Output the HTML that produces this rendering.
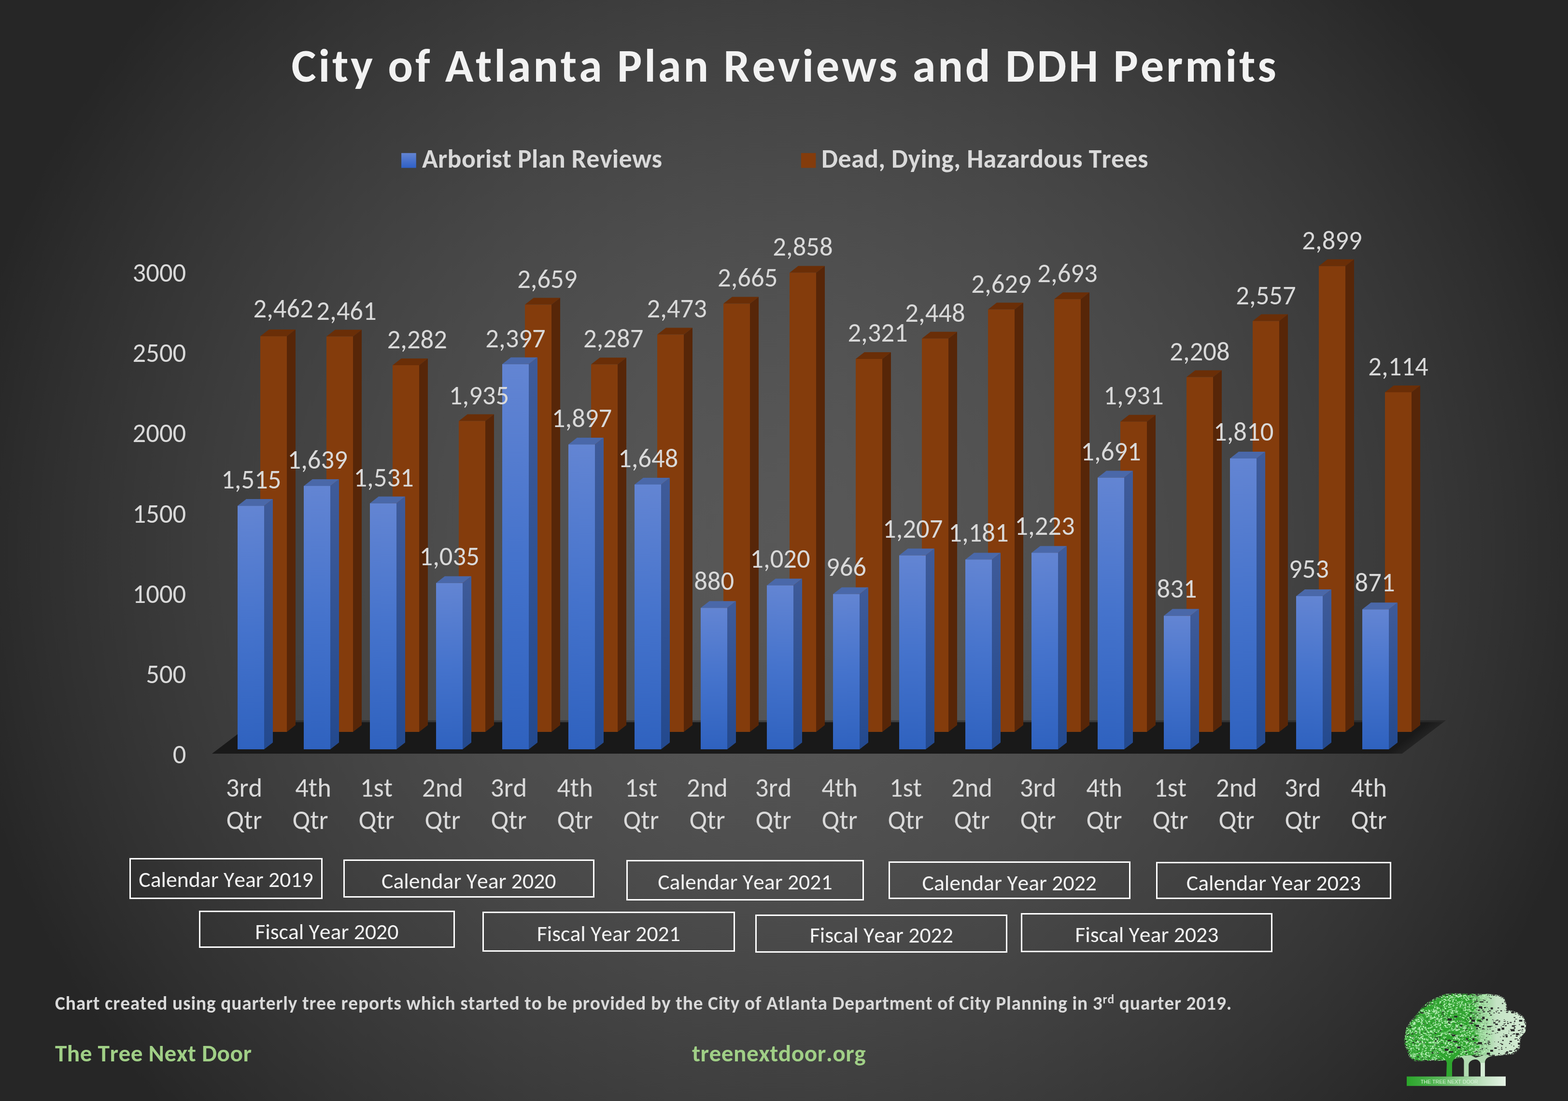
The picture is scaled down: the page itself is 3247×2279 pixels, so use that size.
<!DOCTYPE html>
<html><head><meta charset="utf-8"><title>City of Atlanta Plan Reviews and DDH Permits</title>
<style>
html,body{margin:0;padding:0}
body{width:3247px;height:2279px;position:relative;overflow:hidden;font-family:Carlito,'Liberation Sans',sans-serif;
background:radial-gradient(circle 1728px at 1623px 1140px,rgb(87.8,87.8,87.8) 0%,rgb(87.4,87.4,87.4) 5%,rgb(86.6,86.6,86.6) 10%,rgb(85.5,85.5,85.5) 15%,rgb(84.2,84.2,84.2) 20%,rgb(82.6,82.6,82.6) 25%,rgb(80.8,80.8,80.8) 30%,rgb(78.8,78.8,78.8) 35%,rgb(76.6,76.6,76.6) 40%,rgb(74.2,74.2,74.2) 45%,rgb(71.7,71.7,71.7) 50%,rgb(69.0,69.0,69.0) 55%,rgb(66.1,66.1,66.1) 60%,rgb(63.1,63.1,63.1) 65%,rgb(60.0,60.0,60.0) 70%,rgb(56.6,56.6,56.6) 75%,rgb(53.2,53.2,53.2) 80%,rgb(49.6,49.6,49.6) 85%,rgb(45.9,45.9,45.9) 90%,rgb(42.0,42.0,42.0) 95%,rgb(38.0,38.0,38.0) 100%);}
</style></head><body>
<svg width="3247" height="2279" viewBox="0 0 3247 2279" style="position:absolute;left:0;top:0">
<defs>
<linearGradient id="gbf" x1="0" y1="0" x2="0" y2="1">
<stop offset="0" stop-color="#6385d3"/><stop offset="0.5" stop-color="#4573cc"/><stop offset="1" stop-color="#2f62bf"/></linearGradient>
<linearGradient id="gbs" x1="0" y1="0" x2="0" y2="1">
<stop offset="0" stop-color="#3f5b99"/><stop offset="1" stop-color="#23498e"/></linearGradient>
<linearGradient id="gfl" gradientUnits="userSpaceOnUse" x1="2891.4" y1="1544.1" x2="2903.5" y2="1560">
<stop offset="0" stop-color="#191919"/><stop offset="1" stop-color="#232323"/></linearGradient>
<linearGradient id="glg" x1="0" y1="0" x2="0" y2="1">
<stop offset="0" stop-color="#6384d2"/><stop offset="1" stop-color="#2f60c6"/></linearGradient>
</defs>
<style>
.bf{fill:url(#gbf)} .bs{fill:url(#gbs)} .bt{fill:#4a68a9}
.of{fill:#843c0c} .os{fill:#572608} .ot{fill:#6a2e07}
text{font-family:Carlito,'Liberation Sans',sans-serif;fill:#d9d9d9;font-kerning:none;font-variant-ligatures:none;white-space:pre}
.c5{font-size:54.6px}
.ti{font-size:96.6px;font-weight:bold;letter-spacing:4.75px;fill:#f2f2f2}
.lgt{font-size:54px;font-weight:bold;letter-spacing:0.35px}
.bx{font-size:45.7px;fill:#f2f2f2}
.nt{font-size:39.4px;font-weight:bold;letter-spacing:0.835px}
.gr{font-size:49.3px;font-weight:bold;letter-spacing:0.45px;fill:#a0cf86}
</style>
<text id="title" x="1625.5" y="168.6" text-anchor="middle" class="ti" textLength="2043.86" lengthAdjust="spacingAndGlyphs">City of Atlanta Plan Reviews and DDH Permits</text>
<rect x="831.1" y="316.8" width="30.6" height="30.7" fill="url(#glg)"/>
<text id="lg1" x="874.0" y="347.2" class="lgt" textLength="497.42" lengthAdjust="spacingAndGlyphs">Arborist Plan Reviews</text>
<rect x="1658.8" y="316.8" width="30.6" height="30.7" fill="#843c0c"/>
<text id="lg2" x="1701.0" y="347.2" class="lgt" textLength="677.00" lengthAdjust="spacingAndGlyphs">Dead, Dying, Hazardous Trees</text>
<polygon fill="rgba(0,0,0,0.25)" points="529.5,1491.0 2994.0,1491.0 2989.0,1495.0 524.5,1495.0"/>
<polygon fill="url(#gfl)" points="439.0,1560.0 2903.5,1560.0 2989.0,1495.0 524.5,1495.0"/>
<polygon class="os" points="594.0,1515.0 612.0,1501.0 612.0,682.1 594.0,696.1"/>
<polygon class="ot" points="539.0,696.1 594.0,696.1 612.0,682.1 557.0,682.1"/>
<rect class="of" x="539.0" y="696.1" width="55.0" height="818.9"/>
<polygon class="os" points="731.0,1515.0 749.0,1501.0 749.0,682.5 731.0,696.5"/>
<polygon class="ot" points="676.0,696.5 731.0,696.5 749.0,682.5 694.0,682.5"/>
<rect class="of" x="676.0" y="696.5" width="55.0" height="818.5"/>
<polygon class="os" points="868.0,1515.0 886.0,1501.0 886.0,742.0 868.0,756.0"/>
<polygon class="ot" points="813.0,756.0 868.0,756.0 886.0,742.0 831.0,742.0"/>
<rect class="of" x="813.0" y="756.0" width="55.0" height="759.0"/>
<polygon class="os" points="1005.0,1515.0 1023.0,1501.0 1023.0,857.4 1005.0,871.4"/>
<polygon class="ot" points="950.0,871.4 1005.0,871.4 1023.0,857.4 968.0,857.4"/>
<rect class="of" x="950.0" y="871.4" width="55.0" height="643.6"/>
<polygon class="os" points="1142.0,1515.0 1160.0,1501.0 1160.0,616.6 1142.0,630.6"/>
<polygon class="ot" points="1087.0,630.6 1142.0,630.6 1160.0,616.6 1105.0,616.6"/>
<rect class="of" x="1087.0" y="630.6" width="55.0" height="884.4"/>
<polygon class="os" points="1279.0,1515.0 1297.0,1501.0 1297.0,740.3 1279.0,754.3"/>
<polygon class="ot" points="1224.0,754.3 1279.0,754.3 1297.0,740.3 1242.0,740.3"/>
<rect class="of" x="1224.0" y="754.3" width="55.0" height="760.7"/>
<polygon class="os" points="1416.0,1515.0 1434.0,1501.0 1434.0,678.5 1416.0,692.5"/>
<polygon class="ot" points="1361.0,692.5 1416.0,692.5 1434.0,678.5 1379.0,678.5"/>
<rect class="of" x="1361.0" y="692.5" width="55.0" height="822.5"/>
<polygon class="os" points="1553.0,1515.0 1571.0,1501.0 1571.0,614.6 1553.0,628.6"/>
<polygon class="ot" points="1498.0,628.6 1553.0,628.6 1571.0,614.6 1516.0,614.6"/>
<rect class="of" x="1498.0" y="628.6" width="55.0" height="886.4"/>
<polygon class="os" points="1690.0,1515.0 1708.0,1501.0 1708.0,550.4 1690.0,564.4"/>
<polygon class="ot" points="1635.0,564.4 1690.0,564.4 1708.0,550.4 1653.0,550.4"/>
<rect class="of" x="1635.0" y="564.4" width="55.0" height="950.6"/>
<polygon class="os" points="1827.0,1515.0 1845.0,1501.0 1845.0,729.0 1827.0,743.0"/>
<polygon class="ot" points="1772.0,743.0 1827.0,743.0 1845.0,729.0 1790.0,729.0"/>
<rect class="of" x="1772.0" y="743.0" width="55.0" height="772.0"/>
<polygon class="os" points="1964.0,1515.0 1982.0,1501.0 1982.0,686.8 1964.0,700.8"/>
<polygon class="ot" points="1909.0,700.8 1964.0,700.8 1982.0,686.8 1927.0,686.8"/>
<rect class="of" x="1909.0" y="700.8" width="55.0" height="814.2"/>
<polygon class="os" points="2101.0,1515.0 2119.0,1501.0 2119.0,626.6 2101.0,640.6"/>
<polygon class="ot" points="2046.0,640.6 2101.0,640.6 2119.0,626.6 2064.0,626.6"/>
<rect class="of" x="2046.0" y="640.6" width="55.0" height="874.4"/>
<polygon class="os" points="2238.0,1515.0 2256.0,1501.0 2256.0,605.3 2238.0,619.3"/>
<polygon class="ot" points="2183.0,619.3 2238.0,619.3 2256.0,605.3 2201.0,605.3"/>
<rect class="of" x="2183.0" y="619.3" width="55.0" height="895.7"/>
<polygon class="os" points="2375.0,1515.0 2393.0,1501.0 2393.0,858.7 2375.0,872.7"/>
<polygon class="ot" points="2320.0,872.7 2375.0,872.7 2393.0,858.7 2338.0,858.7"/>
<rect class="of" x="2320.0" y="872.7" width="55.0" height="642.3"/>
<polygon class="os" points="2512.0,1515.0 2530.0,1501.0 2530.0,766.6 2512.0,780.6"/>
<polygon class="ot" points="2457.0,780.6 2512.0,780.6 2530.0,766.6 2475.0,766.6"/>
<rect class="of" x="2457.0" y="780.6" width="55.0" height="734.4"/>
<polygon class="os" points="2649.0,1515.0 2667.0,1501.0 2667.0,650.5 2649.0,664.5"/>
<polygon class="ot" points="2594.0,664.5 2649.0,664.5 2667.0,650.5 2612.0,650.5"/>
<rect class="of" x="2594.0" y="664.5" width="55.0" height="850.5"/>
<polygon class="os" points="2786.0,1515.0 2804.0,1501.0 2804.0,536.8 2786.0,550.8"/>
<polygon class="ot" points="2731.0,550.8 2786.0,550.8 2804.0,536.8 2749.0,536.8"/>
<rect class="of" x="2731.0" y="550.8" width="55.0" height="964.2"/>
<polygon class="os" points="2923.0,1515.0 2941.0,1501.0 2941.0,797.9 2923.0,811.9"/>
<polygon class="ot" points="2868.0,811.9 2923.0,811.9 2941.0,797.9 2886.0,797.9"/>
<rect class="of" x="2868.0" y="811.9" width="55.0" height="703.1"/>
<polygon class="bs" points="547.0,1551.0 565.0,1537.0 565.0,1033.1 547.0,1047.1"/>
<polygon class="bt" points="492.0,1047.1 547.0,1047.1 565.0,1033.1 510.0,1033.1"/>
<rect class="bf" x="492.0" y="1047.1" width="55.0" height="503.9"/>
<polygon class="bs" points="684.0,1551.0 702.0,1537.0 702.0,991.9 684.0,1005.9"/>
<polygon class="bt" points="629.0,1005.9 684.0,1005.9 702.0,991.9 647.0,991.9"/>
<rect class="bf" x="629.0" y="1005.9" width="55.0" height="545.1"/>
<polygon class="bs" points="821.0,1551.0 839.0,1537.0 839.0,1027.8 821.0,1041.8"/>
<polygon class="bt" points="766.0,1041.8 821.0,1041.8 839.0,1027.8 784.0,1027.8"/>
<rect class="bf" x="766.0" y="1041.8" width="55.0" height="509.2"/>
<polygon class="bs" points="958.0,1551.0 976.0,1537.0 976.0,1192.8 958.0,1206.8"/>
<polygon class="bt" points="903.0,1206.8 958.0,1206.8 976.0,1192.8 921.0,1192.8"/>
<rect class="bf" x="903.0" y="1206.8" width="55.0" height="344.2"/>
<polygon class="bs" points="1095.0,1551.0 1113.0,1537.0 1113.0,739.8 1095.0,753.8"/>
<polygon class="bt" points="1040.0,753.8 1095.0,753.8 1113.0,739.8 1058.0,739.8"/>
<rect class="bf" x="1040.0" y="753.8" width="55.0" height="797.2"/>
<polygon class="bs" points="1232.0,1551.0 1250.0,1537.0 1250.0,906.1 1232.0,920.1"/>
<polygon class="bt" points="1177.0,920.1 1232.0,920.1 1250.0,906.1 1195.0,906.1"/>
<rect class="bf" x="1177.0" y="920.1" width="55.0" height="630.9"/>
<polygon class="bs" points="1369.0,1551.0 1387.0,1537.0 1387.0,988.9 1369.0,1002.9"/>
<polygon class="bt" points="1314.0,1002.9 1369.0,1002.9 1387.0,988.9 1332.0,988.9"/>
<rect class="bf" x="1314.0" y="1002.9" width="55.0" height="548.1"/>
<polygon class="bs" points="1506.0,1551.0 1524.0,1537.0 1524.0,1244.3 1506.0,1258.3"/>
<polygon class="bt" points="1451.0,1258.3 1506.0,1258.3 1524.0,1244.3 1469.0,1244.3"/>
<rect class="bf" x="1451.0" y="1258.3" width="55.0" height="292.7"/>
<polygon class="bs" points="1643.0,1551.0 1661.0,1537.0 1661.0,1197.7 1643.0,1211.7"/>
<polygon class="bt" points="1588.0,1211.7 1643.0,1211.7 1661.0,1197.7 1606.0,1197.7"/>
<rect class="bf" x="1588.0" y="1211.7" width="55.0" height="339.3"/>
<polygon class="bs" points="1780.0,1551.0 1798.0,1537.0 1798.0,1215.7 1780.0,1229.7"/>
<polygon class="bt" points="1725.0,1229.7 1780.0,1229.7 1798.0,1215.7 1743.0,1215.7"/>
<rect class="bf" x="1725.0" y="1229.7" width="55.0" height="321.3"/>
<polygon class="bs" points="1917.0,1551.0 1935.0,1537.0 1935.0,1135.6 1917.0,1149.6"/>
<polygon class="bt" points="1862.0,1149.6 1917.0,1149.6 1935.0,1135.6 1880.0,1135.6"/>
<rect class="bf" x="1862.0" y="1149.6" width="55.0" height="401.4"/>
<polygon class="bs" points="2054.0,1551.0 2072.0,1537.0 2072.0,1144.2 2054.0,1158.2"/>
<polygon class="bt" points="1999.0,1158.2 2054.0,1158.2 2072.0,1144.2 2017.0,1144.2"/>
<rect class="bf" x="1999.0" y="1158.2" width="55.0" height="392.8"/>
<polygon class="bs" points="2191.0,1551.0 2209.0,1537.0 2209.0,1130.2 2191.0,1144.2"/>
<polygon class="bt" points="2136.0,1144.2 2191.0,1144.2 2209.0,1130.2 2154.0,1130.2"/>
<rect class="bf" x="2136.0" y="1144.2" width="55.0" height="406.8"/>
<polygon class="bs" points="2328.0,1551.0 2346.0,1537.0 2346.0,974.6 2328.0,988.6"/>
<polygon class="bt" points="2273.0,988.6 2328.0,988.6 2346.0,974.6 2291.0,974.6"/>
<rect class="bf" x="2273.0" y="988.6" width="55.0" height="562.4"/>
<polygon class="bs" points="2465.0,1551.0 2483.0,1537.0 2483.0,1260.6 2465.0,1274.6"/>
<polygon class="bt" points="2410.0,1274.6 2465.0,1274.6 2483.0,1260.6 2428.0,1260.6"/>
<rect class="bf" x="2410.0" y="1274.6" width="55.0" height="276.4"/>
<polygon class="bs" points="2602.0,1551.0 2620.0,1537.0 2620.0,935.0 2602.0,949.0"/>
<polygon class="bt" points="2547.0,949.0 2602.0,949.0 2620.0,935.0 2565.0,935.0"/>
<rect class="bf" x="2547.0" y="949.0" width="55.0" height="602.0"/>
<polygon class="bs" points="2739.0,1551.0 2757.0,1537.0 2757.0,1220.0 2739.0,1234.0"/>
<polygon class="bt" points="2684.0,1234.0 2739.0,1234.0 2757.0,1220.0 2702.0,1220.0"/>
<rect class="bf" x="2684.0" y="1234.0" width="55.0" height="317.0"/>
<polygon class="bs" points="2876.0,1551.0 2894.0,1537.0 2894.0,1247.3 2876.0,1261.3"/>
<polygon class="bt" points="2821.0,1261.3 2876.0,1261.3 2894.0,1247.3 2839.0,1247.3"/>
<rect class="bf" x="2821.0" y="1261.3" width="55.0" height="289.7"/>
<text id="o0" x="586.7" y="656.6" text-anchor="middle" class="c5" textLength="124.31" lengthAdjust="spacingAndGlyphs">2,462</text>
<text id="o1" x="717.5" y="661.9" text-anchor="middle" class="c5" textLength="124.31" lengthAdjust="spacingAndGlyphs">2,461</text>
<text id="o2" x="863.8" y="721.2" text-anchor="middle" class="c5" textLength="124.31" lengthAdjust="spacingAndGlyphs">2,282</text>
<text id="o3" x="992.0" y="836.8" text-anchor="middle" class="c5" textLength="124.31" lengthAdjust="spacingAndGlyphs">1,935</text>
<text id="o4" x="1133.3" y="595.7" text-anchor="middle" class="c5" textLength="124.31" lengthAdjust="spacingAndGlyphs">2,659</text>
<text id="o5" x="1270.2" y="719.1" text-anchor="middle" class="c5" textLength="124.31" lengthAdjust="spacingAndGlyphs">2,287</text>
<text id="o6" x="1401.7" y="656.8" text-anchor="middle" class="c5" textLength="124.31" lengthAdjust="spacingAndGlyphs">2,473</text>
<text id="o7" x="1548.2" y="593.3" text-anchor="middle" class="c5" textLength="124.31" lengthAdjust="spacingAndGlyphs">2,665</text>
<text id="o8" x="1662.5" y="529.4" text-anchor="middle" class="c5" textLength="124.31" lengthAdjust="spacingAndGlyphs">2,858</text>
<text id="o9" x="1817.6" y="706.8" text-anchor="middle" class="c5" textLength="124.31" lengthAdjust="spacingAndGlyphs">2,321</text>
<text id="o10" x="1936.5" y="665.8" text-anchor="middle" class="c5" textLength="124.31" lengthAdjust="spacingAndGlyphs">2,448</text>
<text id="o11" x="2073.5" y="605.6" text-anchor="middle" class="c5" textLength="124.31" lengthAdjust="spacingAndGlyphs">2,629</text>
<text id="o12" x="2210.5" y="584.3" text-anchor="middle" class="c5" textLength="124.31" lengthAdjust="spacingAndGlyphs">2,693</text>
<text id="o13" x="2347.5" y="836.7" text-anchor="middle" class="c5" textLength="124.31" lengthAdjust="spacingAndGlyphs">1,931</text>
<text id="o14" x="2484.5" y="745.6" text-anchor="middle" class="c5" textLength="124.31" lengthAdjust="spacingAndGlyphs">2,208</text>
<text id="o15" x="2621.5" y="629.5" text-anchor="middle" class="c5" textLength="124.31" lengthAdjust="spacingAndGlyphs">2,557</text>
<text id="o16" x="2758.5" y="515.8" text-anchor="middle" class="c5" textLength="124.31" lengthAdjust="spacingAndGlyphs">2,899</text>
<text id="o17" x="2895.5" y="776.9" text-anchor="middle" class="c5" textLength="124.31" lengthAdjust="spacingAndGlyphs">2,114</text>
<text id="b0" x="520.3" y="1010.9" text-anchor="middle" class="c5" textLength="124.31" lengthAdjust="spacingAndGlyphs">1,515</text>
<text id="b1" x="657.7" y="970.3" text-anchor="middle" class="c5" textLength="124.31" lengthAdjust="spacingAndGlyphs">1,639</text>
<text id="b2" x="794.6" y="1006.9" text-anchor="middle" class="c5" textLength="124.31" lengthAdjust="spacingAndGlyphs">1,531</text>
<text id="b3" x="930.7" y="1170.2" text-anchor="middle" class="c5" textLength="124.31" lengthAdjust="spacingAndGlyphs">1,035</text>
<text id="b4" x="1067.5" y="719.1" text-anchor="middle" class="c5" textLength="124.31" lengthAdjust="spacingAndGlyphs">2,397</text>
<text id="b5" x="1205.0" y="884.2" text-anchor="middle" class="c5" textLength="124.31" lengthAdjust="spacingAndGlyphs">1,897</text>
<text id="b6" x="1342.2" y="966.5" text-anchor="middle" class="c5" textLength="124.31" lengthAdjust="spacingAndGlyphs">1,648</text>
<text id="b7" x="1478.7" y="1220.7" text-anchor="middle" class="c5" textLength="83.02" lengthAdjust="spacingAndGlyphs">880</text>
<text id="b8" x="1615.5" y="1175.3" text-anchor="middle" class="c5" textLength="124.31" lengthAdjust="spacingAndGlyphs">1,020</text>
<text id="b9" x="1752.5" y="1192.0" text-anchor="middle" class="c5" textLength="83.02" lengthAdjust="spacingAndGlyphs">966</text>
<text id="b10" x="1890.2" y="1112.5" text-anchor="middle" class="c5" textLength="124.31" lengthAdjust="spacingAndGlyphs">1,207</text>
<text id="b11" x="2026.5" y="1121.0" text-anchor="middle" class="c5" textLength="124.31" lengthAdjust="spacingAndGlyphs">1,181</text>
<text id="b12" x="2163.5" y="1107.0" text-anchor="middle" class="c5" textLength="124.31" lengthAdjust="spacingAndGlyphs">1,223</text>
<text id="b13" x="2300.5" y="953.0" text-anchor="middle" class="c5" textLength="124.31" lengthAdjust="spacingAndGlyphs">1,691</text>
<text id="b14" x="2437.0" y="1237.4" text-anchor="middle" class="c5" textLength="83.02" lengthAdjust="spacingAndGlyphs">831</text>
<text id="b15" x="2575.2" y="911.7" text-anchor="middle" class="c5" textLength="124.31" lengthAdjust="spacingAndGlyphs">1,810</text>
<text id="b16" x="2710.5" y="1196.2" text-anchor="middle" class="c5" textLength="83.02" lengthAdjust="spacingAndGlyphs">953</text>
<text id="b17" x="2847.1" y="1224.4" text-anchor="middle" class="c5" textLength="83.02" lengthAdjust="spacingAndGlyphs">871</text>
<text id="ax0" x="385.3" y="1580.4" text-anchor="end" class="c5" textLength="27.67" lengthAdjust="spacingAndGlyphs">0</text>
<text id="ax1" x="385.3" y="1414.1" text-anchor="end" class="c5" textLength="83.02" lengthAdjust="spacingAndGlyphs">500</text>
<text id="ax2" x="385.3" y="1247.8" text-anchor="end" class="c5" textLength="110.69" lengthAdjust="spacingAndGlyphs">1000</text>
<text id="ax3" x="385.3" y="1081.5" text-anchor="end" class="c5" textLength="110.69" lengthAdjust="spacingAndGlyphs">1500</text>
<text id="ax4" x="385.3" y="915.2" text-anchor="end" class="c5" textLength="110.69" lengthAdjust="spacingAndGlyphs">2000</text>
<text id="ax5" x="385.3" y="748.9" text-anchor="end" class="c5" textLength="110.69" lengthAdjust="spacingAndGlyphs">2500</text>
<text id="ax6" x="385.3" y="582.6" text-anchor="end" class="c5" textLength="110.69" lengthAdjust="spacingAndGlyphs">3000</text>
<text id="ca0" x="505.5" y="1649.0" text-anchor="middle" class="c5" textLength="75.39" lengthAdjust="spacingAndGlyphs">3rd</text>
<text id="cb0" x="505.5" y="1716.0" text-anchor="middle" class="c5" textLength="74.06" lengthAdjust="spacingAndGlyphs">Qtr</text>
<text id="ca1" x="648.5" y="1649.0" text-anchor="middle" class="c5" textLength="74.64" lengthAdjust="spacingAndGlyphs">4th</text>
<text id="cb1" x="642.5" y="1716.0" text-anchor="middle" class="c5" textLength="74.06" lengthAdjust="spacingAndGlyphs">Qtr</text>
<text id="ca2" x="779.5" y="1649.0" text-anchor="middle" class="c5" textLength="67.31" lengthAdjust="spacingAndGlyphs">1st</text>
<text id="cb2" x="779.5" y="1716.0" text-anchor="middle" class="c5" textLength="74.06" lengthAdjust="spacingAndGlyphs">Qtr</text>
<text id="ca3" x="916.5" y="1649.0" text-anchor="middle" class="c5" textLength="85.05" lengthAdjust="spacingAndGlyphs">2nd</text>
<text id="cb3" x="916.5" y="1716.0" text-anchor="middle" class="c5" textLength="74.06" lengthAdjust="spacingAndGlyphs">Qtr</text>
<text id="ca4" x="1053.5" y="1649.0" text-anchor="middle" class="c5" textLength="75.39" lengthAdjust="spacingAndGlyphs">3rd</text>
<text id="cb4" x="1053.5" y="1716.0" text-anchor="middle" class="c5" textLength="74.06" lengthAdjust="spacingAndGlyphs">Qtr</text>
<text id="ca5" x="1190.5" y="1649.0" text-anchor="middle" class="c5" textLength="74.64" lengthAdjust="spacingAndGlyphs">4th</text>
<text id="cb5" x="1190.5" y="1716.0" text-anchor="middle" class="c5" textLength="74.06" lengthAdjust="spacingAndGlyphs">Qtr</text>
<text id="ca6" x="1327.5" y="1649.0" text-anchor="middle" class="c5" textLength="67.31" lengthAdjust="spacingAndGlyphs">1st</text>
<text id="cb6" x="1327.5" y="1716.0" text-anchor="middle" class="c5" textLength="74.06" lengthAdjust="spacingAndGlyphs">Qtr</text>
<text id="ca7" x="1464.5" y="1649.0" text-anchor="middle" class="c5" textLength="85.05" lengthAdjust="spacingAndGlyphs">2nd</text>
<text id="cb7" x="1464.5" y="1716.0" text-anchor="middle" class="c5" textLength="74.06" lengthAdjust="spacingAndGlyphs">Qtr</text>
<text id="ca8" x="1601.5" y="1649.0" text-anchor="middle" class="c5" textLength="75.39" lengthAdjust="spacingAndGlyphs">3rd</text>
<text id="cb8" x="1601.5" y="1716.0" text-anchor="middle" class="c5" textLength="74.06" lengthAdjust="spacingAndGlyphs">Qtr</text>
<text id="ca9" x="1738.5" y="1649.0" text-anchor="middle" class="c5" textLength="74.64" lengthAdjust="spacingAndGlyphs">4th</text>
<text id="cb9" x="1738.5" y="1716.0" text-anchor="middle" class="c5" textLength="74.06" lengthAdjust="spacingAndGlyphs">Qtr</text>
<text id="ca10" x="1875.5" y="1649.0" text-anchor="middle" class="c5" textLength="67.31" lengthAdjust="spacingAndGlyphs">1st</text>
<text id="cb10" x="1875.5" y="1716.0" text-anchor="middle" class="c5" textLength="74.06" lengthAdjust="spacingAndGlyphs">Qtr</text>
<text id="ca11" x="2012.5" y="1649.0" text-anchor="middle" class="c5" textLength="85.05" lengthAdjust="spacingAndGlyphs">2nd</text>
<text id="cb11" x="2012.5" y="1716.0" text-anchor="middle" class="c5" textLength="74.06" lengthAdjust="spacingAndGlyphs">Qtr</text>
<text id="ca12" x="2149.5" y="1649.0" text-anchor="middle" class="c5" textLength="75.39" lengthAdjust="spacingAndGlyphs">3rd</text>
<text id="cb12" x="2149.5" y="1716.0" text-anchor="middle" class="c5" textLength="74.06" lengthAdjust="spacingAndGlyphs">Qtr</text>
<text id="ca13" x="2286.5" y="1649.0" text-anchor="middle" class="c5" textLength="74.64" lengthAdjust="spacingAndGlyphs">4th</text>
<text id="cb13" x="2286.5" y="1716.0" text-anchor="middle" class="c5" textLength="74.06" lengthAdjust="spacingAndGlyphs">Qtr</text>
<text id="ca14" x="2423.5" y="1649.0" text-anchor="middle" class="c5" textLength="67.31" lengthAdjust="spacingAndGlyphs">1st</text>
<text id="cb14" x="2423.5" y="1716.0" text-anchor="middle" class="c5" textLength="74.06" lengthAdjust="spacingAndGlyphs">Qtr</text>
<text id="ca15" x="2560.5" y="1649.0" text-anchor="middle" class="c5" textLength="85.05" lengthAdjust="spacingAndGlyphs">2nd</text>
<text id="cb15" x="2560.5" y="1716.0" text-anchor="middle" class="c5" textLength="74.06" lengthAdjust="spacingAndGlyphs">Qtr</text>
<text id="ca16" x="2697.5" y="1649.0" text-anchor="middle" class="c5" textLength="75.39" lengthAdjust="spacingAndGlyphs">3rd</text>
<text id="cb16" x="2697.5" y="1716.0" text-anchor="middle" class="c5" textLength="74.06" lengthAdjust="spacingAndGlyphs">Qtr</text>
<text id="ca17" x="2834.5" y="1649.0" text-anchor="middle" class="c5" textLength="74.64" lengthAdjust="spacingAndGlyphs">4th</text>
<text id="cb17" x="2834.5" y="1716.0" text-anchor="middle" class="c5" textLength="74.06" lengthAdjust="spacingAndGlyphs">Qtr</text>
<rect x="269.5" y="1777.5" width="397" height="82" fill="none" stroke="#ffffff" stroke-width="3"/>
<text id="bx0" x="468.0" y="1836.3" text-anchor="middle" class="bx" textLength="361.38" lengthAdjust="spacingAndGlyphs">Calendar Year 2019</text>
<rect x="712.5" y="1780.5" width="517" height="76" fill="none" stroke="#ffffff" stroke-width="3"/>
<text id="bx1" x="970.8" y="1839.0" text-anchor="middle" class="bx" textLength="361.38" lengthAdjust="spacingAndGlyphs">Calendar Year 2020</text>
<rect x="1298.5" y="1781.5" width="489" height="81" fill="none" stroke="#ffffff" stroke-width="3"/>
<text id="bx2" x="1542.9" y="1840.6" text-anchor="middle" class="bx" textLength="361.38" lengthAdjust="spacingAndGlyphs">Calendar Year 2021</text>
<rect x="1841.5" y="1784.5" width="498" height="75" fill="none" stroke="#ffffff" stroke-width="3"/>
<text id="bx3" x="2090.3" y="1842.8" text-anchor="middle" class="bx" textLength="361.38" lengthAdjust="spacingAndGlyphs">Calendar Year 2022</text>
<rect x="2395.5" y="1785.5" width="484" height="74" fill="none" stroke="#ffffff" stroke-width="3"/>
<text id="bx4" x="2637.5" y="1842.8" text-anchor="middle" class="bx" textLength="361.38" lengthAdjust="spacingAndGlyphs">Calendar Year 2023</text>
<rect x="413.5" y="1886.5" width="527" height="74" fill="none" stroke="#ffffff" stroke-width="3"/>
<text id="bx5" x="676.8" y="1943.8" text-anchor="middle" class="bx" textLength="297.12" lengthAdjust="spacingAndGlyphs">Fiscal Year 2020</text>
<rect x="1000.5" y="1888.5" width="520" height="80" fill="none" stroke="#ffffff" stroke-width="3"/>
<text id="bx6" x="1260.3" y="1948.0" text-anchor="middle" class="bx" textLength="297.12" lengthAdjust="spacingAndGlyphs">Fiscal Year 2021</text>
<rect x="1565.5" y="1894.5" width="519" height="76" fill="none" stroke="#ffffff" stroke-width="3"/>
<text id="bx7" x="1825.3" y="1950.8" text-anchor="middle" class="bx" textLength="297.12" lengthAdjust="spacingAndGlyphs">Fiscal Year 2022</text>
<rect x="2115.5" y="1891.5" width="518" height="78" fill="none" stroke="#ffffff" stroke-width="3"/>
<text id="bx8" x="2374.8" y="1949.5" text-anchor="middle" class="bx" textLength="297.12" lengthAdjust="spacingAndGlyphs">Fiscal Year 2023</text>
<text id="note" x="114.0" y="2090.0" class="nt" textLength="2437.08" lengthAdjust="spacingAndGlyphs">Chart created using quarterly tree reports which started to be provided by the City of Atlanta Department of City Planning in 3<tspan dy="-12.8" style="font-size:25.6px">rd</tspan><tspan dy="12.8"> quarter 2019.</tspan></text>
<text id="tnd" x="114.0" y="2197.2" class="gr" textLength="407.42" lengthAdjust="spacingAndGlyphs">The Tree Next Door</text>
<text id="url" x="1433.0" y="2197.2" class="gr" textLength="360.02" lengthAdjust="spacingAndGlyphs">treenextdoor.org</text>
</svg>
<svg width="3247" height="2279" viewBox="0 0 3247 2279" style="position:absolute;left:0;top:0">
<defs>
<linearGradient id="lgc" gradientUnits="userSpaceOnUse" x1="2900" y1="0" x2="3165" y2="0">
<stop offset="0" stop-color="#36a636"/><stop offset="0.55" stop-color="#34a534"/><stop offset="0.63" stop-color="#8fcc8f"/><stop offset="0.75" stop-color="#c4e3c4"/><stop offset="1" stop-color="#d8edd8"/></linearGradient>
<linearGradient id="lgb" gradientUnits="userSpaceOnUse" x1="2913" y1="0" x2="3118" y2="0">
<stop offset="0" stop-color="#2aa52a"/><stop offset="0.35" stop-color="#5cb85c"/><stop offset="0.7" stop-color="#b4dcb4"/><stop offset="1" stop-color="#e6f3e6"/></linearGradient>
<clipPath id="lcp"><polygon points="2907.8,2153.0 2912.0,2128.0 2922.0,2112.0 2930.0,2104.0 2945.0,2085.0 2956.0,2075.0 2972.0,2066.0 2991.0,2058.0 3010.0,2056.0 3030.0,2056.7 3056.0,2057.4 3075.0,2057.0 3089.0,2058.0 3105.0,2060.0 3115.0,2066.0 3120.0,2080.0 3121.0,2090.6 3135.0,2093.0 3145.0,2097.0 3155.0,2105.0 3160.5,2118.0 3159.0,2136.0 3150.0,2146.0 3147.5,2158.0 3147.5,2169.0 3140.0,2178.0 3134.0,2182.0 3115.0,2184.0 3095.0,2186.0 3082.0,2185.7 3060.0,2186.0 3045.0,2186.0 3030.0,2188.0 3010.0,2192.0 2991.0,2195.0 2970.0,2196.0 2952.0,2196.0 2935.0,2197.0 2928.6,2196.0 2918.0,2188.0 2914.0,2175.0 2909.0,2165.0"/></clipPath>
</defs>
<polygon points="2907.8,2153.0 2912.0,2128.0 2922.0,2112.0 2930.0,2104.0 2945.0,2085.0 2956.0,2075.0 2972.0,2066.0 2991.0,2058.0 3010.0,2056.0 3030.0,2056.7 3056.0,2057.4 3075.0,2057.0 3089.0,2058.0 3105.0,2060.0 3115.0,2066.0 3120.0,2080.0 3121.0,2090.6 3135.0,2093.0 3145.0,2097.0 3155.0,2105.0 3160.5,2118.0 3159.0,2136.0 3150.0,2146.0 3147.5,2158.0 3147.5,2169.0 3140.0,2178.0 3134.0,2182.0 3115.0,2184.0 3095.0,2186.0 3082.0,2185.7 3060.0,2186.0 3045.0,2186.0 3030.0,2188.0 3010.0,2192.0 2991.0,2195.0 2970.0,2196.0 2952.0,2196.0 2935.0,2197.0 2928.6,2196.0 2918.0,2188.0 2914.0,2175.0 2909.0,2165.0" fill="url(#lgc)"/>
<g clip-path="url(#lcp)">
<path d="M2986.4 2134.8h3.4v1.6h-3.4zM2996.4 2138.9h1.5v1.7h-1.5zM3018.4 2169.4h1.2v1.3h-1.2zM2921.3 2171.8h2.8v0.9h-2.8zM3081.8 2194.8h2.7v1.9h-2.7zM2933.3 2054.2h2.4v0.9h-2.4zM2939.2 2087.8h1.1v1.6h-1.1zM2984.3 2176.7h2.3v2.0h-2.3zM2995.0 2150.0h2.2v1.3h-2.2zM3084.6 2199.4h3.2v2.1h-3.2zM2961.7 2086.0h1.8v0.9h-1.8zM3042.9 2111.3h3.2v1.5h-3.2zM3077.4 2177.4h1.0v1.2h-1.0zM3068.8 2121.6h3.5v1.5h-3.5zM2918.1 2145.2h3.0v1.3h-3.0zM2920.7 2101.2h3.5v2.2h-3.5zM2926.2 2088.5h1.3v0.9h-1.3zM3048.5 2078.3h2.5v1.6h-2.5zM2939.3 2160.3h1.3v2.0h-1.3zM2926.0 2114.3h1.6v1.3h-1.6zM3079.8 2170.9h1.8v2.4h-1.8zM2942.9 2110.4h3.2v2.0h-3.2zM2923.1 2198.4h1.6v1.3h-1.6zM3044.1 2100.7h1.8v0.9h-1.8zM2921.2 2138.2h1.6v1.9h-1.6zM2971.9 2119.1h3.5v1.7h-3.5zM3008.4 2180.2h1.5v1.1h-1.5zM3068.5 2173.0h1.6v1.1h-1.6zM3038.1 2191.2h1.5v2.5h-1.5zM3063.8 2141.3h2.1v1.0h-2.1zM2912.0 2194.5h1.6v2.1h-1.6zM2951.3 2173.9h2.6v1.3h-2.6zM2936.6 2158.6h1.2v1.2h-1.2zM3005.7 2178.2h2.6v1.3h-2.6zM3070.1 2082.2h1.0v1.3h-1.0zM2985.2 2060.9h1.5v1.5h-1.5zM3008.0 2071.5h1.9v2.4h-1.9zM3081.5 2149.2h2.8v1.9h-2.8zM2930.3 2057.2h1.0v2.4h-1.0zM3031.2 2194.5h1.1v1.9h-1.1zM2991.8 2160.1h1.8v2.6h-1.8zM2918.5 2132.8h2.9v2.4h-2.9zM3037.7 2156.1h3.1v2.4h-3.1zM2968.3 2153.4h3.3v2.4h-3.3zM2980.1 2169.0h3.2v1.8h-3.2zM3017.5 2108.6h2.5v1.9h-2.5zM2919.4 2146.6h3.6v2.4h-3.6zM3036.1 2109.5h2.9v1.8h-2.9zM2984.3 2176.1h1.2v2.2h-1.2zM2910.4 2141.0h2.3v1.2h-2.3zM3030.7 2125.6h2.6v2.5h-2.6zM2951.0 2053.7h1.8v2.0h-1.8zM2941.5 2077.1h3.4v2.0h-3.4zM2984.5 2184.0h1.9v2.0h-1.9zM2940.7 2115.8h3.1v2.4h-3.1zM3063.4 2108.9h2.5v1.4h-2.5zM2929.5 2125.5h3.2v2.3h-3.2zM3033.0 2192.6h1.7v1.1h-1.7zM2986.1 2092.7h1.6v1.5h-1.6zM3017.6 2125.1h1.8v2.3h-1.8zM3081.8 2119.0h1.2v0.9h-1.2zM3062.1 2058.1h2.8v1.8h-2.8zM2960.6 2169.1h1.0v1.0h-1.0zM2986.9 2055.7h3.2v1.2h-3.2zM2930.4 2058.9h2.6v1.6h-2.6zM3018.4 2148.9h3.1v2.5h-3.1zM3028.2 2081.5h2.2v1.1h-2.2zM2906.9 2121.9h2.9v1.1h-2.9zM2954.0 2103.2h2.8v1.7h-2.8zM3015.6 2163.9h2.0v2.2h-2.0zM3068.1 2064.9h3.4v2.1h-3.4zM2928.4 2119.1h2.6v2.4h-2.6zM2972.8 2136.2h3.3v2.2h-3.3zM3075.0 2120.6h2.7v1.2h-2.7zM3034.9 2173.1h2.7v2.1h-2.7zM2943.4 2185.2h3.5v2.6h-3.5zM3001.7 2169.0h1.8v2.4h-1.8zM3059.0 2103.6h1.2v1.6h-1.2zM3004.1 2165.7h2.3v0.9h-2.3zM3050.6 2061.5h3.1v1.1h-3.1zM2965.3 2168.6h1.4v1.1h-1.4zM2998.0 2159.1h3.2v2.0h-3.2zM3075.2 2124.9h3.5v1.0h-3.5zM2944.9 2129.9h1.8v2.1h-1.8zM3020.0 2129.4h3.2v1.8h-3.2zM2961.1 2108.4h3.2v2.4h-3.2zM2942.5 2177.9h3.5v1.7h-3.5zM3008.1 2081.7h2.4v1.7h-2.4zM3013.9 2056.1h3.5v1.7h-3.5zM2977.1 2170.6h2.5v1.7h-2.5zM3029.4 2061.8h2.4v1.5h-2.4zM3077.2 2188.7h1.7v1.7h-1.7zM2927.9 2116.2h3.1v2.4h-3.1zM2990.8 2098.9h1.5v1.9h-1.5zM3071.5 2071.2h3.0v0.8h-3.0zM2939.9 2085.6h2.8v1.4h-2.8zM2969.0 2143.7h1.3v2.1h-1.3zM2927.1 2127.5h1.7v1.2h-1.7zM3000.5 2116.6h2.0v1.5h-2.0zM3000.3 2075.6h1.5v1.9h-1.5zM3019.9 2130.4h3.2v1.9h-3.2zM3059.2 2086.4h2.9v2.3h-2.9zM3067.5 2098.7h1.8v2.5h-1.8zM2944.3 2199.8h3.3v1.0h-3.3zM2948.1 2159.5h1.7v1.0h-1.7zM3054.8 2114.4h3.1v1.0h-3.1zM2977.5 2153.4h1.0v1.2h-1.0zM3027.8 2186.9h3.5v1.0h-3.5zM2996.0 2164.2h2.3v2.0h-2.3zM2939.0 2062.4h1.3v0.9h-1.3zM3004.3 2128.2h2.5v1.1h-2.5zM2938.2 2082.2h3.2v2.6h-3.2zM3071.8 2066.1h1.2v2.5h-1.2zM2988.2 2165.2h1.8v1.6h-1.8zM2997.8 2115.7h2.6v0.8h-2.6zM3031.2 2177.0h1.5v1.6h-1.5zM3038.1 2112.0h1.5v1.1h-1.5zM2997.3 2054.3h3.3v2.2h-3.3zM3031.8 2179.4h2.6v1.5h-2.6zM3012.9 2126.6h3.6v2.2h-3.6zM2951.5 2186.9h2.9v2.2h-2.9zM3051.6 2112.0h3.3v2.4h-3.3zM3030.1 2165.6h3.0v1.5h-3.0zM3035.1 2062.4h1.9v1.6h-1.9zM2906.9 2104.6h2.7v1.9h-2.7zM2946.8 2191.8h2.7v1.4h-2.7zM3023.8 2136.3h2.4v1.5h-2.4zM3085.0 2147.1h2.8v2.2h-2.8zM3081.4 2055.4h2.6v2.1h-2.6zM2951.2 2111.4h1.1v1.2h-1.1zM2972.6 2066.6h1.7v2.4h-1.7zM3004.0 2127.2h3.5v1.8h-3.5zM3084.1 2146.4h3.1v0.9h-3.1zM3012.6 2164.4h1.1v2.5h-1.1zM2933.8 2121.8h1.4v1.7h-1.4zM3015.0 2060.7h3.5v1.6h-3.5zM2999.8 2140.5h2.0v1.3h-2.0zM3022.9 2135.0h1.7v2.1h-1.7zM2958.3 2054.1h1.6v0.9h-1.6zM2933.2 2163.7h2.0v2.4h-2.0zM3039.7 2059.4h3.6v2.5h-3.6zM2918.2 2186.0h2.1v1.7h-2.1zM3080.2 2088.1h2.4v2.5h-2.4zM3035.1 2121.3h3.5v2.3h-3.5zM3013.7 2069.0h2.6v1.6h-2.6zM2941.7 2059.7h2.4v1.0h-2.4zM2984.7 2150.8h2.2v1.3h-2.2zM3009.8 2114.1h3.0v1.8h-3.0zM3084.6 2193.0h2.9v1.2h-2.9zM2925.5 2184.1h3.0v1.9h-3.0zM2969.7 2092.2h2.8v1.8h-2.8zM3011.5 2145.7h3.0v1.1h-3.0zM2949.8 2197.0h3.4v2.4h-3.4zM2912.1 2061.0h1.7v1.6h-1.7zM3017.2 2067.2h2.4v0.9h-2.4zM2920.6 2152.1h2.4v1.9h-2.4zM2972.2 2122.8h1.5v1.4h-1.5zM3039.1 2176.1h1.2v1.0h-1.2zM3050.7 2144.3h3.0v1.2h-3.0zM2981.4 2090.2h3.1v1.5h-3.1zM3022.7 2198.4h1.8v1.8h-1.8zM3039.3 2188.3h2.1v1.5h-2.1zM2922.5 2181.5h1.2v0.9h-1.2zM3006.6 2123.8h2.8v1.3h-2.8zM3044.6 2063.3h1.6v2.0h-1.6zM2919.7 2097.0h2.9v2.0h-2.9zM2955.9 2073.2h1.9v2.1h-1.9zM2971.0 2069.4h2.8v1.8h-2.8zM3070.3 2191.1h3.4v1.6h-3.4zM3049.5 2097.1h1.8v1.5h-1.8zM3073.2 2184.4h1.6v1.5h-1.6zM2970.8 2105.8h2.0v1.5h-2.0zM2940.1 2135.4h3.1v1.8h-3.1zM3055.5 2135.3h1.5v2.2h-1.5zM3063.6 2093.7h1.1v1.7h-1.1zM3002.9 2136.0h3.5v2.0h-3.5zM3049.8 2061.5h2.4v2.2h-2.4zM2920.1 2064.1h2.9v2.4h-2.9zM2920.2 2145.9h1.4v2.1h-1.4zM3021.8 2088.3h1.6v2.2h-1.6zM2998.9 2165.2h2.0v1.4h-2.0zM3079.3 2151.5h2.3v1.8h-2.3zM3034.8 2156.8h3.4v1.5h-3.4zM3053.7 2150.7h3.2v2.3h-3.2zM3055.1 2183.5h3.5v2.0h-3.5zM2999.3 2157.1h3.1v1.6h-3.1zM2980.7 2073.6h2.9v2.6h-2.9zM2972.6 2076.8h1.5v1.6h-1.5zM2957.6 2195.5h1.2v1.4h-1.2zM2925.7 2147.9h3.0v1.1h-3.0zM2916.2 2119.9h2.5v2.4h-2.5zM2911.5 2068.1h1.5v1.2h-1.5zM2947.4 2158.2h2.5v1.2h-2.5zM2938.3 2093.6h1.4v2.2h-1.4zM2961.1 2133.1h3.1v1.7h-3.1zM2951.9 2183.3h3.4v1.4h-3.4zM3003.5 2193.6h2.3v1.2h-2.3zM2913.9 2192.2h3.1v1.5h-3.1zM3000.0 2128.3h1.7v2.6h-1.7zM3023.4 2087.2h1.0v1.7h-1.0zM2971.9 2169.9h2.9v1.9h-2.9zM2933.3 2075.2h1.8v1.3h-1.8zM3061.5 2128.4h2.7v2.6h-2.7zM2953.0 2131.1h1.4v2.2h-1.4zM2905.2 2173.6h3.2v2.3h-3.2zM2919.8 2091.9h2.9v1.0h-2.9zM2991.4 2121.4h3.5v1.9h-3.5zM3059.3 2096.9h3.1v1.6h-3.1zM3070.0 2065.5h3.1v1.2h-3.1zM3002.8 2129.8h1.4v2.3h-1.4zM2961.1 2098.0h1.2v1.4h-1.2zM2989.1 2157.8h1.9v2.0h-1.9zM2924.0 2110.3h2.2v2.5h-2.2zM3054.4 2148.8h1.0v1.5h-1.0zM3032.8 2087.1h2.5v1.6h-2.5zM2906.9 2198.8h3.1v1.2h-3.1zM3015.9 2095.0h2.0v1.8h-2.0zM2958.7 2101.9h2.0v2.0h-2.0zM2951.2 2081.6h2.9v1.4h-2.9zM3075.1 2135.3h2.9v1.4h-2.9zM3053.8 2065.7h1.4v1.0h-1.4zM3027.0 2156.8h1.5v1.5h-1.5zM3055.6 2139.7h1.2v1.2h-1.2zM2933.3 2070.4h2.1v0.9h-2.1zM3070.7 2115.2h2.3v2.0h-2.3zM3043.0 2173.5h2.0v1.4h-2.0zM2979.2 2054.3h2.0v2.1h-2.0zM3081.8 2168.9h2.7v1.9h-2.7zM2908.3 2101.0h1.9v2.0h-1.9zM2924.1 2107.9h2.3v2.2h-2.3zM3053.5 2142.5h1.4v2.2h-1.4zM3067.5 2133.1h1.9v1.7h-1.9zM2930.5 2157.6h3.6v1.7h-3.6zM3033.8 2175.7h1.5v2.5h-1.5zM3017.9 2081.3h1.2v1.2h-1.2zM3008.8 2155.2h1.9v2.5h-1.9zM2970.0 2120.5h1.3v2.6h-1.3zM2929.4 2185.8h2.4v1.8h-2.4zM3005.9 2091.1h3.4v2.6h-3.4zM3052.2 2141.0h1.3v2.3h-1.3zM2956.9 2184.8h1.6v1.8h-1.6zM3054.5 2079.5h2.4v0.9h-2.4zM2910.8 2078.7h3.6v2.5h-3.6zM3023.5 2097.5h2.7v2.1h-2.7zM2973.7 2139.6h3.1v0.8h-3.1zM2940.9 2121.3h1.4v1.5h-1.4zM3007.5 2077.7h2.4v1.3h-2.4zM3007.2 2101.2h2.7v0.9h-2.7zM3025.8 2073.4h3.5v1.9h-3.5zM2989.6 2112.9h2.6v2.0h-2.6zM3041.4 2163.3h2.3v2.6h-2.3zM3055.9 2178.5h2.1v1.6h-2.1zM3006.9 2186.0h2.4v1.7h-2.4zM2982.8 2185.8h1.8v0.9h-1.8zM3035.6 2185.2h2.9v1.9h-2.9zM3040.3 2097.1h2.5v0.9h-2.5zM2927.4 2118.1h2.3v1.5h-2.3zM2914.4 2154.8h2.4v1.2h-2.4zM2960.1 2110.5h1.6v0.9h-1.6zM3069.0 2195.0h2.7v2.4h-2.7zM2980.9 2171.2h1.6v2.1h-1.6zM3007.0 2185.7h1.3v2.2h-1.3zM2927.3 2131.6h3.5v0.8h-3.5zM2948.9 2096.3h1.8v0.9h-1.8zM3066.1 2172.7h2.0v1.4h-2.0zM3010.4 2058.8h1.1v2.4h-1.1zM2960.4 2125.8h3.4v2.6h-3.4zM2990.1 2082.6h1.8v2.5h-1.8zM3066.4 2080.9h3.2v1.4h-3.2zM2990.0 2077.4h3.3v2.6h-3.3zM2941.4 2145.6h1.5v2.4h-1.5zM2914.0 2067.7h2.9v1.4h-2.9zM3067.1 2180.7h2.9v1.0h-2.9zM3030.3 2190.8h2.2v0.9h-2.2zM2945.2 2097.5h2.8v1.2h-2.8zM2937.6 2086.8h2.7v2.2h-2.7zM2972.1 2150.0h3.3v1.9h-3.3zM2946.2 2096.5h3.4v2.0h-3.4zM2954.8 2146.7h1.2v2.6h-1.2zM2984.3 2130.2h2.4v0.9h-2.4zM3012.9 2094.1h1.7v2.2h-1.7zM2920.7 2094.2h3.0v1.2h-3.0zM2955.2 2133.1h1.5v2.4h-1.5zM3082.8 2057.0h2.2v2.2h-2.2zM2974.2 2189.5h2.3v1.1h-2.3zM3005.1 2147.5h1.9v2.0h-1.9zM3045.9 2128.5h2.3v2.3h-2.3zM3028.2 2129.0h3.5v1.1h-3.5zM3045.3 2076.4h2.6v1.2h-2.6zM2984.3 2166.4h3.0v2.2h-3.0zM2947.5 2124.4h1.6v1.8h-1.6zM2994.8 2057.2h2.6v2.1h-2.6zM3008.1 2181.2h1.5v1.1h-1.5zM2908.2 2125.4h2.1v1.6h-2.1zM2952.3 2170.2h1.2v2.4h-1.2zM3007.4 2132.4h3.1v1.2h-3.1zM2931.3 2098.0h1.1v1.4h-1.1zM3016.8 2129.8h1.7v1.9h-1.7zM2920.9 2173.4h1.4v1.3h-1.4zM2933.8 2154.2h3.2v2.2h-3.2zM2916.0 2112.8h1.9v1.2h-1.9zM3079.7 2058.2h2.3v2.2h-2.3zM3082.5 2073.4h2.2v2.1h-2.2zM2912.1 2087.6h3.3v1.1h-3.3zM2975.7 2096.1h2.1v0.9h-2.1zM2911.2 2199.4h3.0v2.1h-3.0zM2946.4 2089.5h2.4v1.2h-2.4zM2988.1 2190.0h1.9v1.4h-1.9zM3081.6 2142.4h1.1v1.5h-1.1zM3022.0 2060.7h1.9v2.1h-1.9zM3060.6 2139.4h3.3v1.6h-3.3zM2975.7 2176.8h2.0v2.2h-2.0zM2943.8 2103.4h1.5v1.8h-1.5zM2934.5 2082.1h1.6v1.6h-1.6zM2960.5 2118.2h3.6v2.0h-3.6zM3060.3 2082.3h2.0v0.9h-2.0zM3029.4 2105.7h1.7v0.8h-1.7zM2937.8 2090.8h2.0v2.5h-2.0zM3033.7 2091.8h1.9v1.1h-1.9zM3073.6 2105.2h3.0v2.1h-3.0zM3068.3 2055.0h1.8v1.5h-1.8zM2920.0 2182.6h1.8v2.2h-1.8zM2998.5 2060.1h2.0v1.2h-2.0zM2912.3 2074.3h2.5v0.9h-2.5zM2961.2 2114.8h2.4v1.0h-2.4zM3032.2 2090.5h2.9v2.0h-2.9zM2931.5 2082.3h1.7v2.1h-1.7zM2978.0 2109.2h3.3v1.2h-3.3zM2957.6 2103.1h1.6v0.9h-1.6zM2909.4 2145.3h2.5v2.3h-2.5zM3080.6 2096.1h2.7v2.5h-2.7zM2943.9 2154.0h2.7v2.5h-2.7zM3061.3 2086.7h2.6v1.0h-2.6zM2982.0 2110.1h1.2v1.5h-1.2zM2964.1 2125.6h1.7v1.1h-1.7zM2977.4 2122.3h1.4v2.0h-1.4zM2948.2 2065.8h1.9v1.6h-1.9zM2932.1 2138.2h2.8v1.8h-2.8zM3031.0 2055.4h2.0v1.5h-2.0zM2916.3 2111.8h1.1v1.7h-1.1zM3010.5 2121.4h1.8v1.3h-1.8zM2909.2 2103.4h3.3v1.8h-3.3zM2952.1 2150.9h1.5v1.6h-1.5zM3015.7 2193.3h1.9v1.8h-1.9zM3074.6 2166.2h2.6v1.9h-2.6zM2979.0 2113.5h1.7v2.3h-1.7zM3063.4 2108.5h3.4v0.9h-3.4zM2929.5 2127.0h1.8v1.4h-1.8zM3080.9 2074.2h1.5v1.2h-1.5zM3027.4 2086.7h1.0v1.8h-1.0zM2975.9 2087.4h2.3v2.0h-2.3zM3003.7 2144.4h2.5v2.3h-2.5zM3079.4 2101.4h1.9v2.4h-1.9zM2961.4 2158.0h2.8v2.0h-2.8zM3078.5 2174.0h1.4v1.9h-1.4zM2993.3 2135.4h2.0v1.3h-2.0zM3039.8 2131.0h1.6v1.2h-1.6zM2963.5 2078.3h2.3v1.0h-2.3zM2916.4 2062.2h1.3v2.1h-1.3zM2925.3 2118.8h3.0v1.7h-3.0zM2934.3 2180.2h3.3v0.9h-3.3zM2950.7 2127.1h3.1v1.5h-3.1zM3033.9 2089.3h2.9v1.4h-2.9zM2965.1 2164.4h3.2v2.3h-3.2zM3007.1 2114.2h2.8v1.9h-2.8zM3054.6 2170.6h1.3v1.5h-1.3zM3025.5 2086.2h1.5v0.8h-1.5zM3010.4 2191.3h3.5v1.0h-3.5zM3028.8 2114.1h2.6v1.5h-2.6zM3073.0 2198.3h1.1v2.1h-1.1zM2926.3 2058.3h1.7v2.1h-1.7zM3083.9 2069.8h1.9v0.8h-1.9zM3002.7 2123.5h2.0v1.4h-2.0zM3049.1 2176.1h1.7v1.5h-1.7zM3016.2 2165.3h3.6v1.5h-3.6zM3029.9 2132.8h3.1v1.1h-3.1zM2936.5 2067.9h3.4v1.3h-3.4zM2992.9 2069.8h1.8v0.8h-1.8zM3006.9 2073.3h2.6v1.3h-2.6zM2946.0 2123.4h2.0v1.3h-2.0zM2914.2 2061.5h3.3v1.4h-3.3zM2919.1 2079.0h2.3v2.6h-2.3zM2941.4 2180.4h2.3v1.5h-2.3zM3050.3 2110.6h1.1v1.8h-1.1zM3023.2 2144.2h1.7v2.5h-1.7zM3060.6 2199.2h2.2v2.3h-2.2zM3035.5 2078.0h1.1v1.1h-1.1zM2926.4 2063.0h1.9v2.2h-1.9zM2960.8 2128.1h1.0v1.2h-1.0zM3077.7 2053.6h2.4v2.3h-2.4zM3047.6 2160.8h2.0v2.2h-2.0zM3054.0 2165.6h3.6v1.0h-3.6zM3076.1 2111.5h2.8v1.3h-2.8zM3068.7 2055.5h2.5v1.2h-2.5zM2974.9 2106.7h2.7v2.3h-2.7zM2970.6 2146.4h1.9v1.3h-1.9zM3067.9 2099.6h1.2v1.4h-1.2zM3038.5 2083.3h2.9v1.8h-2.9zM3027.4 2078.2h1.3v1.1h-1.3zM2968.1 2115.8h1.0v1.7h-1.0zM2977.6 2099.6h2.4v2.5h-2.4zM2941.8 2182.3h1.8v2.2h-1.8zM2924.5 2198.2h2.1v2.5h-2.1zM2944.5 2112.4h2.8v1.1h-2.8zM2954.2 2152.2h3.5v1.4h-3.5zM2938.0 2104.9h3.6v1.1h-3.6zM3019.3 2108.0h2.7v1.2h-2.7zM3015.9 2183.4h3.2v1.9h-3.2zM2995.9 2136.0h1.3v2.3h-1.3zM3029.2 2119.1h2.7v1.6h-2.7zM2974.2 2086.0h2.6v1.8h-2.6zM2997.7 2056.8h2.6v1.6h-2.6zM3011.8 2140.0h3.4v1.1h-3.4zM2989.4 2198.9h2.9v1.4h-2.9zM3037.6 2198.4h2.0v2.4h-2.0zM2927.8 2198.5h2.3v1.2h-2.3zM3056.2 2148.1h3.4v2.3h-3.4zM3048.6 2127.7h3.6v0.9h-3.6zM3061.6 2157.3h1.7v2.3h-1.7zM2986.7 2131.4h3.3v1.2h-3.3zM2955.3 2147.3h1.2v1.8h-1.2zM3046.7 2124.6h1.6v2.2h-1.6zM3058.9 2166.1h2.4v2.4h-2.4zM3048.4 2074.5h2.0v1.0h-2.0zM2911.6 2103.2h3.2v2.3h-3.2zM2926.1 2078.9h2.0v2.3h-2.0zM3016.1 2185.5h1.2v2.6h-1.2zM2942.2 2145.1h3.3v2.1h-3.3zM2940.5 2150.9h2.1v0.8h-2.1zM2966.1 2098.7h2.6v1.3h-2.6zM3013.6 2154.8h1.5v1.0h-1.5zM3029.9 2121.0h1.3v1.0h-1.3zM3074.4 2142.3h1.9v1.2h-1.9zM3084.1 2154.4h2.9v1.4h-2.9zM2960.8 2112.4h1.4v1.9h-1.4zM2981.4 2173.4h2.1v1.6h-2.1zM2996.2 2191.4h1.9v2.1h-1.9zM2947.3 2137.7h1.7v2.4h-1.7zM2956.6 2178.5h2.8v1.6h-2.8zM3073.1 2109.4h2.9v1.9h-2.9zM2985.7 2061.5h2.1v1.3h-2.1zM2984.4 2193.3h1.8v2.1h-1.8zM3026.0 2088.2h2.1v1.0h-2.1zM3066.2 2089.2h2.1v1.4h-2.1zM3052.7 2177.8h2.5v1.8h-2.5zM2922.9 2184.7h1.2v1.5h-1.2zM2972.4 2159.0h2.7v1.4h-2.7zM3066.6 2192.6h1.1v1.9h-1.1zM2989.5 2105.5h2.2v1.4h-2.2zM3025.8 2141.6h3.5v2.6h-3.5zM3083.7 2110.5h3.2v2.0h-3.2zM3031.2 2199.6h1.2v1.6h-1.2zM2977.2 2149.1h1.6v2.6h-1.6zM2942.7 2106.7h1.4v1.5h-1.4zM3038.5 2064.4h1.4v2.0h-1.4zM3017.1 2161.8h1.7v2.3h-1.7zM3036.6 2166.8h1.3v1.6h-1.3zM2907.8 2179.2h3.5v2.4h-3.5zM2909.4 2104.0h2.4v1.8h-2.4zM2925.0 2168.8h1.8v1.7h-1.8zM2927.4 2136.0h1.3v1.0h-1.3zM2997.2 2095.5h3.0v1.2h-3.0zM2979.5 2060.0h1.6v1.6h-1.6zM3005.5 2120.0h3.2v1.0h-3.2zM3058.0 2074.9h3.5v1.7h-3.5zM2978.2 2142.6h3.2v2.5h-3.2zM2979.4 2053.6h1.4v2.3h-1.4zM3037.2 2157.5h1.4v1.8h-1.4zM2910.1 2068.3h1.8v2.5h-1.8zM3020.7 2177.5h1.1v1.5h-1.1zM2919.1 2090.6h1.3v2.5h-1.3zM2964.2 2124.4h2.7v2.4h-2.7zM3075.4 2136.1h2.3v2.4h-2.3zM2976.0 2096.3h2.9v1.3h-2.9zM2971.2 2115.5h2.2v1.4h-2.2zM2982.5 2118.7h1.1v2.3h-1.1zM2916.1 2130.1h2.4v1.5h-2.4zM2945.1 2066.7h2.0v1.4h-2.0zM2992.1 2086.1h2.9v1.7h-2.9zM2906.6 2112.2h3.5v0.8h-3.5zM3011.8 2194.2h2.0v1.9h-2.0zM2971.4 2096.6h2.6v1.9h-2.6zM2961.7 2125.6h2.3v2.2h-2.3zM2914.5 2065.7h1.7v1.3h-1.7zM3048.2 2115.0h3.2v1.5h-3.2zM2956.4 2152.6h1.2v2.6h-1.2zM3054.7 2100.6h1.8v2.3h-1.8zM3046.9 2147.1h1.1v2.2h-1.1zM2913.6 2144.5h2.4v2.5h-2.4zM3020.0 2055.3h3.4v2.2h-3.4zM3009.4 2052.8h2.9v1.6h-2.9zM3027.3 2197.6h3.4v0.9h-3.4zM3045.7 2117.2h3.0v1.5h-3.0zM2985.6 2116.7h1.3v1.4h-1.3zM3037.2 2062.6h1.3v2.3h-1.3zM3024.9 2133.1h1.3v1.0h-1.3zM2960.8 2193.2h2.5v2.5h-2.5zM2943.0 2113.4h2.4v2.3h-2.4zM2927.2 2181.3h2.2v0.9h-2.2zM2982.7 2107.9h2.8v2.5h-2.8zM2993.9 2154.1h2.0v2.2h-2.0zM2923.9 2161.9h1.4v1.9h-1.4zM2941.4 2103.2h1.4v1.4h-1.4zM3011.5 2129.0h2.0v1.8h-2.0zM3056.6 2105.0h2.5v1.7h-2.5zM3081.5 2100.5h2.8v1.2h-2.8zM2952.0 2160.1h2.5v1.3h-2.5zM2916.6 2174.1h2.0v2.1h-2.0zM2982.9 2143.4h2.5v2.6h-2.5zM3068.7 2119.5h2.3v1.2h-2.3zM3040.6 2067.1h1.8v2.3h-1.8zM2911.3 2155.4h2.5v1.8h-2.5zM2964.9 2074.4h3.5v2.2h-3.5zM3050.0 2066.5h3.0v1.2h-3.0zM2940.9 2131.2h2.6v1.0h-2.6zM3042.7 2138.2h3.3v2.5h-3.3zM3029.1 2105.9h3.5v2.1h-3.5zM2957.4 2178.9h2.9v1.3h-2.9zM2949.9 2055.0h2.4v1.3h-2.4zM2957.7 2089.4h1.3v1.7h-1.3zM2954.1 2094.2h1.7v1.7h-1.7zM3062.3 2075.7h3.2v2.3h-3.2zM3014.7 2132.5h2.9v1.8h-2.9zM3023.8 2188.1h3.0v1.3h-3.0zM2914.8 2190.6h1.9v2.2h-1.9zM2947.0 2119.0h2.0v2.1h-2.0zM3074.9 2126.8h2.5v1.4h-2.5zM2946.8 2192.6h1.3v2.5h-1.3zM3023.3 2062.6h3.3v1.0h-3.3zM3006.8 2069.7h3.6v1.4h-3.6zM3062.0 2061.1h2.7v0.9h-2.7zM2910.3 2136.5h3.6v2.0h-3.6zM3059.0 2168.2h2.4v0.9h-2.4zM2999.9 2079.3h2.4v1.4h-2.4zM2994.8 2081.2h2.8v1.6h-2.8zM2992.5 2063.6h2.3v1.8h-2.3zM3080.1 2135.1h1.4v1.3h-1.4zM2965.4 2155.9h3.4v2.6h-3.4zM3076.0 2189.0h3.2v2.5h-3.2zM2908.6 2124.5h2.5v2.0h-2.5zM3015.3 2142.7h3.4v1.0h-3.4zM2998.5 2194.0h1.1v1.0h-1.1zM3061.4 2193.7h1.1v0.9h-1.1zM3054.4 2153.9h2.4v1.8h-2.4zM3041.3 2171.6h1.0v0.9h-1.0zM3048.0 2196.4h3.2v1.5h-3.2zM2965.4 2103.3h1.0v2.2h-1.0zM2952.2 2138.7h2.4v1.4h-2.4zM3026.5 2119.3h1.6v2.4h-1.6zM2936.6 2074.2h1.7v1.7h-1.7zM3046.1 2101.3h1.6v2.0h-1.6zM2951.8 2129.4h1.7v2.4h-1.7zM2938.2 2086.4h1.8v1.4h-1.8zM3035.8 2151.8h3.1v1.8h-3.1zM2919.1 2165.0h1.6v1.2h-1.6zM2979.6 2198.5h2.0v1.4h-2.0zM3069.0 2198.6h2.0v1.0h-2.0zM3047.1 2167.8h1.9v2.2h-1.9zM2973.3 2094.5h2.5v2.1h-2.5zM2990.7 2173.1h1.0v1.7h-1.0zM2973.5 2061.6h3.4v1.1h-3.4zM2942.0 2182.0h3.5v2.5h-3.5zM2966.5 2189.7h1.4v2.1h-1.4zM3075.2 2080.5h1.4v2.0h-1.4zM3063.9 2159.5h3.5v1.6h-3.5zM2972.0 2069.8h1.7v2.5h-1.7zM2917.9 2079.4h1.9v0.9h-1.9zM2960.3 2079.1h1.3v1.7h-1.3zM3002.3 2136.0h3.0v1.7h-3.0zM3075.5 2064.1h1.6v0.9h-1.6zM2960.7 2164.6h3.4v1.7h-3.4zM2933.9 2100.9h2.5v1.3h-2.5zM3047.7 2195.9h2.2v1.9h-2.2zM3057.3 2120.8h1.5v2.5h-1.5zM3081.0 2055.6h3.0v1.5h-3.0zM2914.3 2076.1h1.4v2.1h-1.4zM2943.1 2054.9h1.6v2.2h-1.6zM2994.9 2148.6h2.2v1.1h-2.2zM2907.7 2097.0h1.1v1.3h-1.1zM3016.4 2106.7h2.2v1.9h-2.2zM2962.1 2104.8h3.3v1.8h-3.3zM2980.1 2131.9h2.2v1.4h-2.2zM3069.5 2086.5h3.4v2.3h-3.4zM3063.8 2076.1h2.3v2.6h-2.3zM2957.0 2077.3h2.9v1.2h-2.9zM3010.1 2075.3h3.5v1.3h-3.5zM2922.4 2153.7h1.9v1.8h-1.9zM2994.5 2188.5h2.3v1.5h-2.3zM2905.3 2125.5h1.7v1.8h-1.7zM3018.7 2120.4h1.2v1.7h-1.2zM2991.7 2146.9h3.5v1.3h-3.5zM2984.7 2064.5h3.1v1.2h-3.1zM3054.2 2170.1h1.7v2.4h-1.7zM2995.7 2115.1h2.4v2.5h-2.4zM2993.2 2123.4h1.8v2.3h-1.8zM2995.5 2102.7h1.5v1.2h-1.5zM3055.1 2170.9h3.5v2.5h-3.5zM3028.3 2170.0h2.9v2.3h-2.9zM3049.2 2078.1h3.1v1.3h-3.1zM2948.9 2188.1h1.1v1.7h-1.1zM2966.8 2169.2h2.6v2.4h-2.6zM3072.9 2147.4h1.2v2.0h-1.2zM2924.7 2197.4h3.3v1.4h-3.3zM2938.5 2154.7h3.0v2.6h-3.0zM3017.1 2070.5h2.9v0.9h-2.9zM3061.2 2165.8h3.0v2.4h-3.0zM3007.4 2191.6h2.7v1.7h-2.7zM2974.2 2104.3h1.1v1.1h-1.1zM3048.2 2085.8h2.7v2.2h-2.7zM3030.0 2128.3h1.8v1.3h-1.8zM2938.7 2147.9h2.8v2.5h-2.8zM2964.5 2189.2h3.4v1.3h-3.4zM3076.4 2143.7h3.5v2.2h-3.5zM2965.0 2093.3h2.4v1.7h-2.4zM2911.4 2179.7h2.4v1.7h-2.4zM3039.0 2089.0h1.5v1.8h-1.5zM2948.4 2100.5h1.2v0.9h-1.2zM2969.0 2130.0h3.5v2.0h-3.5zM2979.6 2112.2h1.6v1.7h-1.6zM3077.6 2070.0h2.1v2.0h-2.1zM3042.2 2134.2h2.7v2.5h-2.7zM3067.5 2089.2h2.4v2.6h-2.4zM3000.0 2080.0h3.0v0.9h-3.0zM2932.1 2133.6h1.7v2.1h-1.7zM3035.8 2099.3h3.0v2.0h-3.0zM3032.1 2119.6h2.1v1.0h-2.1zM2990.5 2193.3h3.3v0.9h-3.3zM2917.8 2091.9h2.8v1.6h-2.8zM2928.0 2115.0h2.5v2.1h-2.5zM2977.5 2148.1h2.8v1.9h-2.8zM2913.4 2157.2h1.3v0.9h-1.3zM2990.3 2054.5h1.2v1.5h-1.2zM2989.3 2067.6h3.5v2.3h-3.5zM2992.6 2139.0h1.8v2.6h-1.8zM2926.6 2097.0h1.6v2.4h-1.6zM2996.6 2112.7h2.0v2.4h-2.0zM2951.3 2169.1h2.8v1.6h-2.8zM2970.8 2116.7h2.2v1.4h-2.2zM3017.3 2112.8h1.8v2.2h-1.8zM2986.9 2122.1h3.3v1.6h-3.3zM2972.7 2184.9h3.5v2.2h-3.5zM2977.3 2151.3h2.9v1.3h-2.9zM3035.3 2192.6h2.7v2.0h-2.7zM2983.3 2148.7h1.6v2.2h-1.6zM3002.0 2197.0h1.9v2.1h-1.9zM2908.0 2113.6h3.0v1.3h-3.0zM3015.4 2084.7h2.0v2.6h-2.0zM2940.4 2187.1h1.2v1.8h-1.2zM3052.8 2175.9h2.0v1.9h-2.0zM3033.2 2164.7h2.9v1.8h-2.9zM2950.3 2156.4h2.5v1.8h-2.5zM3082.7 2072.2h3.0v1.4h-3.0zM3035.8 2192.7h1.7v1.8h-1.7zM3000.1 2125.3h1.4v1.9h-1.4zM3065.8 2150.2h1.8v2.3h-1.8zM2980.6 2073.5h2.6v1.6h-2.6zM3000.4 2198.7h2.5v2.5h-2.5zM2968.5 2164.3h1.2v1.3h-1.2zM3029.5 2154.2h3.2v1.5h-3.2zM2954.3 2105.0h2.4v0.8h-2.4zM2972.4 2149.3h1.4v1.4h-1.4zM3062.1 2190.2h1.6v1.1h-1.6zM2926.2 2064.7h3.1v2.1h-3.1zM2952.6 2124.4h2.8v0.9h-2.8zM3052.4 2179.2h1.5v2.1h-1.5zM3030.9 2101.9h3.3v1.2h-3.3zM2990.3 2098.4h2.1v2.3h-2.1zM3007.6 2142.2h3.6v1.2h-3.6zM2945.1 2143.7h1.4v2.5h-1.4zM2966.4 2117.1h2.1v2.3h-2.1zM3069.8 2152.2h1.4v1.4h-1.4zM3032.2 2084.0h3.3v2.4h-3.3zM2945.8 2105.9h1.6v2.1h-1.6zM2913.5 2155.0h1.2v2.3h-1.2zM3002.8 2138.3h1.2v0.9h-1.2zM2968.6 2197.7h2.6v2.4h-2.6zM2916.3 2067.1h1.1v2.1h-1.1zM2936.8 2092.4h2.7v2.1h-2.7zM2963.0 2121.2h1.8v1.8h-1.8zM2969.1 2105.3h1.6v1.3h-1.6zM2952.0 2054.4h1.8v1.9h-1.8zM2953.4 2068.7h3.2v1.6h-3.2zM2997.1 2098.2h3.3v2.2h-3.3zM3017.1 2149.6h2.8v1.7h-2.8zM2979.4 2109.7h2.3v1.6h-2.3zM3000.2 2130.9h3.1v2.4h-3.1zM2945.3 2055.3h1.8v0.9h-1.8zM3048.3 2143.8h1.7v1.1h-1.7zM3061.4 2175.7h2.8v2.0h-2.8zM3039.0 2119.3h2.0v1.8h-2.0zM3063.5 2198.7h3.4v2.3h-3.4zM2918.4 2088.5h3.5v1.8h-3.5zM2997.7 2097.9h3.2v1.7h-3.2zM3083.3 2063.2h3.6v0.8h-3.6zM2931.7 2109.6h2.7v1.0h-2.7zM3006.2 2191.0h2.1v2.2h-2.1zM3011.5 2138.2h1.5v1.6h-1.5zM3067.1 2151.8h1.6v1.6h-1.6zM3002.8 2101.8h2.5v1.9h-2.5zM2908.2 2084.6h2.7v1.2h-2.7zM2918.1 2164.8h1.9v2.5h-1.9zM3005.6 2067.0h2.7v1.3h-2.7zM3051.6 2159.2h3.0v0.9h-3.0zM2911.2 2170.1h1.4v1.2h-1.4zM2910.4 2076.2h2.2v2.5h-2.2zM2962.8 2090.4h3.2v1.1h-3.2zM3019.3 2143.0h3.4v0.9h-3.4zM3006.4 2108.7h3.1v1.3h-3.1zM3033.7 2079.4h2.3v2.5h-2.3zM2948.2 2093.3h3.4v2.0h-3.4zM2916.9 2079.6h1.6v1.3h-1.6zM3057.0 2155.7h3.5v2.0h-3.5zM3018.0 2108.7h2.9v1.7h-2.9zM2915.6 2124.8h2.0v1.8h-2.0zM2913.8 2056.1h3.6v1.5h-3.6zM2964.4 2074.0h2.5v2.4h-2.5zM2937.5 2126.0h2.3v2.2h-2.3zM3006.7 2087.4h1.5v2.1h-1.5zM2919.1 2180.0h1.1v1.1h-1.1zM2989.2 2176.9h2.6v2.1h-2.6zM3042.0 2158.9h1.1v2.3h-1.1zM2931.6 2076.0h1.1v0.9h-1.1zM3062.9 2108.4h1.2v0.9h-1.2zM3057.3 2141.0h3.4v0.9h-3.4zM2925.3 2094.4h1.5v1.0h-1.5zM2941.1 2146.8h1.4v1.1h-1.4zM3001.4 2107.6h1.4v1.8h-1.4zM2996.4 2109.4h2.2v0.9h-2.2zM3015.7 2080.6h1.9v0.8h-1.9zM3064.8 2139.0h2.0v1.8h-2.0zM3074.2 2071.5h2.0v2.1h-2.0zM2972.0 2156.6h3.4v0.9h-3.4zM2956.2 2095.3h3.0v2.2h-3.0zM3030.9 2188.9h1.5v1.5h-1.5zM3058.5 2165.3h1.3v2.6h-1.3zM3038.3 2180.2h1.9v1.9h-1.9zM3077.6 2184.9h2.5v2.4h-2.5zM3084.8 2176.2h2.7v2.5h-2.7zM2930.9 2111.7h2.5v1.0h-2.5zM3045.5 2061.2h2.6v1.3h-2.6zM2963.1 2141.8h1.5v1.6h-1.5zM3059.3 2198.1h1.7v1.5h-1.7zM3029.9 2080.1h3.2v1.2h-3.2zM3005.2 2102.2h1.0v0.8h-1.0zM2905.4 2100.6h1.7v2.6h-1.7zM3019.8 2061.7h2.9v1.2h-2.9zM2991.7 2158.9h3.2v2.5h-3.2zM2980.8 2099.0h2.0v1.4h-2.0zM3038.5 2120.5h2.8v1.1h-2.8zM3045.9 2195.1h1.5v1.9h-1.5zM2934.2 2057.2h2.1v1.1h-2.1zM3036.5 2136.7h2.8v2.5h-2.8zM2915.5 2066.6h1.1v1.6h-1.1zM3053.4 2153.2h2.4v2.3h-2.4zM2972.0 2068.7h2.7v0.8h-2.7zM2946.3 2056.4h1.4v0.9h-1.4zM3000.7 2071.0h2.6v2.3h-2.6zM2967.0 2069.8h2.7v2.1h-2.7zM3064.1 2134.0h2.5v2.4h-2.5zM3026.9 2196.3h1.7v2.2h-1.7zM3018.9 2121.3h1.0v1.7h-1.0zM2952.4 2141.0h2.3v1.7h-2.3zM2915.6 2071.5h2.6v2.0h-2.6zM3083.3 2169.3h1.8v1.6h-1.8zM2996.0 2171.0h2.0v2.5h-2.0zM2992.1 2110.9h2.2v1.4h-2.2zM3084.9 2058.9h2.0v0.9h-2.0zM3027.0 2074.3h1.4v1.6h-1.4zM3013.4 2165.0h2.2v1.3h-2.2zM2971.2 2183.5h1.6v0.8h-1.6zM3064.4 2123.5h1.3v1.0h-1.3zM3065.3 2162.9h1.2v2.0h-1.2zM2943.5 2118.0h2.6v0.9h-2.6zM3073.4 2101.6h1.4v2.2h-1.4zM2924.6 2057.5h2.7v1.6h-2.7zM3067.1 2169.0h1.5v0.9h-1.5zM3013.6 2121.6h1.8v2.5h-1.8zM2942.5 2147.2h1.2v2.5h-1.2zM3075.8 2143.5h1.8v2.1h-1.8zM3067.6 2169.6h1.1v1.7h-1.1zM2930.2 2132.9h3.5v2.4h-3.5zM2949.8 2133.7h1.8v1.1h-1.8zM3038.9 2164.4h1.9v1.6h-1.9zM3030.4 2159.7h2.2v1.0h-2.2zM2922.2 2077.1h3.1v1.7h-3.1zM3021.0 2106.0h2.0v1.1h-2.0zM3080.4 2141.6h1.3v2.1h-1.3zM3012.6 2142.8h3.0v1.9h-3.0zM3062.8 2195.5h2.1v2.0h-2.1zM2972.4 2112.8h2.0v2.0h-2.0zM2968.5 2104.1h3.2v2.2h-3.2zM3026.7 2176.9h2.0v2.0h-2.0zM2950.2 2098.7h1.3v2.2h-1.3zM3070.8 2096.8h2.0v1.0h-2.0zM2930.6 2146.5h3.3v1.0h-3.3zM2950.8 2164.3h1.6v2.4h-1.6zM2968.5 2122.1h1.5v1.3h-1.5zM2981.4 2093.2h2.9v0.9h-2.9zM3020.0 2170.8h1.8v1.1h-1.8zM2926.6 2063.5h3.1v1.9h-3.1zM2907.7 2119.1h2.6v1.4h-2.6zM2911.3 2114.3h1.9v2.6h-1.9zM2969.8 2188.5h3.3v1.8h-3.3zM2927.7 2171.6h1.2v1.8h-1.2zM2922.5 2065.7h2.1v1.1h-2.1zM3083.6 2137.5h3.3v2.5h-3.3zM3041.4 2147.6h2.2v2.2h-2.2zM3025.5 2075.4h2.4v1.5h-2.4zM2997.8 2157.5h2.8v1.8h-2.8zM3047.0 2174.1h1.2v1.1h-1.2zM2913.5 2075.7h3.5v1.4h-3.5zM2984.0 2120.9h2.5v1.3h-2.5zM3045.2 2101.1h3.2v2.2h-3.2zM2905.2 2133.1h1.2v2.4h-1.2zM2917.5 2091.5h3.0v1.9h-3.0zM3025.1 2113.1h2.4v1.2h-2.4zM2988.2 2090.1h2.8v1.0h-2.8zM2929.8 2081.2h2.4v1.8h-2.4zM2905.5 2198.1h3.2v1.5h-3.2zM2933.6 2174.2h3.5v1.1h-3.5zM3041.1 2173.1h3.4v1.2h-3.4zM2926.7 2076.3h1.6v2.4h-1.6zM3068.8 2122.1h1.3v1.4h-1.3zM2948.4 2148.0h2.9v2.2h-2.9zM2983.7 2119.6h2.2v1.5h-2.2zM2986.9 2153.4h2.8v1.4h-2.8zM3007.0 2073.5h1.1v1.5h-1.1zM2969.7 2056.8h1.2v1.6h-1.2zM3074.6 2176.0h1.1v1.4h-1.1zM2971.4 2098.0h1.4v1.9h-1.4zM3056.0 2108.5h1.5v1.0h-1.5zM2907.7 2165.3h1.6v2.1h-1.6zM3047.3 2064.3h1.5v1.4h-1.5zM3043.4 2161.1h1.8v1.6h-1.8zM2968.9 2121.8h3.1v1.3h-3.1zM3050.9 2188.2h2.6v2.5h-2.6zM3073.8 2077.3h3.6v1.2h-3.6zM3049.8 2069.9h1.8v1.6h-1.8zM3056.1 2152.7h1.5v2.4h-1.5zM3060.8 2127.5h1.1v1.3h-1.1zM2957.6 2114.0h3.5v1.9h-3.5zM3052.5 2062.6h1.6v2.1h-1.6zM2966.3 2085.7h1.2v0.9h-1.2zM2979.2 2132.9h2.0v1.8h-2.0zM2957.4 2054.5h2.8v1.4h-2.8zM2993.5 2107.9h1.7v0.9h-1.7zM2958.4 2096.1h1.3v0.9h-1.3zM2991.5 2054.9h3.3v1.4h-3.3zM2984.9 2129.8h1.1v1.0h-1.1zM3046.4 2134.4h2.3v1.4h-2.3zM3040.2 2126.5h3.1v2.3h-3.1zM3065.9 2159.4h2.8v1.6h-2.8zM3001.0 2137.7h2.4v2.3h-2.4zM3059.5 2059.7h3.0v1.9h-3.0zM3012.7 2186.4h1.1v1.7h-1.1zM2972.6 2192.4h1.4v1.8h-1.4zM2931.0 2163.6h2.3v2.1h-2.3zM2960.3 2182.7h1.0v1.2h-1.0zM3037.0 2182.1h3.0v1.3h-3.0zM2919.6 2157.0h2.9v0.9h-2.9zM3073.3 2130.1h1.1v1.7h-1.1zM2965.9 2067.4h3.3v2.5h-3.3zM2927.3 2118.0h1.7v2.0h-1.7zM2924.8 2101.4h2.1v1.7h-2.1zM2983.3 2140.2h3.4v2.5h-3.4zM3068.3 2174.7h1.6v1.2h-1.6zM2987.8 2147.2h2.6v1.4h-2.6zM3083.5 2098.2h1.1v1.0h-1.1zM2942.7 2160.2h3.2v0.9h-3.2zM2947.7 2087.9h3.0v2.4h-3.0zM2952.4 2067.2h3.5v2.5h-3.5zM3034.0 2122.0h2.9v2.2h-2.9zM2996.7 2092.2h2.4v2.0h-2.4zM2963.4 2146.6h1.4v2.5h-1.4zM2943.1 2085.5h3.5v2.5h-3.5zM3071.5 2176.5h3.2v2.3h-3.2zM3007.0 2063.0h2.9v2.3h-2.9zM3055.8 2058.4h1.2v2.1h-1.2zM2992.8 2184.3h3.6v1.6h-3.6zM3026.6 2150.4h2.8v1.5h-2.8zM3020.1 2062.0h3.3v2.1h-3.3zM3049.5 2120.4h1.5v1.6h-1.5zM3027.5 2133.1h1.3v0.8h-1.3zM2976.6 2088.2h1.6v1.2h-1.6zM2979.8 2154.9h3.4v2.0h-3.4zM2908.7 2180.4h2.6v2.1h-2.6zM3015.5 2104.4h1.9v0.9h-1.9zM3024.5 2060.0h2.8v2.4h-2.8zM3025.2 2141.7h3.1v2.5h-3.1zM3051.3 2198.5h2.2v0.8h-2.2zM3015.6 2146.5h3.2v1.9h-3.2zM2970.4 2052.7h3.2v1.9h-3.2zM3082.4 2139.8h3.2v2.2h-3.2zM3083.4 2120.4h3.3v1.5h-3.3zM2907.0 2100.2h1.9v2.6h-1.9zM2976.1 2092.7h2.8v1.0h-2.8zM2960.0 2110.5h1.3v1.9h-1.3zM2981.1 2170.7h1.9v2.6h-1.9zM2940.2 2130.6h1.6v0.8h-1.6zM2959.3 2184.5h1.8v1.7h-1.8zM2999.3 2091.4h2.4v0.9h-2.4zM2967.9 2094.1h3.1v2.2h-3.1zM3031.1 2140.0h3.3v2.1h-3.3zM2914.9 2071.3h2.9v2.3h-2.9zM3083.1 2166.7h1.4v1.8h-1.4zM3017.4 2141.5h1.3v2.5h-1.3zM2996.9 2091.8h3.6v1.5h-3.6zM2917.6 2151.0h1.7v1.2h-1.7zM2959.5 2141.9h1.8v2.0h-1.8zM3068.0 2198.6h3.3v2.5h-3.3zM2950.6 2174.0h1.2v1.8h-1.2zM2918.6 2066.7h3.5v1.0h-3.5zM3034.1 2130.0h1.0v2.2h-1.0zM2915.9 2183.2h3.1v1.7h-3.1zM2985.3 2056.1h2.8v0.9h-2.8zM2999.7 2189.0h2.8v1.0h-2.8zM3034.8 2155.8h1.9v2.2h-1.9zM3009.2 2113.2h2.4v1.3h-2.4zM2956.7 2183.6h1.9v2.2h-1.9zM2971.0 2080.2h1.0v2.5h-1.0zM3040.3 2197.3h2.5v0.9h-2.5zM2934.4 2059.3h2.6v1.9h-2.6zM3077.0 2095.8h1.6v1.2h-1.6zM2931.5 2056.2h2.3v1.6h-2.3zM2971.2 2192.8h1.8v2.3h-1.8zM3000.8 2067.2h1.1v1.9h-1.1zM3062.4 2059.4h2.8v1.2h-2.8zM3028.7 2175.3h2.9v1.2h-2.9zM2933.1 2195.1h3.4v2.5h-3.4zM3002.4 2059.6h2.0v2.4h-2.0zM2917.1 2095.7h1.1v2.4h-1.1zM2968.7 2064.2h1.9v1.2h-1.9zM2983.0 2143.2h2.7v1.0h-2.7zM3001.2 2060.3h2.1v2.3h-2.1zM2952.2 2173.7h1.6v1.5h-1.6zM3047.6 2052.5h2.4v1.8h-2.4zM3033.7 2192.3h2.8v1.2h-2.8zM2940.8 2123.3h1.7v1.8h-1.7zM2921.1 2154.7h2.1v0.9h-2.1zM2926.7 2190.4h3.2v2.4h-3.2zM2975.2 2197.7h1.4v2.1h-1.4zM3074.5 2082.9h1.0v1.0h-1.0zM2920.0 2170.9h2.6v1.7h-2.6zM2925.6 2147.1h1.4v1.0h-1.4zM3011.9 2147.2h3.1v2.3h-3.1zM2929.7 2097.0h1.4v1.7h-1.4zM2910.1 2180.4h2.8v2.3h-2.8zM2992.9 2187.0h3.2v2.3h-3.2zM3050.1 2084.0h1.9v0.9h-1.9zM3042.6 2122.1h3.6v1.3h-3.6zM2982.6 2180.2h3.5v2.2h-3.5zM3063.9 2188.7h1.7v1.9h-1.7zM2916.4 2152.1h3.5v1.7h-3.5zM2931.2 2136.2h1.2v1.6h-1.2zM2919.4 2113.8h3.1v2.1h-3.1zM3058.6 2119.7h2.1v0.9h-2.1zM3047.0 2136.3h2.1v1.1h-2.1zM2987.5 2061.3h1.3v0.9h-1.3zM2981.5 2072.3h3.2v1.9h-3.2zM3061.0 2133.9h1.4v1.3h-1.4zM3056.1 2138.6h2.7v1.9h-2.7zM2913.7 2081.6h2.1v2.3h-2.1zM3074.8 2139.5h1.7v0.9h-1.7zM3005.6 2112.5h3.4v1.2h-3.4zM2941.9 2054.3h1.1v2.3h-1.1zM3061.8 2074.8h1.0v1.8h-1.0zM2949.4 2143.0h3.4v2.1h-3.4zM2955.4 2141.8h1.8v2.2h-1.8zM2951.5 2180.7h2.8v2.4h-2.8zM2967.2 2193.2h2.5v1.3h-2.5zM3021.4 2098.0h1.3v0.9h-1.3zM3014.9 2087.8h1.3v2.2h-1.3zM2930.6 2163.7h1.7v1.5h-1.7zM3072.9 2174.6h3.2v2.6h-3.2zM3013.7 2190.4h2.6v1.8h-2.6zM2963.3 2108.1h2.5v1.2h-2.5zM3020.6 2179.9h2.9v1.2h-2.9zM2910.0 2106.3h2.1v2.3h-2.1zM3003.5 2128.7h2.6v1.8h-2.6zM3027.1 2134.5h2.4v1.2h-2.4zM2927.2 2117.1h3.3v2.5h-3.3zM2957.8 2137.1h2.3v1.6h-2.3zM2937.1 2168.8h1.2v1.2h-1.2zM2955.2 2082.1h1.5v0.9h-1.5zM2999.2 2077.5h2.7v1.9h-2.7zM3017.4 2123.1h2.6v1.3h-2.6zM2988.5 2153.9h1.6v2.1h-1.6zM3010.4 2196.3h2.6v1.8h-2.6zM3043.3 2094.7h2.0v1.6h-2.0zM3037.2 2158.4h1.5v2.5h-1.5zM3081.8 2125.3h3.6v1.9h-3.6zM2974.2 2064.9h1.0v1.9h-1.0zM3034.3 2143.1h3.0v1.6h-3.0zM3038.6 2141.4h2.6v1.8h-2.6zM3025.1 2134.9h1.2v2.0h-1.2zM3031.7 2115.3h3.5v1.7h-3.5zM2934.9 2127.7h1.9v1.1h-1.9zM3064.9 2078.2h2.9v1.1h-2.9zM2998.1 2199.5h1.2v2.3h-1.2zM2906.1 2196.7h3.4v1.6h-3.4zM3019.8 2120.1h1.4v1.4h-1.4zM2984.4 2180.7h1.3v1.8h-1.3zM2989.9 2133.8h3.1v1.9h-3.1zM2963.2 2193.3h2.6v1.3h-2.6zM3003.5 2180.4h1.1v2.0h-1.1zM2992.8 2094.6h1.4v1.2h-1.4zM2983.8 2114.4h2.6v1.3h-2.6zM3016.6 2122.1h3.1v2.2h-3.1zM2947.7 2196.6h2.4v1.4h-2.4zM2950.8 2157.5h2.1v2.0h-2.1zM2951.1 2179.3h1.7v2.4h-1.7zM2983.9 2111.3h2.5v1.7h-2.5zM3003.6 2135.0h3.5v2.1h-3.5zM2921.6 2198.2h1.0v0.9h-1.0zM3052.3 2092.8h1.1v1.1h-1.1zM2994.1 2176.9h1.1v1.1h-1.1zM2907.3 2059.9h1.8v1.7h-1.8zM3079.4 2147.9h3.2v1.9h-3.2zM3068.9 2151.6h1.6v1.5h-1.6zM2991.3 2068.3h3.4v1.7h-3.4zM2941.0 2124.8h3.1v1.3h-3.1zM3010.8 2065.5h1.6v1.1h-1.6zM2996.0 2153.8h1.6v2.0h-1.6zM3010.5 2163.1h3.6v1.4h-3.6zM3084.3 2119.4h2.3v1.1h-2.3zM2920.3 2147.5h1.3v0.9h-1.3zM2920.2 2132.3h1.5v1.3h-1.5zM3043.1 2118.1h1.4v2.0h-1.4zM3084.1 2144.1h2.2v1.8h-2.2zM3031.5 2176.1h3.0v1.2h-3.0zM3045.4 2067.3h1.3v1.7h-1.3zM2938.2 2135.1h1.7v2.5h-1.7zM2983.0 2172.7h3.5v1.6h-3.5zM3043.3 2124.9h2.0v1.0h-2.0zM3023.5 2188.4h2.8v1.4h-2.8zM2999.5 2104.8h2.0v2.2h-2.0zM2906.2 2123.3h2.3v1.1h-2.3zM3036.8 2089.5h2.0v1.2h-2.0zM3012.5 2115.8h2.8v1.6h-2.8zM3046.1 2133.6h1.3v1.7h-1.3zM2950.5 2096.1h3.5v1.7h-3.5zM3038.0 2075.1h2.6v1.0h-2.6zM2944.9 2070.9h1.1v2.4h-1.1zM3078.6 2106.4h1.0v2.1h-1.0zM3024.3 2058.7h3.0v0.9h-3.0zM2947.0 2167.3h3.0v1.2h-3.0zM2996.5 2170.5h2.6v1.7h-2.6zM2938.3 2062.1h1.5v1.7h-1.5zM3012.3 2120.1h2.7v1.8h-2.7zM3021.2 2112.8h3.2v1.8h-3.2zM3063.5 2197.9h3.2v2.2h-3.2zM3029.2 2133.7h1.6v1.0h-1.6zM3024.0 2088.7h2.6v1.8h-2.6zM3014.3 2115.5h1.6v1.3h-1.6zM3030.4 2183.1h1.8v1.4h-1.8zM2985.6 2115.5h2.6v2.2h-2.6zM3043.2 2171.7h2.9v2.5h-2.9zM2985.8 2118.1h2.7v1.4h-2.7zM3054.3 2113.8h2.4v1.7h-2.4zM2970.5 2053.6h1.7v1.7h-1.7zM3076.2 2072.3h3.3v2.6h-3.3zM3047.4 2093.4h1.0v2.4h-1.0zM2917.3 2096.1h3.4v2.0h-3.4zM3053.3 2175.4h1.5v1.7h-1.5zM2922.0 2108.1h2.3v2.3h-2.3zM2957.1 2150.6h1.4v1.3h-1.4zM2915.5 2138.0h2.5v2.1h-2.5zM2980.6 2190.6h2.9v1.8h-2.9zM3062.2 2078.6h1.8v1.8h-1.8zM3012.9 2193.4h2.8v0.9h-2.8zM3075.0 2121.2h1.5v2.2h-1.5zM3018.1 2178.5h2.4v1.3h-2.4zM2989.7 2121.0h1.9v1.8h-1.9zM2931.9 2089.5h1.3v0.8h-1.3zM2999.6 2161.2h2.0v2.4h-2.0zM3014.5 2149.4h1.7v2.4h-1.7zM2967.6 2177.1h1.6v2.5h-1.6zM3027.9 2078.4h2.9v1.1h-2.9zM2974.4 2108.0h1.9v1.5h-1.9zM2933.9 2111.2h1.2v2.2h-1.2zM2968.7 2157.4h2.1v2.6h-2.1zM3063.3 2156.4h3.2v2.4h-3.2zM3072.5 2113.1h2.5v0.9h-2.5zM2970.6 2100.5h2.6v0.8h-2.6zM3040.8 2063.0h2.1v1.7h-2.1zM3056.6 2145.6h1.4v2.0h-1.4zM2947.3 2143.3h2.1v2.5h-2.1zM2985.8 2092.2h1.8v2.5h-1.8zM2967.7 2087.9h2.4v2.0h-2.4zM3074.3 2063.8h1.9v2.1h-1.9zM2994.2 2154.3h2.8v1.0h-2.8zM2914.0 2078.2h1.8v1.1h-1.8zM2956.6 2068.9h1.1v1.7h-1.1zM3041.4 2075.6h1.2v2.1h-1.2zM2919.3 2072.7h2.3v1.3h-2.3zM3046.3 2126.9h2.4v1.5h-2.4zM2910.0 2173.5h2.0v2.3h-2.0zM2924.1 2116.0h2.4v1.1h-2.4zM2918.4 2190.4h3.4v2.6h-3.4zM3003.0 2160.5h2.6v1.7h-2.6zM2935.9 2147.0h2.2v2.0h-2.2zM2912.6 2095.5h1.3v2.2h-1.3zM2991.2 2094.4h3.0v1.7h-3.0zM2957.3 2110.1h1.0v0.9h-1.0zM2911.6 2194.3h3.3v1.8h-3.3zM3074.4 2131.8h2.8v1.0h-2.8zM2983.5 2142.4h2.1v2.0h-2.1zM2966.8 2148.9h1.5v1.7h-1.5zM2982.0 2129.9h1.1v1.2h-1.1zM3033.8 2076.6h2.2v2.6h-2.2zM3014.7 2160.6h3.0v2.5h-3.0zM2974.8 2110.6h3.0v0.8h-3.0zM2989.4 2092.2h2.4v2.1h-2.4zM3060.0 2127.0h2.8v0.9h-2.8zM3023.7 2189.6h2.6v1.7h-2.6zM2997.0 2112.9h1.5v1.2h-1.5zM3048.0 2128.3h1.1v1.9h-1.1zM3054.5 2148.4h1.5v2.5h-1.5zM2937.8 2127.2h2.2v1.1h-2.2zM2953.0 2079.6h1.4v0.9h-1.4zM3021.2 2150.6h1.7v2.5h-1.7zM2981.2 2119.5h3.4v2.0h-3.4zM2988.8 2162.6h2.9v1.4h-2.9zM2917.6 2160.4h2.9v1.9h-2.9zM2926.1 2162.2h1.5v2.2h-1.5zM3016.9 2146.2h1.2v1.5h-1.2zM3036.9 2068.5h1.1v1.5h-1.1zM3058.5 2145.2h1.6v0.9h-1.6zM3055.6 2176.7h2.8v1.2h-2.8zM3040.1 2053.5h1.4v1.4h-1.4zM3077.2 2057.3h1.4v2.1h-1.4zM3042.2 2091.7h1.2v2.3h-1.2zM3079.7 2186.5h2.5v1.0h-2.5zM3038.2 2148.1h3.2v2.2h-3.2zM2995.5 2196.5h2.2v1.6h-2.2zM3019.7 2168.7h2.5v2.5h-2.5zM2953.9 2184.7h3.3v1.4h-3.3zM2910.1 2141.0h2.6v2.5h-2.6zM3005.5 2159.2h3.0v1.1h-3.0zM3025.0 2116.9h1.6v1.3h-1.6zM2970.3 2160.7h2.4v1.4h-2.4zM2914.9 2168.5h3.0v2.3h-3.0zM3046.5 2061.4h1.7v1.6h-1.7zM2958.5 2173.9h1.5v0.8h-1.5zM2986.2 2059.5h1.1v1.9h-1.1zM3013.8 2132.2h1.2v1.8h-1.2zM2999.1 2097.1h1.6v1.1h-1.6zM2992.0 2106.3h2.5v2.0h-2.5zM2954.7 2141.9h1.7v2.1h-1.7zM2941.7 2140.0h2.9v2.2h-2.9zM3000.5 2187.0h3.6v2.2h-3.6zM2969.6 2091.4h2.6v1.0h-2.6zM2936.8 2066.0h2.7v1.5h-2.7zM3070.9 2171.4h2.4v1.4h-2.4zM2962.7 2059.7h1.3v2.4h-1.3zM2958.7 2053.2h3.5v1.5h-3.5zM3044.4 2119.1h3.5v0.9h-3.5zM2990.2 2147.8h1.1v2.5h-1.1zM2965.9 2152.3h1.2v0.9h-1.2zM2920.6 2168.7h3.4v2.4h-3.4zM3000.5 2065.5h3.0v1.7h-3.0zM3045.8 2145.9h2.5v1.1h-2.5zM2930.7 2064.1h2.1v1.3h-2.1zM3076.8 2059.2h3.0v1.0h-3.0zM2923.6 2188.6h1.6v1.9h-1.6zM3010.3 2111.1h1.9v1.1h-1.9zM3030.2 2107.0h2.6v2.3h-2.6zM2918.7 2114.7h1.9v2.5h-1.9zM3016.8 2081.2h2.2v0.8h-2.2zM2997.5 2062.3h1.4v1.7h-1.4zM3001.8 2083.5h2.5v1.4h-2.5zM3031.5 2059.7h3.2v1.6h-3.2zM2936.1 2095.1h2.6v1.0h-2.6zM3069.2 2084.7h2.1v0.9h-2.1zM2987.1 2194.3h1.5v1.1h-1.5zM3003.4 2146.7h1.4v1.2h-1.4zM3013.7 2087.4h1.1v2.1h-1.1zM3061.3 2171.3h3.2v1.2h-3.2zM2960.8 2140.8h2.6v1.9h-2.6zM3004.6 2086.6h1.6v1.0h-1.6zM2915.3 2138.0h1.2v2.4h-1.2zM3077.6 2073.7h3.5v1.9h-3.5zM2906.0 2108.7h1.9v1.4h-1.9zM2917.1 2088.0h1.0v1.6h-1.0zM2991.7 2086.3h3.4v2.4h-3.4zM2994.9 2170.6h1.9v2.2h-1.9zM3045.0 2104.1h2.9v1.4h-2.9zM2936.2 2114.0h1.3v2.1h-1.3zM2950.3 2125.6h3.1v1.9h-3.1zM3068.6 2159.4h2.8v2.1h-2.8zM3029.3 2188.0h2.5v2.0h-2.5zM3004.0 2131.0h3.4v1.3h-3.4zM2939.2 2126.2h1.8v2.1h-1.8zM3019.5 2052.3h1.5v1.9h-1.5zM2976.3 2152.6h2.2v1.0h-2.2zM3029.1 2196.1h1.2v1.9h-1.2zM3015.4 2142.7h2.3v1.7h-2.3zM3083.1 2181.1h2.1v2.3h-2.1zM3025.1 2171.2h3.6v0.9h-3.6zM2943.2 2086.4h3.1v2.5h-3.1zM2945.7 2123.8h3.3v2.1h-3.3zM3010.6 2184.2h3.4v1.0h-3.4zM3078.8 2095.1h2.6v2.2h-2.6zM2957.9 2097.3h3.4v2.2h-3.4zM3080.8 2065.9h2.6v2.1h-2.6zM3077.2 2159.4h1.7v1.0h-1.7zM2936.2 2090.3h2.5v1.4h-2.5zM2931.7 2064.8h2.8v2.3h-2.8zM2927.2 2128.0h3.5v1.4h-3.5zM3001.2 2172.0h1.1v2.4h-1.1zM3044.4 2161.0h1.9v1.7h-1.9zM3074.3 2061.1h1.2v2.0h-1.2zM3076.5 2074.1h1.5v1.6h-1.5zM3047.0 2135.5h2.7v0.9h-2.7zM2940.9 2138.7h2.9v1.0h-2.9zM2921.3 2098.5h2.1v1.4h-2.1zM2935.6 2063.0h2.7v2.5h-2.7zM3019.1 2188.0h1.3v1.9h-1.3zM2970.7 2177.4h2.6v1.9h-2.6zM3069.6 2193.4h1.4v1.6h-1.4zM2920.4 2134.9h1.6v2.1h-1.6zM2969.0 2053.1h3.3v1.0h-3.3zM2953.3 2129.0h1.1v2.2h-1.1zM3033.9 2069.4h2.6v1.0h-2.6zM3000.5 2065.8h1.7v1.6h-1.7zM3003.0 2148.8h3.4v1.4h-3.4zM2968.0 2083.0h2.9v1.5h-2.9zM2943.1 2080.4h2.1v2.3h-2.1zM2983.8 2172.4h2.2v1.8h-2.2zM2951.0 2112.6h2.9v1.0h-2.9zM2986.7 2089.4h1.8v1.4h-1.8zM2940.7 2137.3h1.1v1.2h-1.1zM2952.5 2078.8h3.2v2.0h-3.2zM3064.8 2071.7h1.5v1.4h-1.5zM2996.5 2175.4h3.2v2.3h-3.2zM2908.1 2056.0h1.9v1.6h-1.9zM2906.1 2103.9h1.3v2.4h-1.3zM2942.9 2099.2h1.5v2.3h-1.5zM2925.3 2117.1h1.6v1.2h-1.6zM3084.0 2157.7h2.9v1.4h-2.9zM3080.9 2194.9h2.7v1.2h-2.7zM2913.8 2132.6h2.3v2.4h-2.3zM3084.7 2172.9h1.6v2.6h-1.6zM3015.3 2057.6h1.5v2.5h-1.5zM3048.2 2161.6h2.7v0.8h-2.7zM3073.6 2096.1h3.0v1.8h-3.0zM2992.9 2129.9h3.4v2.3h-3.4zM2976.0 2178.2h1.5v1.4h-1.5zM2962.8 2059.0h2.0v0.8h-2.0zM3079.4 2173.0h2.2v0.9h-2.2zM2952.4 2166.3h1.8v1.0h-1.8zM2981.9 2137.6h1.3v1.5h-1.3zM3005.2 2162.2h2.1v2.6h-2.1zM2951.0 2163.0h1.2v2.4h-1.2zM3003.1 2077.6h3.1v2.4h-3.1zM2928.4 2182.6h3.5v1.4h-3.5zM3047.3 2158.6h2.5v1.5h-2.5zM2961.3 2172.8h3.0v2.5h-3.0zM2917.3 2136.4h2.8v1.2h-2.8zM2908.8 2184.2h3.0v2.1h-3.0zM2964.9 2116.9h3.1v1.0h-3.1zM3035.1 2156.7h2.2v2.5h-2.2zM3018.7 2182.8h1.5v1.5h-1.5zM2957.6 2125.8h3.0v2.6h-3.0zM3068.9 2178.2h3.5v2.1h-3.5zM3037.7 2065.5h2.1v1.7h-2.1zM2923.9 2185.4h2.0v1.2h-2.0zM2919.7 2131.5h1.9v2.5h-1.9zM3019.2 2115.6h1.4v0.9h-1.4zM3028.9 2142.6h2.3v1.7h-2.3zM2978.9 2186.1h1.1v1.2h-1.1zM3047.9 2098.7h1.9v1.6h-1.9zM2958.3 2164.4h1.2v1.8h-1.2zM3033.6 2102.8h2.9v1.4h-2.9zM3017.1 2067.1h1.8v1.8h-1.8zM3015.1 2120.6h1.1v1.8h-1.1zM3060.8 2092.2h1.5v1.9h-1.5zM2946.8 2067.1h1.2v1.9h-1.2zM3063.7 2166.2h2.5v2.4h-2.5zM3057.7 2091.7h2.0v2.6h-2.0zM3074.7 2146.8h2.6v1.4h-2.6zM2921.3 2100.7h1.6v1.9h-1.6zM3023.0 2145.2h3.4v0.8h-3.4zM2942.1 2066.8h2.0v2.4h-2.0zM2989.2 2170.3h1.5v1.4h-1.5zM3048.8 2095.4h2.9v1.9h-2.9zM3023.0 2056.3h1.9v2.6h-1.9zM2972.6 2093.2h3.6v1.9h-3.6zM3030.3 2123.6h2.6v1.5h-2.6zM2954.5 2095.1h1.6v2.0h-1.6zM2920.8 2069.3h2.3v2.6h-2.3zM3045.6 2151.0h2.9v1.2h-2.9zM2996.9 2054.6h2.4v0.9h-2.4zM2925.8 2069.9h1.9v1.7h-1.9zM2944.3 2063.5h1.3v2.5h-1.3zM3082.3 2187.2h1.4v1.2h-1.4zM3063.2 2054.3h1.4v2.0h-1.4zM3078.6 2189.0h3.2v1.4h-3.2zM3037.0 2190.6h3.3v2.5h-3.3zM3042.2 2168.4h2.8v1.6h-2.8zM3008.1 2189.6h2.5v0.8h-2.5zM2985.5 2180.9h2.8v1.7h-2.8zM3073.1 2163.9h1.6v2.1h-1.6zM3061.6 2053.0h3.4v1.6h-3.4zM3057.6 2053.8h1.8v1.3h-1.8zM2944.2 2149.3h3.1v2.0h-3.1zM3068.8 2068.9h1.7v1.5h-1.7zM3047.7 2161.3h3.6v2.4h-3.6zM3000.5 2161.4h3.1v1.7h-3.1zM3027.3 2178.3h3.2v1.1h-3.2zM2910.4 2156.6h3.1v1.1h-3.1zM3058.2 2164.0h1.4v1.1h-1.4zM3023.4 2144.2h1.4v2.4h-1.4zM2943.8 2175.3h3.5v1.0h-3.5zM3031.2 2133.4h3.4v1.6h-3.4zM2979.2 2086.5h3.2v1.4h-3.2zM3069.0 2057.1h3.3v0.8h-3.3zM3035.2 2192.6h1.8v1.9h-1.8zM2979.5 2061.7h3.2v1.7h-3.2zM3049.3 2057.3h1.4v1.2h-1.4zM3051.9 2055.4h1.1v1.5h-1.1zM2974.6 2177.3h3.2v1.2h-3.2zM3038.6 2104.9h3.0v2.0h-3.0zM2917.6 2121.5h2.1v1.6h-2.1zM3005.0 2154.2h2.0v1.7h-2.0zM3053.9 2152.8h1.5v1.0h-1.5zM2953.9 2192.8h2.0v2.4h-2.0zM3078.7 2155.4h2.0v2.1h-2.0zM2995.3 2193.0h2.3v1.9h-2.3zM3028.2 2145.2h1.5v1.8h-1.5zM2982.1 2152.7h3.0v1.2h-3.0zM2971.6 2089.9h3.5v1.7h-3.5zM2986.0 2194.8h3.0v2.3h-3.0zM2995.6 2070.8h2.0v1.0h-2.0zM2977.0 2118.7h2.2v2.6h-2.2zM3000.9 2076.5h1.5v2.0h-1.5zM2997.9 2112.6h2.3v1.5h-2.3zM3027.0 2139.7h1.1v1.7h-1.1zM2950.0 2138.2h2.2v2.2h-2.2zM3078.6 2161.8h2.6v1.7h-2.6zM2925.4 2160.1h1.5v1.5h-1.5zM3010.1 2091.2h3.2v1.8h-3.2zM3080.1 2055.3h2.2v1.4h-2.2zM3008.5 2147.9h2.5v2.5h-2.5zM2984.3 2106.8h2.9v1.8h-2.9zM2953.4 2188.4h1.6v0.9h-1.6zM3001.8 2186.8h3.2v2.3h-3.2zM3014.9 2127.6h1.8v1.1h-1.8zM2984.7 2175.3h2.4v2.6h-2.4zM3049.0 2132.4h2.5v1.6h-2.5zM3068.3 2175.3h1.5v2.4h-1.5zM3026.9 2105.3h2.9v1.6h-2.9zM3029.9 2126.7h2.6v2.5h-2.6zM3065.3 2123.1h2.0v2.1h-2.0zM3025.1 2066.1h2.3v1.3h-2.3zM3021.6 2076.7h1.8v1.3h-1.8zM2955.5 2135.7h3.2v2.0h-3.2zM3021.4 2164.7h2.0v1.6h-2.0zM3022.3 2082.6h3.0v2.5h-3.0zM3063.5 2061.6h3.4v1.2h-3.4zM2928.4 2143.3h1.9v1.1h-1.9zM3014.4 2131.4h2.4v1.7h-2.4zM3016.0 2167.1h2.9v2.1h-2.9zM3053.9 2121.6h2.7v1.0h-2.7zM2919.7 2119.0h2.8v1.2h-2.8zM3077.7 2094.8h2.3v1.6h-2.3zM3079.7 2074.7h1.7v1.9h-1.7zM2970.2 2102.8h1.3v2.5h-1.3zM2984.6 2137.6h1.6v2.5h-1.6zM2924.1 2155.2h1.2v1.8h-1.2zM2963.5 2192.7h2.1v2.3h-2.1zM2910.3 2086.9h3.6v1.5h-3.6zM2911.9 2090.4h1.9v1.7h-1.9zM2973.7 2097.1h2.2v1.6h-2.2zM2937.9 2128.7h2.5v1.8h-2.5zM3038.2 2119.1h1.6v2.5h-1.6zM2926.2 2097.0h2.1v1.5h-2.1zM2943.0 2179.4h1.8v1.8h-1.8zM3014.7 2071.3h2.1v1.0h-2.1zM3002.6 2160.1h3.2v2.5h-3.2zM2925.4 2119.9h2.7v1.5h-2.7zM3075.0 2125.2h3.3v0.9h-3.3zM2975.0 2155.1h3.2v1.7h-3.2zM3059.5 2164.5h2.1v2.1h-2.1zM2997.9 2068.7h3.3v2.3h-3.3zM3065.6 2086.8h3.0v0.9h-3.0zM2995.0 2096.8h2.3v1.5h-2.3zM3004.0 2116.2h3.0v2.0h-3.0zM2955.0 2081.3h1.6v1.4h-1.6zM2981.5 2126.6h3.0v2.6h-3.0zM2952.0 2095.7h2.3v0.8h-2.3zM3019.3 2057.6h2.5v1.9h-2.5zM2973.9 2198.6h1.8v0.8h-1.8zM2924.2 2087.6h2.9v2.1h-2.9zM2968.7 2182.7h1.4v1.2h-1.4zM3007.8 2130.9h3.1v1.4h-3.1zM3067.3 2145.5h2.8v1.8h-2.8zM2943.1 2135.4h3.5v0.8h-3.5zM2964.5 2097.6h1.7v2.2h-1.7zM3021.7 2071.9h2.8v2.4h-2.8zM2916.8 2054.8h2.6v2.4h-2.6zM3004.0 2126.9h2.1v1.8h-2.1zM3069.2 2140.4h2.9v1.6h-2.9zM3064.0 2165.8h2.3v1.3h-2.3zM2959.1 2196.9h2.7v0.9h-2.7zM2998.7 2115.2h2.6v1.3h-2.6zM3067.8 2123.4h3.2v1.3h-3.2zM3064.8 2132.8h2.4v1.6h-2.4zM3074.6 2135.3h2.4v1.5h-2.4zM2987.3 2092.0h2.2v1.3h-2.2zM2918.9 2106.1h1.1v2.0h-1.1zM2922.1 2186.0h1.8v1.3h-1.8zM3003.9 2095.2h2.9v1.3h-2.9zM3070.8 2058.2h1.1v2.4h-1.1zM3028.9 2091.0h2.7v1.4h-2.7zM2996.5 2092.7h2.4v2.0h-2.4zM3057.3 2089.9h2.5v1.8h-2.5zM3062.3 2123.1h3.2v2.5h-3.2zM2978.5 2112.1h3.5v1.8h-3.5zM3000.5 2167.1h2.6v1.7h-2.6zM3023.4 2090.7h2.0v0.8h-2.0zM3034.7 2173.9h2.9v2.5h-2.9zM3041.0 2067.9h1.8v2.5h-1.8zM2924.3 2181.9h3.1v1.1h-3.1zM2942.7 2160.3h2.7v0.9h-2.7zM3000.3 2079.9h3.2v1.8h-3.2zM2907.4 2110.5h1.0v2.4h-1.0zM3064.7 2158.3h1.0v2.5h-1.0zM2952.5 2148.3h3.0v1.8h-3.0zM2925.9 2088.4h2.9v1.0h-2.9zM2972.7 2189.9h2.1v1.1h-2.1zM3022.0 2103.7h3.1v1.5h-3.1zM3054.2 2174.2h1.5v1.8h-1.5zM2985.2 2070.2h3.4v1.4h-3.4zM3015.1 2060.9h3.5v2.6h-3.5zM3028.1 2071.3h2.7v1.6h-2.7zM2990.2 2084.3h1.4v2.3h-1.4zM3013.7 2162.5h2.9v1.5h-2.9zM3004.0 2096.8h2.7v1.6h-2.7zM3046.1 2095.2h2.0v0.9h-2.0zM2912.0 2083.8h1.0v1.6h-1.0zM2973.3 2182.5h1.1v2.6h-1.1zM2922.1 2174.9h1.9v1.2h-1.9zM3014.9 2104.7h1.0v1.0h-1.0zM3027.2 2158.5h3.6v1.3h-3.6zM3043.5 2102.7h2.3v1.3h-2.3zM2979.1 2187.3h1.7v1.6h-1.7zM3068.5 2118.9h3.1v1.8h-3.1zM2968.0 2158.6h2.7v1.5h-2.7zM3084.6 2065.6h3.2v2.1h-3.2zM3032.8 2122.1h2.9v0.9h-2.9zM3025.6 2180.1h2.1v2.1h-2.1zM3030.2 2126.3h3.0v1.7h-3.0zM2926.7 2129.4h3.0v1.1h-3.0zM2988.1 2175.5h1.0v2.4h-1.0zM2968.2 2105.8h2.8v1.8h-2.8zM2956.8 2075.0h2.1v2.4h-2.1zM3084.1 2158.2h2.8v2.0h-2.8zM3069.5 2075.8h1.4v2.3h-1.4zM2908.6 2129.4h2.0v2.5h-2.0zM3017.5 2085.3h1.2v1.7h-1.2zM3004.3 2121.2h2.5v0.9h-2.5zM2969.7 2174.8h1.8v1.1h-1.8zM2937.1 2190.9h3.3v1.5h-3.3zM2964.3 2106.5h3.3v2.4h-3.3zM3076.4 2178.7h2.8v1.0h-2.8zM3074.6 2076.8h2.9v1.4h-2.9zM2911.6 2149.4h1.7v2.4h-1.7zM2937.5 2150.8h2.1v0.9h-2.1zM2955.7 2097.8h3.0v2.2h-3.0zM3073.4 2076.5h1.5v1.5h-1.5zM2962.7 2082.5h3.0v0.8h-3.0zM3001.7 2071.7h1.8v1.3h-1.8zM2988.2 2191.0h2.9v1.6h-2.9zM3083.2 2089.5h1.5v1.9h-1.5zM3043.6 2159.2h2.3v2.1h-2.3zM2964.9 2192.4h2.9v2.2h-2.9zM3002.2 2187.9h2.2v2.5h-2.2zM2984.8 2192.7h1.8v1.7h-1.8zM3005.9 2133.4h3.2v2.3h-3.2zM2937.7 2156.5h2.4v1.5h-2.4zM2925.9 2186.6h3.6v2.1h-3.6zM3007.8 2064.2h1.8v1.4h-1.8zM2920.6 2107.5h2.0v1.5h-2.0zM2917.4 2071.6h3.5v1.8h-3.5zM2946.9 2118.5h1.9v1.7h-1.9zM2936.9 2162.2h3.4v1.9h-3.4zM3077.7 2172.6h2.4v1.7h-2.4zM3029.4 2106.4h1.2v1.6h-1.2zM3052.0 2151.9h1.1v2.3h-1.1zM2913.4 2128.8h1.5v1.3h-1.5zM2946.6 2143.0h2.8v2.4h-2.8zM2996.1 2060.9h1.1v1.0h-1.1zM2928.0 2078.0h1.8v1.1h-1.8zM3058.1 2105.2h2.2v2.2h-2.2zM2937.5 2126.2h1.1v1.7h-1.1zM3072.1 2135.9h1.8v1.9h-1.8zM2995.4 2125.7h2.7v2.1h-2.7zM3065.3 2196.6h3.5v2.3h-3.5zM3027.9 2170.4h1.5v1.2h-1.5zM3056.7 2116.5h1.1v2.1h-1.1zM2929.1 2092.3h3.4v1.1h-3.4zM3053.8 2091.5h3.1v1.5h-3.1zM3006.2 2153.2h2.9v1.2h-2.9zM3025.8 2076.6h1.6v2.2h-1.6zM2932.5 2113.3h1.3v1.8h-1.3zM2936.6 2105.4h3.5v1.6h-3.5zM2995.2 2056.8h1.7v1.0h-1.7zM3016.6 2074.8h1.5v1.1h-1.5zM3038.3 2148.5h1.8v1.4h-1.8zM2954.7 2133.1h2.5v1.0h-2.5zM2932.6 2144.7h1.7v2.0h-1.7zM2936.6 2066.5h1.2v2.3h-1.2zM3001.6 2054.9h1.9v1.9h-1.9zM2944.4 2175.1h1.0v1.7h-1.0zM3008.4 2079.9h3.6v1.8h-3.6zM2928.5 2163.7h1.1v2.0h-1.1zM3055.3 2146.5h1.1v0.9h-1.1zM3054.4 2177.3h1.7v2.5h-1.7zM3051.4 2067.8h3.3v0.8h-3.3zM2963.4 2082.9h1.5v1.7h-1.5zM2913.3 2194.9h1.5v2.0h-1.5zM2968.3 2187.8h2.5v1.7h-2.5zM3041.9 2135.2h2.2v1.1h-2.2zM3048.9 2145.0h2.2v2.6h-2.2zM2988.6 2161.7h1.4v1.4h-1.4zM3018.6 2090.3h3.6v2.6h-3.6zM3021.1 2158.4h1.7v2.2h-1.7zM3059.9 2119.9h2.5v2.0h-2.5zM2949.8 2058.8h1.5v1.7h-1.5zM3019.6 2178.7h1.7v1.1h-1.7zM2980.5 2076.2h1.7v1.7h-1.7zM3028.3 2067.6h1.5v1.6h-1.5zM2998.8 2078.0h2.7v1.8h-2.7zM3078.3 2193.2h2.6v1.0h-2.6zM2999.0 2092.2h1.7v0.9h-1.7zM3029.4 2149.2h1.7v1.2h-1.7zM3083.6 2133.8h2.8v1.2h-2.8zM3074.6 2158.4h2.3v1.0h-2.3zM2983.6 2055.7h1.5v2.2h-1.5zM2925.0 2082.4h1.9v2.5h-1.9zM2934.6 2113.6h2.4v0.9h-2.4zM3006.4 2062.4h1.8v1.4h-1.8zM3084.5 2116.8h1.8v1.4h-1.8zM2959.0 2076.0h1.8v2.0h-1.8zM2968.5 2086.0h1.1v2.2h-1.1zM2958.7 2092.1h3.2v2.5h-3.2zM3004.1 2062.3h3.2v2.2h-3.2zM2908.1 2094.6h3.2v1.7h-3.2zM2936.8 2197.8h1.6v1.1h-1.6zM3030.0 2198.1h2.8v0.8h-2.8zM2908.7 2083.7h2.7v2.5h-2.7zM2925.8 2150.9h2.8v0.9h-2.8zM3067.5 2098.4h2.0v2.2h-2.0zM3002.8 2144.7h1.2v1.9h-1.2zM2931.9 2173.9h3.0v2.0h-3.0zM3021.1 2196.5h3.2v2.1h-3.2zM2969.8 2053.9h3.6v0.9h-3.6zM2912.8 2140.0h3.6v1.6h-3.6zM2942.7 2054.8h1.4v1.5h-1.4zM2967.8 2091.8h3.3v2.6h-3.3zM3081.1 2081.0h2.8v1.1h-2.8zM2988.2 2126.0h1.8v2.2h-1.8zM2944.5 2170.8h3.0v1.9h-3.0zM2918.7 2070.0h3.1v2.5h-3.1zM2948.1 2150.6h3.0v2.4h-3.0zM2929.5 2082.3h1.2v2.0h-1.2zM2969.5 2155.3h1.4v1.9h-1.4zM2954.1 2116.9h2.5v2.5h-2.5zM2939.5 2167.9h1.1v1.1h-1.1zM3030.4 2064.3h3.2v2.4h-3.2zM2944.5 2156.6h2.7v2.6h-2.7zM2994.2 2106.5h3.3v1.3h-3.3zM3069.4 2105.6h2.1v2.3h-2.1zM3041.2 2079.3h2.7v2.6h-2.7zM2977.0 2134.6h2.7v2.1h-2.7zM2975.3 2108.3h1.5v1.9h-1.5zM2964.4 2168.4h1.1v2.2h-1.1zM2933.9 2180.6h3.1v1.4h-3.1zM2922.9 2083.2h1.5v2.6h-1.5zM3050.2 2055.5h1.0v1.8h-1.0zM2986.8 2133.8h3.2v2.3h-3.2zM2929.3 2195.4h2.2v1.6h-2.2zM2932.2 2087.3h1.5v1.3h-1.5zM3003.0 2090.2h1.7v1.0h-1.7zM2917.5 2186.8h2.1v1.6h-2.1zM2928.6 2197.6h1.0v2.2h-1.0zM2912.8 2094.7h2.3v1.6h-2.3zM3031.8 2136.4h2.8v0.9h-2.8zM2957.8 2092.6h2.3v1.6h-2.3zM2924.4 2071.0h1.2v0.9h-1.2zM3021.5 2194.6h2.5v1.2h-2.5zM3015.0 2125.3h1.7v2.2h-1.7zM2952.3 2097.3h1.1v1.2h-1.1zM3071.1 2122.9h2.9v1.7h-2.9zM2952.8 2104.5h2.3v1.4h-2.3zM2997.7 2055.7h2.0v1.0h-2.0zM2991.1 2130.5h3.4v2.4h-3.4zM3065.8 2117.8h1.8v2.3h-1.8zM2926.4 2108.2h1.2v2.3h-1.2zM3039.1 2189.1h1.5v2.3h-1.5zM3030.5 2132.6h2.2v2.2h-2.2zM2990.1 2192.0h3.4v1.5h-3.4zM3002.0 2115.6h3.3v2.3h-3.3zM2977.1 2106.4h1.8v2.0h-1.8zM3024.7 2143.9h2.4v2.0h-2.4zM2906.1 2122.8h2.8v2.1h-2.8zM3051.7 2085.4h3.4v2.5h-3.4zM3016.7 2173.5h1.5v1.1h-1.5zM2944.1 2131.0h3.3v1.4h-3.3zM3073.0 2174.9h1.1v0.9h-1.1zM3084.6 2126.0h3.0v2.4h-3.0zM2959.7 2054.3h3.3v2.5h-3.3zM2976.9 2149.8h1.0v2.5h-1.0zM3015.0 2196.7h2.8v1.4h-2.8zM2937.3 2128.1h3.2v1.8h-3.2zM3002.0 2084.6h1.4v1.2h-1.4zM2959.7 2121.8h3.4v1.3h-3.4zM2946.1 2161.6h3.4v1.2h-3.4zM2958.8 2113.4h1.2v1.0h-1.2zM3004.3 2088.4h1.6v2.2h-1.6zM2991.7 2135.5h2.7v2.1h-2.7zM3070.8 2195.6h1.3v2.1h-1.3zM2909.5 2069.6h1.7v1.0h-1.7zM2932.4 2086.5h3.1v2.2h-3.1zM2995.3 2133.4h2.9v1.9h-2.9zM2918.9 2120.0h1.5v1.6h-1.5zM3081.0 2081.1h1.8v1.8h-1.8zM3023.7 2097.2h2.0v1.7h-2.0zM3072.4 2059.3h3.3v1.8h-3.3zM3069.9 2109.8h2.7v0.8h-2.7zM2945.0 2148.0h1.9v1.7h-1.9zM3081.9 2134.9h2.7v1.8h-2.7zM2950.4 2197.9h2.0v0.8h-2.0zM2981.5 2113.4h1.5v1.6h-1.5zM2918.1 2191.3h2.4v1.3h-2.4zM3003.6 2139.5h2.0v2.3h-2.0zM2987.0 2188.6h3.0v2.0h-3.0zM2934.3 2156.2h3.5v2.3h-3.5zM2912.9 2094.0h1.0v2.0h-1.0zM3064.6 2153.6h2.7v1.8h-2.7zM3036.4 2132.9h3.1v1.1h-3.1zM2989.7 2145.1h1.2v1.8h-1.2zM3069.8 2064.9h2.9v2.1h-2.9zM3065.2 2195.0h2.7v1.9h-2.7zM2990.4 2117.1h2.6v1.4h-2.6zM3048.7 2132.9h2.1v1.7h-2.1zM3032.6 2175.7h3.1v2.1h-3.1zM2949.0 2052.0h1.3v1.0h-1.3zM2996.3 2063.4h2.2v2.2h-2.2zM2984.3 2181.3h1.9v1.7h-1.9zM2952.7 2071.4h2.5v1.0h-2.5zM2931.6 2094.9h2.9v2.6h-2.9zM2944.1 2087.6h3.5v1.8h-3.5zM3048.4 2199.9h2.7v1.2h-2.7zM3081.7 2184.1h1.0v2.5h-1.0zM3021.7 2086.3h2.2v1.3h-2.2zM3044.5 2111.2h1.2v2.4h-1.2zM2964.6 2077.8h2.8v1.0h-2.8zM3013.9 2117.8h1.3v2.5h-1.3zM3029.8 2060.3h3.3v2.0h-3.3zM3053.1 2166.2h1.4v1.4h-1.4zM2936.0 2172.0h3.5v1.8h-3.5zM3024.9 2196.5h2.4v1.6h-2.4zM2955.6 2197.9h1.3v1.1h-1.3zM3058.2 2056.0h1.5v1.8h-1.5zM2947.6 2108.9h1.1v2.0h-1.1zM2918.4 2094.8h1.3v2.1h-1.3zM2944.1 2134.1h1.1v1.8h-1.1zM2966.6 2186.4h1.5v1.3h-1.5zM3061.4 2061.0h2.3v1.7h-2.3zM2957.4 2076.9h2.3v0.9h-2.3zM2906.7 2094.3h2.0v1.3h-2.0zM3032.9 2113.5h2.6v1.9h-2.6zM3032.9 2189.9h2.5v2.0h-2.5zM3005.2 2063.3h3.2v1.8h-3.2zM2912.1 2162.0h2.3v2.5h-2.3zM2980.1 2121.7h3.3v2.5h-3.3zM3043.7 2117.8h2.1v2.1h-2.1zM3066.5 2119.8h2.8v1.8h-2.8zM3004.3 2083.6h1.7v1.3h-1.7zM3082.1 2055.8h1.6v1.2h-1.6zM3051.9 2151.4h1.8v1.0h-1.8zM3026.1 2162.5h2.7v2.1h-2.7zM3012.7 2056.4h3.1v2.4h-3.1zM2935.1 2108.7h3.6v2.6h-3.6zM3052.0 2176.8h1.4v2.4h-1.4zM3053.1 2081.6h3.4v2.3h-3.4zM3069.9 2184.9h1.2v1.1h-1.2zM3050.1 2077.6h1.9v2.2h-1.9zM3054.5 2111.1h2.1v2.1h-2.1zM3084.2 2144.9h1.9v1.2h-1.9zM2938.7 2142.5h2.9v1.2h-2.9zM3038.9 2141.5h2.5v1.7h-2.5zM2979.0 2054.2h2.4v2.0h-2.4zM3064.8 2196.0h2.7v1.1h-2.7zM3059.6 2113.3h3.5v2.5h-3.5zM2921.2 2059.7h1.1v2.0h-1.1zM2993.6 2144.3h1.8v1.9h-1.8zM2922.1 2082.6h2.9v1.2h-2.9zM2925.5 2148.1h3.6v2.5h-3.6zM3063.7 2157.6h1.0v1.1h-1.0zM3009.8 2130.8h3.2v0.9h-3.2zM3017.6 2062.6h3.0v1.0h-3.0zM2992.6 2166.3h3.6v2.2h-3.6zM3045.8 2096.1h2.7v1.8h-2.7zM2994.0 2140.1h2.2v1.5h-2.2zM3042.3 2147.7h3.5v2.5h-3.5zM3049.1 2068.3h2.3v1.7h-2.3zM3047.2 2186.7h1.5v0.8h-1.5zM3061.6 2196.4h1.9v1.9h-1.9zM2974.3 2108.8h2.7v2.0h-2.7zM3067.2 2106.0h2.3v1.6h-2.3zM3082.5 2128.5h3.4v2.5h-3.4zM2910.2 2166.2h1.3v1.7h-1.3zM3018.4 2063.6h2.5v2.0h-2.5zM2967.7 2131.8h2.0v1.1h-2.0zM2950.9 2191.3h2.7v1.8h-2.7zM3050.0 2175.8h3.0v1.5h-3.0zM3002.2 2099.7h1.2v2.5h-1.2zM2919.4 2107.1h3.2v1.4h-3.2zM3069.1 2055.2h1.4v1.6h-1.4zM3019.4 2169.4h3.3v2.3h-3.3zM2938.4 2198.8h1.1v1.6h-1.1zM2967.8 2055.5h1.5v2.6h-1.5zM3079.6 2103.0h3.6v2.1h-3.6zM2910.9 2141.2h1.5v1.3h-1.5zM3034.2 2082.7h1.9v0.8h-1.9zM2962.8 2096.9h1.3v1.0h-1.3zM2978.2 2064.1h3.4v1.3h-3.4zM2971.1 2061.4h3.1v1.1h-3.1zM2918.7 2106.9h3.4v2.5h-3.4zM2989.0 2137.9h1.2v2.4h-1.2zM3040.7 2088.4h3.2v1.1h-3.2zM2991.9 2094.4h2.5v1.3h-2.5zM3002.8 2089.8h1.0v1.0h-1.0zM3047.0 2118.2h2.3v2.0h-2.3zM2951.0 2079.9h2.1v2.2h-2.1zM3036.7 2120.0h2.6v1.3h-2.6zM3075.6 2146.7h3.1v1.5h-3.1zM3009.2 2157.1h2.4v2.2h-2.4zM2954.0 2168.1h1.8v1.7h-1.8zM2930.8 2111.7h3.3v0.9h-3.3zM2938.9 2132.3h2.7v2.0h-2.7zM3028.6 2158.5h2.6v1.1h-2.6zM3003.0 2093.6h1.0v1.7h-1.0zM3080.5 2121.1h3.0v1.9h-3.0zM2911.7 2133.2h3.6v2.0h-3.6zM2958.6 2185.9h2.7v2.5h-2.7zM3057.7 2138.3h2.2v1.8h-2.2zM2962.5 2178.3h1.3v2.6h-1.3zM2966.1 2117.1h2.6v1.4h-2.6zM3014.4 2060.1h3.3v1.0h-3.3zM3062.2 2179.0h3.0v2.2h-3.0zM2938.6 2136.1h1.2v2.1h-1.2zM3046.8 2083.2h2.2v1.0h-2.2zM3025.1 2155.3h1.2v1.9h-1.2zM3063.2 2078.4h3.4v1.3h-3.4zM2908.0 2064.4h3.0v1.1h-3.0zM3059.7 2116.5h1.2v2.3h-1.2zM2964.0 2071.5h1.0v1.3h-1.0zM2988.1 2125.4h2.5v0.9h-2.5zM2905.5 2183.3h2.1v2.1h-2.1zM3066.1 2140.0h2.9v1.2h-2.9zM2943.1 2128.0h3.6v2.5h-3.6zM2946.7 2145.9h1.8v1.4h-1.8zM2955.7 2199.3h2.0v1.6h-2.0zM2920.5 2177.5h1.2v2.3h-1.2zM2948.2 2086.9h1.1v1.4h-1.1zM3077.0 2105.5h1.9v2.1h-1.9zM2946.4 2164.1h3.5v2.3h-3.5zM2912.3 2167.6h3.1v2.2h-3.1zM3009.1 2067.8h2.8v1.8h-2.8zM2992.4 2165.5h1.5v1.5h-1.5zM3018.7 2184.7h3.6v2.4h-3.6zM2952.3 2114.4h2.4v1.6h-2.4zM2919.2 2106.2h3.4v1.5h-3.4zM3063.3 2183.9h2.3v2.5h-2.3zM3080.7 2053.4h2.5v2.5h-2.5zM2960.8 2105.7h1.4v2.4h-1.4zM3006.4 2139.6h2.6v2.4h-2.6zM2998.0 2133.4h2.2v1.4h-2.2zM3079.5 2147.7h2.3v1.0h-2.3zM3020.1 2058.5h2.2v1.2h-2.2zM2975.5 2084.7h1.6v1.6h-1.6zM2926.6 2089.3h2.9v1.0h-2.9zM3057.3 2112.9h1.6v2.2h-1.6zM2972.8 2106.4h1.0v1.1h-1.0zM3073.7 2125.1h2.1v1.9h-2.1zM2921.1 2074.4h3.2v1.9h-3.2zM2962.4 2179.7h1.8v1.6h-1.8zM3046.3 2178.1h1.7v2.6h-1.7zM2942.8 2091.4h2.3v1.8h-2.3zM3002.2 2121.2h3.0v1.3h-3.0zM2983.3 2152.0h3.3v1.3h-3.3zM2968.9 2121.6h1.7v1.7h-1.7zM3074.2 2086.6h3.2v2.4h-3.2zM2993.0 2104.0h1.3v1.8h-1.3zM3057.0 2108.5h1.7v2.3h-1.7zM2933.3 2135.4h3.0v1.7h-3.0zM2957.7 2140.6h1.9v2.0h-1.9zM3048.2 2170.7h3.0v1.0h-3.0zM2953.6 2150.9h2.7v2.4h-2.7zM2984.3 2060.9h1.2v0.9h-1.2zM3001.9 2099.9h1.1v2.4h-1.1zM2916.7 2103.5h3.0v2.0h-3.0zM2944.3 2194.4h2.2v2.3h-2.2zM2981.0 2147.8h3.5v0.9h-3.5zM3007.2 2139.4h3.5v1.9h-3.5zM2952.1 2072.5h2.4v1.1h-2.4zM2968.1 2193.9h1.5v1.2h-1.5zM3025.5 2126.6h3.4v1.4h-3.4zM3041.5 2113.3h3.6v2.5h-3.6zM2939.9 2107.0h2.2v1.6h-2.2zM3011.5 2154.2h1.4v2.0h-1.4zM3053.2 2112.8h1.7v1.3h-1.7zM3014.3 2069.8h1.5v1.3h-1.5zM3029.0 2161.9h2.4v1.1h-2.4zM2968.7 2061.0h3.6v1.6h-3.6zM3055.8 2088.4h1.7v1.1h-1.7zM2974.8 2153.5h2.4v1.4h-2.4zM2928.1 2092.3h3.0v1.1h-3.0zM3083.5 2176.0h1.4v0.8h-1.4zM3053.4 2058.4h2.7v1.7h-2.7zM2979.2 2138.1h1.0v2.2h-1.0zM3056.4 2057.6h1.7v2.3h-1.7zM2940.4 2073.4h3.1v2.6h-3.1zM3082.9 2080.7h1.3v0.8h-1.3zM2926.3 2100.6h3.5v2.2h-3.5zM2937.5 2110.7h2.4v1.1h-2.4zM2915.4 2080.3h1.8v0.9h-1.8zM3080.4 2196.1h2.2v1.6h-2.2zM3004.7 2175.5h2.1v2.5h-2.1zM3077.2 2093.0h2.5v2.5h-2.5zM2959.7 2198.8h2.3v2.0h-2.3zM2922.2 2110.5h2.7v1.2h-2.7zM3079.7 2110.7h2.5v2.2h-2.5zM2961.3 2155.9h2.9v2.2h-2.9zM2962.2 2102.2h2.5v1.6h-2.5zM2990.1 2135.8h3.0v1.1h-3.0zM2943.2 2070.7h2.3v1.2h-2.3zM3072.5 2082.5h2.2v2.2h-2.2zM2955.9 2063.8h1.6v2.1h-1.6zM2967.9 2191.9h1.4v1.3h-1.4zM2994.0 2101.5h1.8v1.0h-1.8zM2996.0 2162.8h2.0v2.6h-2.0zM3017.0 2105.6h2.0v1.3h-2.0zM2922.1 2121.9h2.4v2.2h-2.4zM2919.1 2056.4h3.4v1.4h-3.4zM3035.5 2181.8h1.7v1.1h-1.7zM3045.5 2096.8h2.3v0.8h-2.3zM3009.9 2117.2h1.5v1.1h-1.5zM3071.8 2185.0h1.8v1.4h-1.8zM2966.1 2103.1h2.0v2.5h-2.0zM2908.0 2105.8h2.4v1.9h-2.4zM2965.0 2158.7h2.1v1.1h-2.1zM3069.0 2082.7h2.8v2.5h-2.8zM2935.5 2163.9h3.0v1.4h-3.0zM3070.0 2072.5h2.3v2.6h-2.3zM2999.5 2181.6h2.0v2.0h-2.0zM2992.4 2157.1h2.9v2.1h-2.9zM3041.7 2083.6h2.7v2.2h-2.7zM3039.3 2078.4h2.4v0.8h-2.4zM3079.8 2147.9h1.6v1.9h-1.6zM2961.3 2134.5h3.0v2.3h-3.0zM3081.8 2149.6h2.4v1.7h-2.4zM2932.3 2057.0h3.3v2.6h-3.3zM3054.3 2079.9h2.6v1.2h-2.6zM2963.1 2169.0h3.4v0.8h-3.4zM3045.3 2157.2h2.8v1.1h-2.8zM2968.1 2162.2h1.5v1.1h-1.5zM2991.1 2077.2h1.7v1.1h-1.7zM2943.2 2067.1h2.1v1.4h-2.1zM2930.2 2078.3h2.0v0.9h-2.0zM2958.4 2058.6h2.9v1.0h-2.9zM2989.4 2072.2h2.8v2.6h-2.8zM3031.8 2064.7h1.5v1.1h-1.5zM3064.3 2064.3h3.0v2.2h-3.0zM3055.1 2115.0h2.1v1.4h-2.1zM3022.5 2123.6h2.8v1.6h-2.8zM3056.7 2140.7h1.7v1.6h-1.7zM2946.8 2187.6h1.1v1.5h-1.1zM2982.3 2141.7h1.3v2.0h-1.3zM2929.0 2093.1h1.8v0.9h-1.8zM3084.8 2061.0h3.3v2.0h-3.3zM3072.3 2139.7h2.4v1.6h-2.4zM3003.9 2100.9h1.5v1.9h-1.5zM3047.9 2196.6h3.4v1.9h-3.4zM2941.8 2134.7h1.4v2.3h-1.4zM3041.0 2107.7h1.8v2.4h-1.8zM2983.5 2063.5h2.7v1.6h-2.7zM2926.1 2178.7h1.5v1.1h-1.5zM3000.2 2088.9h1.9v1.6h-1.9zM3072.4 2139.4h2.1v2.3h-2.1zM3071.9 2187.7h1.1v2.2h-1.1zM3044.6 2157.4h2.9v2.0h-2.9zM2942.3 2189.8h3.1v1.2h-3.1zM3001.0 2079.8h1.6v1.9h-1.6zM2930.3 2053.2h2.6v1.9h-2.6zM3068.4 2056.0h1.8v1.0h-1.8zM3069.6 2171.2h1.4v1.6h-1.4zM3029.0 2143.8h2.3v1.8h-2.3zM2942.9 2061.1h1.4v1.7h-1.4zM2930.8 2182.8h1.8v0.8h-1.8zM3021.3 2150.3h2.9v1.6h-2.9zM3069.8 2152.1h3.4v2.2h-3.4zM2954.3 2115.8h1.5v1.9h-1.5zM2974.8 2120.2h2.0v1.1h-2.0zM3011.2 2159.4h1.9v1.0h-1.9zM3015.6 2144.2h2.4v2.3h-2.4zM3074.4 2164.9h2.6v2.5h-2.6zM3006.4 2128.6h1.5v1.4h-1.5zM2970.5 2091.4h1.7v1.1h-1.7zM2923.7 2134.3h2.1v2.2h-2.1zM3035.5 2189.5h3.4v1.0h-3.4zM3023.5 2189.1h1.2v1.0h-1.2zM2908.7 2078.4h3.5v2.4h-3.5zM2930.7 2052.7h1.3v2.4h-1.3zM2963.1 2136.3h1.9v1.6h-1.9zM3019.4 2191.2h1.2v1.6h-1.2zM3033.5 2168.5h2.6v1.3h-2.6zM2909.8 2085.9h2.5v2.4h-2.5zM3010.9 2140.4h2.0v2.2h-2.0zM3079.6 2122.2h2.7v1.8h-2.7zM2950.7 2186.2h1.2v1.6h-1.2zM3071.4 2136.7h2.0v1.2h-2.0zM2972.0 2162.7h2.8v1.9h-2.8zM3076.0 2106.6h1.7v1.9h-1.7zM3072.4 2156.6h3.2v2.3h-3.2zM2909.0 2146.4h1.6v2.0h-1.6zM3046.7 2171.2h1.5v1.5h-1.5zM2933.4 2174.6h2.8v1.8h-2.8zM3003.8 2161.0h2.2v1.1h-2.2zM3076.7 2166.5h2.3v1.8h-2.3zM2942.3 2086.6h1.1v2.0h-1.1zM3051.4 2090.8h1.5v1.6h-1.5zM2956.1 2164.0h1.6v1.3h-1.6zM2977.9 2179.2h2.9v1.0h-2.9zM2930.2 2059.6h2.7v2.0h-2.7zM2934.9 2093.8h3.2v0.9h-3.2zM3036.7 2174.6h2.7v1.4h-2.7zM3038.2 2188.5h2.5v1.9h-2.5zM3013.2 2189.5h3.5v2.0h-3.5zM2992.9 2070.3h2.3v1.6h-2.3zM3027.3 2123.9h1.6v1.2h-1.6zM3039.9 2136.5h3.0v1.1h-3.0zM2985.2 2069.2h1.4v1.4h-1.4zM2954.4 2193.1h1.3v1.7h-1.3zM2921.7 2183.1h1.3v2.3h-1.3zM2961.8 2105.0h1.3v1.9h-1.3zM2918.0 2150.9h2.4v1.3h-2.4zM3021.9 2156.9h1.2v2.4h-1.2zM3062.6 2170.2h3.4v1.4h-3.4zM2928.2 2115.9h3.4v2.0h-3.4zM2924.6 2163.1h3.1v1.6h-3.1zM3021.7 2181.0h2.1v2.2h-2.1zM3007.6 2168.3h3.2v1.1h-3.2zM2938.9 2138.8h1.9v1.3h-1.9zM2905.1 2117.6h3.6v1.5h-3.6zM2943.7 2107.1h2.6v0.8h-2.6zM2935.6 2129.7h1.9v2.1h-1.9zM2928.3 2061.3h3.4v2.2h-3.4zM3020.8 2141.2h1.5v1.1h-1.5zM2985.1 2153.1h2.2v1.7h-2.2zM2919.3 2192.4h1.6v1.5h-1.6zM3049.9 2192.1h2.0v1.6h-2.0zM3056.1 2124.3h1.3v1.2h-1.3zM2965.8 2052.4h1.2v2.4h-1.2zM3055.1 2174.6h1.8v1.4h-1.8zM3073.9 2059.7h2.1v1.5h-2.1zM3038.8 2153.4h3.6v2.5h-3.6zM3014.2 2187.8h2.6v1.2h-2.6zM2996.5 2091.7h3.4v2.2h-3.4zM2923.4 2148.1h2.7v2.2h-2.7zM2931.3 2138.2h1.3v1.6h-1.3zM2970.1 2104.6h2.1v1.7h-2.1zM2925.0 2130.1h1.2v2.1h-1.2zM2911.5 2123.7h1.0v2.2h-1.0zM3074.7 2162.3h2.2v1.6h-2.2zM3041.0 2063.4h1.9v1.7h-1.9zM2936.1 2119.8h1.9v1.1h-1.9zM3011.0 2116.5h1.3v1.8h-1.3zM2945.6 2136.2h1.8v2.1h-1.8zM3012.7 2052.4h1.9v2.2h-1.9zM2965.7 2166.0h3.2v2.5h-3.2zM3040.3 2115.1h2.2v1.0h-2.2zM2958.0 2090.8h3.1v2.2h-3.1zM3018.5 2165.0h2.1v2.0h-2.1zM2969.2 2054.1h2.4v2.4h-2.4zM2994.5 2185.6h2.0v1.3h-2.0zM2933.6 2115.6h1.8v1.0h-1.8zM2961.3 2193.1h3.0v1.6h-3.0zM2947.3 2125.5h1.9v1.9h-1.9zM2955.5 2144.0h3.0v1.3h-3.0zM2944.9 2135.9h2.5v2.4h-2.5zM3051.3 2120.3h2.3v2.2h-2.3zM3008.6 2069.9h2.0v1.0h-2.0zM3025.6 2167.5h2.7v0.9h-2.7zM2977.9 2054.6h2.8v2.2h-2.8zM2941.1 2157.9h1.1v1.1h-1.1zM3071.8 2084.0h2.7v2.5h-2.7zM3043.0 2119.4h2.1v1.5h-2.1zM2932.9 2168.2h2.4v2.2h-2.4zM2991.3 2086.9h1.7v1.0h-1.7zM3034.5 2126.1h2.0v2.6h-2.0zM2970.6 2104.6h1.6v1.3h-1.6zM2949.7 2127.7h2.1v1.6h-2.1zM3055.4 2103.9h2.6v1.7h-2.6zM3075.5 2140.2h3.4v1.4h-3.4zM2939.8 2082.7h3.1v1.0h-3.1zM2957.3 2177.5h1.2v2.1h-1.2zM2975.7 2085.0h3.5v2.3h-3.5zM2943.3 2071.6h2.4v0.9h-2.4zM3075.2 2100.5h1.8v0.9h-1.8zM2992.9 2135.0h1.3v2.1h-1.3zM2997.4 2173.5h3.4v2.4h-3.4zM2984.0 2103.4h2.7v1.5h-2.7zM2986.9 2088.6h1.4v1.0h-1.4zM3019.1 2187.0h3.6v1.3h-3.6zM2941.9 2064.7h1.3v2.3h-1.3zM2967.3 2106.5h1.5v2.1h-1.5zM2939.4 2193.1h1.1v2.5h-1.1zM2978.8 2117.6h2.3v1.2h-2.3zM3069.9 2128.8h2.4v2.4h-2.4zM3024.0 2176.1h1.3v1.3h-1.3zM2943.2 2127.8h1.7v2.4h-1.7zM2942.7 2109.6h2.1v1.4h-2.1zM3032.6 2124.9h3.1v1.4h-3.1zM3055.5 2175.5h2.0v2.5h-2.0zM3072.0 2085.2h2.4v2.4h-2.4zM2946.2 2180.5h1.8v2.3h-1.8zM2972.9 2191.7h3.3v1.5h-3.3zM2907.3 2143.6h2.5v1.3h-2.5zM3069.8 2113.9h2.4v1.2h-2.4zM3036.6 2131.2h1.4v2.5h-1.4zM2955.0 2072.2h2.9v1.6h-2.9zM3050.0 2115.0h2.4v2.1h-2.4zM3062.4 2076.2h1.3v1.7h-1.3zM2932.6 2169.6h1.9v1.4h-1.9zM2920.4 2092.5h1.9v1.3h-1.9zM2943.0 2093.7h2.9v1.0h-2.9zM2995.9 2148.0h1.1v2.3h-1.1zM3041.4 2088.2h1.2v0.9h-1.2zM3062.3 2058.2h2.6v1.9h-2.6zM3023.5 2118.4h2.2v1.6h-2.2zM3041.3 2066.9h1.7v1.7h-1.7zM2979.8 2142.5h2.0v2.5h-2.0zM2943.5 2188.3h1.0v2.3h-1.0zM2923.4 2094.7h2.1v2.4h-2.1zM2928.8 2127.4h3.1v1.7h-3.1zM3035.0 2199.9h3.1v1.3h-3.1zM2963.6 2133.2h3.0v2.6h-3.0zM3057.6 2167.5h2.6v2.1h-2.6zM3061.9 2170.4h1.4v1.2h-1.4zM2978.2 2194.7h1.8v2.3h-1.8zM2958.0 2156.8h3.3v2.6h-3.3zM3007.9 2140.2h1.4v2.3h-1.4zM2943.1 2070.7h3.2v1.7h-3.2zM2988.1 2080.3h3.4v2.0h-3.4zM3060.6 2109.8h2.3v1.7h-2.3zM2921.5 2054.9h2.5v1.4h-2.5zM3056.6 2164.9h2.7v1.8h-2.7zM2948.4 2138.1h2.7v1.3h-2.7zM2988.7 2062.3h2.8v1.6h-2.8zM2944.3 2157.1h3.1v1.2h-3.1zM2906.3 2138.4h3.5v1.0h-3.5zM3049.5 2141.7h2.8v0.8h-2.8zM2976.3 2058.4h3.5v2.6h-3.5zM3033.2 2139.9h3.0v1.0h-3.0zM3082.2 2109.2h2.1v0.8h-2.1zM2919.5 2189.1h1.5v1.7h-1.5zM3035.6 2160.0h2.1v2.0h-2.1zM3055.2 2082.1h2.0v1.8h-2.0zM3029.6 2136.1h1.1v1.2h-1.1zM2969.3 2180.2h2.6v1.3h-2.6zM3007.0 2095.9h3.5v2.1h-3.5zM3063.3 2109.9h1.3v2.2h-1.3zM2937.6 2178.1h3.0v2.4h-3.0zM3008.0 2147.3h1.1v1.3h-1.1zM2926.6 2061.3h2.4v0.9h-2.4zM2994.1 2075.2h1.5v2.2h-1.5zM3082.6 2145.5h2.6v1.1h-2.6zM2981.4 2183.8h1.2v1.5h-1.2zM2948.7 2085.0h1.4v2.1h-1.4zM2966.0 2197.9h1.8v2.1h-1.8zM2970.6 2166.0h1.2v2.6h-1.2zM2949.6 2161.5h1.8v0.8h-1.8zM3001.9 2070.6h3.0v1.2h-3.0zM2914.0 2131.7h2.5v2.0h-2.5zM3033.4 2059.5h3.4v2.3h-3.4zM3039.5 2052.9h1.8v1.2h-1.8zM3063.8 2091.9h2.0v1.2h-2.0zM3036.6 2069.9h2.2v2.2h-2.2zM2970.1 2085.5h2.3v1.1h-2.3zM3035.9 2172.4h1.6v0.9h-1.6zM2972.1 2053.7h3.2v2.5h-3.2zM3011.7 2129.4h2.5v1.5h-2.5zM3002.3 2143.0h3.2v1.3h-3.2zM2931.5 2117.8h1.1v1.4h-1.1zM2996.8 2178.6h2.5v2.6h-2.5zM3046.3 2197.8h3.3v1.4h-3.3zM2937.3 2155.3h2.9v1.5h-2.9zM3052.7 2147.4h3.1v0.8h-3.1zM3056.1 2182.1h1.6v2.3h-1.6zM2952.4 2177.7h3.2v2.3h-3.2zM2922.1 2080.8h2.4v1.2h-2.4zM2973.4 2194.0h3.4v1.1h-3.4zM2935.2 2167.3h2.5v0.8h-2.5zM3077.8 2079.1h1.2v2.4h-1.2zM3053.7 2066.9h2.5v2.5h-2.5zM3084.3 2186.4h3.2v2.5h-3.2zM2976.8 2157.1h3.2v2.3h-3.2zM3012.5 2176.2h3.0v2.5h-3.0zM3068.2 2181.3h1.5v1.4h-1.5zM2994.0 2052.6h1.7v2.4h-1.7zM3080.6 2124.6h2.3v1.0h-2.3zM3001.7 2190.0h1.8v2.0h-1.8zM3052.0 2119.4h2.1v2.1h-2.1zM2936.9 2102.1h1.6v0.9h-1.6zM2948.8 2175.1h2.9v1.5h-2.9zM2925.6 2127.9h1.7v1.9h-1.7zM3059.2 2105.4h1.9v2.3h-1.9zM3059.2 2154.6h1.9v2.5h-1.9zM2916.5 2198.3h2.9v0.9h-2.9zM2935.5 2169.8h3.4v1.0h-3.4zM3016.4 2178.9h2.7v2.5h-2.7zM3063.0 2078.2h1.2v2.4h-1.2zM2949.4 2181.7h3.5v1.5h-3.5zM3043.0 2083.1h2.3v1.0h-2.3zM3017.8 2073.1h2.1v0.8h-2.1zM3081.0 2143.1h1.9v1.2h-1.9zM3046.1 2124.6h2.5v0.9h-2.5zM2970.8 2121.0h3.2v1.2h-3.2zM2913.9 2131.6h1.6v0.9h-1.6zM2924.5 2123.1h2.1v1.3h-2.1zM3031.7 2059.4h1.8v1.7h-1.8zM2949.0 2195.0h1.9v1.6h-1.9zM3076.1 2128.9h1.6v1.7h-1.6zM3083.4 2175.0h1.8v0.9h-1.8zM3071.5 2096.3h1.2v1.6h-1.2zM3042.4 2107.0h3.1v2.5h-3.1zM3026.0 2182.5h2.5v1.0h-2.5zM3026.9 2089.8h3.1v2.4h-3.1zM2988.9 2156.3h1.1v1.8h-1.1zM3023.8 2188.0h1.2v1.2h-1.2zM3042.0 2142.7h2.2v2.5h-2.2zM2917.8 2180.8h1.3v1.2h-1.3zM3023.4 2059.6h3.0v1.4h-3.0zM3048.3 2140.8h1.7v2.2h-1.7zM3070.3 2169.0h1.2v1.6h-1.2zM2917.1 2118.4h1.7v1.8h-1.7zM3061.2 2162.3h3.1v0.9h-3.1zM2992.3 2113.6h2.9v2.4h-2.9zM2906.3 2179.6h1.9v0.9h-1.9zM3016.5 2131.2h3.5v2.2h-3.5zM2989.4 2167.4h3.3v1.7h-3.3zM2962.2 2148.7h3.2v2.1h-3.2zM3016.3 2076.2h2.9v1.9h-2.9zM3035.2 2120.0h1.1v1.3h-1.1zM3011.6 2075.0h1.8v1.5h-1.8zM2930.7 2093.6h2.2v2.4h-2.2zM3034.4 2067.1h2.0v2.3h-2.0zM2905.0 2156.8h2.9v1.3h-2.9zM2907.4 2097.7h1.9v2.0h-1.9zM2918.7 2076.6h2.9v0.9h-2.9zM3012.1 2107.0h1.9v1.5h-1.9zM2966.3 2169.5h3.4v1.8h-3.4zM3028.2 2176.9h1.3v1.6h-1.3zM2909.8 2163.8h3.3v1.0h-3.3zM2981.1 2144.0h2.4v0.9h-2.4zM2978.5 2102.1h2.6v2.4h-2.6zM2919.1 2132.0h2.2v1.5h-2.2zM2939.7 2118.8h1.3v2.0h-1.3zM2958.0 2181.1h1.6v1.2h-1.6zM2938.8 2159.6h3.2v2.4h-3.2zM2997.9 2146.4h1.9v1.8h-1.9zM2925.3 2181.1h2.1v1.7h-2.1zM2923.5 2128.0h1.5v2.6h-1.5zM2918.4 2104.4h1.2v1.2h-1.2zM2995.3 2062.0h2.6v1.9h-2.6zM3042.9 2102.6h2.7v1.4h-2.7zM3028.8 2198.2h1.5v2.0h-1.5zM3048.5 2088.7h1.1v1.7h-1.1zM2996.9 2142.4h3.0v1.4h-3.0zM3050.1 2157.4h1.6v1.2h-1.6zM2986.5 2179.0h3.3v1.8h-3.3zM3000.2 2125.2h2.9v0.8h-2.9zM3032.5 2128.3h2.5v2.3h-2.5zM2924.4 2127.7h3.5v1.2h-3.5zM3015.9 2093.0h3.0v2.0h-3.0zM2930.1 2072.6h1.9v1.6h-1.9zM3048.6 2191.5h2.4v1.0h-2.4zM2987.6 2191.8h1.2v1.6h-1.2zM2953.0 2147.7h1.5v0.9h-1.5zM2938.5 2129.7h2.1v2.3h-2.1zM2943.3 2148.3h3.4v0.8h-3.4zM2993.4 2082.8h2.0v1.3h-2.0zM3041.5 2090.0h3.6v1.2h-3.6zM2958.0 2146.6h1.3v1.1h-1.3zM2965.1 2150.2h3.1v1.9h-3.1zM2956.5 2135.4h3.6v1.5h-3.6zM2925.4 2057.7h2.2v2.5h-2.2zM3074.4 2154.9h1.6v1.5h-1.6zM2943.3 2117.0h3.0v0.9h-3.0zM2998.8 2083.8h2.6v2.2h-2.6zM3042.8 2103.4h3.3v0.8h-3.3zM2958.2 2073.8h2.8v1.7h-2.8zM3013.4 2060.4h1.3v2.1h-1.3zM3021.7 2188.2h2.1v1.9h-2.1zM2982.2 2181.8h1.8v1.7h-1.8zM3046.8 2107.2h2.1v1.0h-2.1zM3078.1 2126.2h2.2v1.1h-2.2zM2978.8 2104.1h1.5v1.5h-1.5zM2968.7 2146.9h1.2v2.6h-1.2zM3056.8 2053.5h2.2v2.1h-2.2zM2912.4 2183.8h3.5v0.9h-3.5zM2963.1 2195.3h1.7v2.1h-1.7zM3049.3 2052.6h2.2v1.4h-2.2zM3053.4 2063.7h2.7v0.8h-2.7zM3014.3 2122.3h3.4v2.6h-3.4zM3053.1 2155.4h2.0v1.9h-2.0zM2981.4 2161.8h3.5v2.0h-3.5zM2931.5 2133.6h2.4v2.4h-2.4zM2962.8 2110.7h2.8v1.9h-2.8zM2993.9 2141.0h1.6v1.0h-1.6zM2983.5 2130.4h2.9v1.5h-2.9zM2965.4 2193.9h3.4v1.2h-3.4zM3058.9 2102.5h1.1v2.2h-1.1zM2999.8 2189.9h2.1v0.9h-2.1zM2975.5 2155.0h1.6v2.0h-1.6zM2946.1 2151.0h1.0v2.1h-1.0zM2941.8 2109.3h3.5v1.0h-3.5zM2918.6 2195.5h3.1v1.8h-3.1zM2999.6 2120.1h2.7v2.3h-2.7zM2929.6 2104.9h2.3v1.1h-2.3zM2924.5 2147.3h3.6v2.3h-3.6zM2962.1 2101.8h3.6v2.3h-3.6zM3012.3 2063.8h1.3v2.1h-1.3zM2971.2 2149.8h1.4v2.0h-1.4zM2997.4 2068.3h1.3v1.2h-1.3zM2975.8 2131.9h3.5v1.1h-3.5zM2939.9 2130.6h1.6v0.8h-1.6zM2996.1 2113.0h2.7v1.7h-2.7zM2918.2 2117.2h1.2v0.9h-1.2zM3059.5 2186.2h3.5v2.1h-3.5zM3015.4 2126.6h2.4v1.4h-2.4zM3062.1 2120.6h3.4v1.4h-3.4zM2949.9 2146.5h2.8v1.7h-2.8zM2944.6 2064.4h2.6v1.0h-2.6zM3057.3 2120.0h2.9v1.3h-2.9zM3068.3 2087.7h3.6v0.9h-3.6zM3037.6 2096.2h3.4v1.9h-3.4zM3037.1 2132.9h3.0v1.3h-3.0zM2973.1 2150.1h1.2v1.3h-1.2zM2940.5 2078.0h1.7v0.8h-1.7zM3005.2 2114.2h2.9v2.5h-2.9zM3012.5 2149.3h3.3v2.5h-3.3zM2984.7 2179.8h2.1v1.6h-2.1zM2950.8 2162.1h1.7v1.4h-1.7zM2985.0 2054.5h3.1v0.8h-3.1zM2929.1 2184.8h3.0v0.8h-3.0zM2944.6 2113.1h1.0v1.2h-1.0zM2967.1 2197.1h1.1v2.1h-1.1zM2943.1 2144.7h1.0v2.2h-1.0zM3071.3 2061.2h3.5v2.3h-3.5zM2960.6 2123.6h1.0v1.1h-1.0zM2915.3 2102.9h1.7v0.9h-1.7zM2916.3 2079.3h1.2v1.0h-1.2zM3055.8 2114.9h1.2v2.4h-1.2zM2936.0 2085.1h1.1v2.3h-1.1zM2985.6 2137.9h2.3v2.3h-2.3zM3067.3 2170.6h2.4v2.1h-2.4zM2944.0 2179.7h2.3v0.8h-2.3zM2964.4 2192.2h1.8v1.0h-1.8zM3082.4 2115.3h2.5v1.5h-2.5zM2951.8 2099.7h3.4v1.7h-3.4zM3033.2 2142.9h1.6v2.4h-1.6zM3070.1 2072.6h1.1v2.1h-1.1zM2932.1 2180.3h2.3v1.7h-2.3zM2954.6 2134.2h1.8v0.8h-1.8zM3001.3 2181.2h2.7v1.6h-2.7zM3057.8 2059.1h1.6v1.5h-1.6zM2909.0 2065.3h3.1v1.6h-3.1zM3022.8 2079.2h3.4v2.5h-3.4zM2965.9 2081.4h1.9v1.3h-1.9zM2974.0 2153.3h3.0v2.4h-3.0zM3015.7 2173.6h2.7v0.9h-2.7zM2936.1 2087.0h1.3v1.3h-1.3zM3025.5 2162.0h2.2v1.8h-2.2zM3020.5 2153.3h2.1v1.5h-2.1zM2998.9 2138.0h1.4v1.6h-1.4zM2995.3 2164.6h1.7v2.5h-1.7zM3035.1 2144.1h2.3v1.1h-2.3zM2966.3 2097.9h2.2v0.9h-2.2zM2908.8 2199.6h1.0v1.3h-1.0zM2977.6 2198.1h1.9v1.3h-1.9zM2992.3 2144.9h3.3v2.0h-3.3zM2918.7 2185.5h3.4v1.0h-3.4zM3052.6 2187.3h3.2v2.5h-3.2zM2960.3 2146.2h3.0v2.3h-3.0zM3013.6 2182.9h2.7v1.5h-2.7zM3075.3 2112.7h1.3v2.4h-1.3zM2971.8 2169.6h3.3v2.2h-3.3zM3029.1 2100.1h2.3v1.5h-2.3zM3050.5 2098.4h2.1v2.2h-2.1zM2925.4 2168.5h2.4v2.0h-2.4zM3027.5 2088.0h3.3v1.9h-3.3zM2969.2 2067.8h1.5v0.9h-1.5zM2957.4 2072.3h1.1v0.9h-1.1zM2923.4 2084.2h1.2v1.4h-1.2zM2924.2 2075.3h2.5v1.5h-2.5zM3028.1 2086.2h2.7v1.3h-2.7zM2982.1 2089.4h1.2v2.6h-1.2zM2951.5 2052.4h2.6v0.9h-2.6zM2923.4 2085.7h1.5v1.5h-1.5zM2965.3 2097.7h3.0v1.5h-3.0zM3067.0 2155.9h3.3v1.6h-3.3zM2965.7 2137.9h3.6v0.9h-3.6zM3027.7 2174.1h2.4v1.0h-2.4zM3084.7 2100.4h3.4v1.7h-3.4zM2926.2 2131.0h1.8v1.4h-1.8zM3065.4 2185.3h2.5v2.0h-2.5zM3024.6 2118.5h3.0v1.9h-3.0zM3083.7 2170.8h3.3v0.9h-3.3zM2989.1 2074.5h1.8v0.9h-1.8zM3061.3 2119.4h2.4v2.3h-2.4zM3043.5 2180.4h1.1v1.0h-1.1zM2990.4 2138.7h3.6v1.4h-3.6zM2929.9 2088.3h1.3v2.1h-1.3zM3003.2 2089.0h3.0v1.5h-3.0zM2940.4 2062.7h3.0v2.3h-3.0zM3032.9 2194.0h3.5v0.8h-3.5zM2929.1 2126.4h2.3v1.4h-2.3zM2943.9 2091.3h3.5v1.7h-3.5zM2980.8 2161.5h2.9v2.2h-2.9zM3046.1 2097.6h1.6v1.7h-1.6zM3038.0 2091.7h3.4v1.0h-3.4zM2946.9 2109.0h1.5v1.0h-1.5zM2961.2 2053.2h2.6v1.8h-2.6zM2930.8 2161.6h2.1v1.8h-2.1zM3064.2 2126.1h1.3v1.4h-1.3zM2932.6 2183.4h1.6v0.9h-1.6zM2986.2 2101.6h3.0v0.8h-3.0zM2945.2 2098.6h1.3v1.7h-1.3zM3066.0 2188.6h2.5v0.8h-2.5zM3019.8 2074.1h2.4v1.9h-2.4zM3075.4 2136.0h1.7v1.0h-1.7zM3040.4 2104.4h1.8v1.8h-1.8zM3025.9 2141.5h1.0v2.3h-1.0zM3024.1 2180.7h2.7v2.0h-2.7zM2953.7 2103.3h3.4v1.4h-3.4zM3069.0 2090.5h2.2v2.5h-2.2zM3020.2 2129.0h1.0v1.5h-1.0zM2928.6 2135.8h3.5v1.3h-3.5zM3072.3 2188.8h1.4v2.4h-1.4zM3033.0 2076.8h1.4v1.9h-1.4zM3061.8 2096.7h3.0v2.0h-3.0zM2927.9 2156.4h1.8v1.1h-1.8zM2987.4 2057.2h3.3v0.9h-3.3zM3082.2 2198.0h3.3v1.9h-3.3zM3082.7 2058.6h2.0v1.7h-2.0zM2934.2 2153.7h3.1v1.6h-3.1zM2915.0 2101.0h3.2v2.6h-3.2zM2974.2 2054.0h3.3v2.1h-3.3zM2912.4 2126.1h1.9v2.6h-1.9zM3007.8 2189.6h2.1v1.4h-2.1zM3000.3 2065.2h2.1v1.4h-2.1zM2936.8 2175.9h2.5v2.1h-2.5zM3013.9 2085.2h1.7v1.1h-1.7zM3018.2 2097.3h1.3v2.3h-1.3zM2928.4 2196.5h1.9v2.0h-1.9zM3082.3 2088.0h3.3v1.4h-3.3zM3001.4 2119.1h2.4v2.0h-2.4zM3043.1 2108.1h2.8v2.4h-2.8zM2996.8 2121.6h2.2v1.1h-2.2zM3014.4 2090.9h2.0v2.5h-2.0zM2957.0 2101.3h2.7v1.9h-2.7zM3057.9 2070.7h1.7v1.1h-1.7zM2930.6 2110.4h3.0v2.3h-3.0zM2940.6 2157.0h1.5v1.6h-1.5zM2927.9 2087.2h3.1v2.1h-3.1zM2994.0 2183.3h1.3v1.3h-1.3zM3026.5 2071.1h2.2v1.6h-2.2zM2936.7 2092.9h1.7v1.8h-1.7zM2966.0 2136.2h1.9v2.1h-1.9zM3063.0 2143.2h3.2v1.6h-3.2zM2920.2 2184.7h1.5v0.9h-1.5zM3039.4 2066.0h2.3v1.6h-2.3zM2914.3 2119.1h1.3v2.1h-1.3zM3056.6 2113.9h2.5v1.5h-2.5zM3012.6 2195.4h1.6v1.9h-1.6zM2907.4 2187.6h1.1v1.6h-1.1zM2971.0 2132.8h1.7v1.1h-1.7zM2999.9 2172.7h3.5v1.5h-3.5zM2949.0 2099.6h1.3v2.4h-1.3zM3049.6 2072.5h3.4v1.7h-3.4zM3011.8 2145.4h2.9v1.2h-2.9zM2968.9 2133.4h2.6v2.1h-2.6zM2945.6 2081.0h2.8v1.6h-2.8zM3080.5 2193.6h3.5v2.6h-3.5zM3064.4 2169.7h1.1v2.2h-1.1zM3056.2 2077.3h1.3v2.4h-1.3zM2936.2 2059.1h1.9v1.4h-1.9zM2959.5 2079.6h2.2v2.3h-2.2zM2911.3 2122.9h3.4v2.3h-3.4zM2910.0 2136.2h1.5v1.1h-1.5zM3060.9 2187.4h3.6v0.8h-3.6zM2907.9 2102.1h2.0v1.0h-2.0zM3069.5 2120.9h3.6v0.9h-3.6zM2989.2 2067.5h3.5v2.4h-3.5zM2925.8 2104.3h3.5v1.9h-3.5zM2976.9 2142.2h2.2v2.3h-2.2zM2921.3 2137.0h3.4v0.9h-3.4zM2960.8 2113.8h2.6v2.3h-2.6zM3002.5 2064.6h3.5v1.1h-3.5zM3050.3 2068.5h1.3v2.0h-1.3zM2976.9 2177.3h1.2v1.0h-1.2zM2919.8 2118.3h1.4v1.1h-1.4zM2986.7 2167.1h3.1v1.5h-3.1zM2967.5 2090.4h2.8v1.5h-2.8zM3031.8 2069.1h1.6v1.8h-1.6zM2906.0 2184.8h3.2v1.6h-3.2zM2923.0 2107.9h1.9v1.4h-1.9zM2983.6 2073.1h1.2v0.9h-1.2zM2930.6 2081.0h2.1v1.1h-2.1zM2931.3 2138.0h2.5v1.3h-2.5zM3032.0 2130.8h1.5v2.4h-1.5zM3007.5 2072.8h2.3v0.9h-2.3zM2960.4 2183.3h2.0v1.7h-2.0zM2910.8 2117.3h3.3v2.4h-3.3zM2987.8 2197.8h3.5v1.0h-3.5zM3052.8 2088.6h2.6v1.7h-2.6zM2944.9 2080.9h3.6v2.4h-3.6zM2979.2 2173.0h2.8v1.5h-2.8zM3051.9 2176.6h1.9v2.4h-1.9zM2969.3 2084.1h3.3v2.2h-3.3zM2944.7 2130.0h1.4v2.2h-1.4zM2924.4 2199.3h3.4v1.5h-3.4zM3069.0 2119.0h2.6v2.4h-2.6zM2909.0 2053.0h1.8v1.8h-1.8zM3037.6 2081.7h1.2v0.8h-1.2zM2905.8 2082.5h3.5v1.6h-3.5zM2952.7 2079.1h2.1v1.2h-2.1zM2943.2 2119.2h2.1v2.6h-2.1zM2981.0 2058.4h1.2v2.1h-1.2zM3000.0 2139.8h3.5v1.3h-3.5zM2937.2 2112.9h3.5v2.4h-3.5zM3006.8 2162.1h1.8v1.6h-1.8zM2943.0 2140.7h3.0v1.8h-3.0zM3059.4 2087.4h3.1v2.1h-3.1zM3060.8 2133.4h1.8v1.5h-1.8zM3034.4 2095.1h3.5v2.1h-3.5zM3084.4 2114.1h2.3v2.2h-2.3zM3079.7 2066.9h3.3v2.5h-3.3zM2971.8 2105.7h1.3v2.0h-1.3zM2982.7 2107.0h1.5v2.3h-1.5zM2911.9 2189.0h1.4v1.6h-1.4zM2952.8 2060.9h1.2v1.0h-1.2zM2908.3 2088.2h1.8v1.8h-1.8zM3068.4 2127.6h3.2v1.5h-3.2zM3056.1 2087.2h2.0v1.2h-2.0zM2972.9 2124.8h3.6v2.2h-3.6zM2978.0 2094.0h2.9v1.9h-2.9zM3079.8 2188.4h1.2v2.4h-1.2zM2921.0 2098.9h1.8v1.2h-1.8zM2974.3 2083.4h2.2v1.3h-2.2zM2999.8 2197.2h1.1v1.0h-1.1zM2933.6 2083.5h3.5v2.3h-3.5zM2990.3 2199.7h1.1v0.9h-1.1zM2937.1 2170.8h3.1v1.4h-3.1zM3066.3 2111.1h2.5v2.2h-2.5zM3041.6 2135.3h1.9v1.1h-1.9zM2979.9 2194.1h3.6v2.4h-3.6zM3035.4 2054.4h2.3v2.6h-2.3zM2996.8 2147.6h2.6v1.8h-2.6zM3022.6 2125.1h2.1v2.5h-2.1zM2973.6 2144.0h3.5v1.3h-3.5zM2928.7 2053.6h1.3v1.2h-1.3zM2992.7 2055.6h3.3v1.8h-3.3zM3020.6 2194.4h1.8v1.6h-1.8zM3078.1 2186.1h3.1v1.3h-3.1zM3066.9 2054.9h1.3v1.8h-1.3zM2912.7 2069.2h3.5v1.4h-3.5zM2929.2 2180.0h1.5v2.3h-1.5zM2973.0 2091.0h3.1v1.2h-3.1zM3078.3 2063.0h1.2v1.1h-1.2zM3075.9 2091.6h1.6v1.5h-1.6zM2909.8 2140.5h2.1v2.3h-2.1zM3057.3 2127.8h2.6v2.5h-2.6zM2970.1 2190.9h2.4v0.9h-2.4zM2936.2 2164.8h3.6v0.8h-3.6zM2930.8 2166.9h3.2v1.1h-3.2zM2974.0 2140.2h2.5v1.5h-2.5zM3009.3 2191.1h3.3v1.3h-3.3zM3081.7 2094.0h1.8v1.6h-1.8zM3057.2 2059.2h3.4v2.2h-3.4zM2992.8 2116.8h3.0v2.2h-3.0zM3013.4 2059.1h2.2v1.4h-2.2zM2988.5 2184.3h1.5v2.5h-1.5zM2975.8 2158.2h2.8v2.2h-2.8zM3040.7 2087.9h2.7v1.5h-2.7zM3078.3 2070.3h1.2v1.0h-1.2zM2910.8 2068.0h2.1v1.9h-2.1zM2986.0 2061.2h1.3v0.9h-1.3zM3015.1 2094.2h2.4v1.4h-2.4zM3060.9 2120.8h1.6v2.2h-1.6zM2992.7 2142.5h3.4v0.9h-3.4zM2966.9 2103.5h1.8v0.9h-1.8zM2970.2 2162.2h3.6v2.3h-3.6zM3061.7 2080.7h1.2v1.9h-1.2zM3080.1 2057.2h2.2v1.5h-2.2zM3046.4 2169.9h3.0v2.2h-3.0zM2908.2 2156.7h3.2v1.4h-3.2zM2911.5 2175.1h3.3v0.8h-3.3zM3005.8 2096.5h2.8v1.7h-2.8zM3058.5 2174.0h1.5v1.9h-1.5zM2932.1 2068.7h2.8v1.5h-2.8zM3066.1 2188.1h3.1v1.7h-3.1zM2929.6 2100.6h1.0v1.7h-1.0zM3048.2 2057.3h3.5v0.8h-3.5zM3080.4 2098.1h1.7v2.5h-1.7zM2990.7 2121.5h3.4v2.6h-3.4zM2909.9 2150.0h1.2v1.8h-1.2zM2977.8 2165.1h2.9v2.0h-2.9zM3054.3 2118.3h1.8v0.9h-1.8zM2979.9 2161.3h1.1v1.3h-1.1zM3083.8 2105.3h3.5v2.1h-3.5zM2940.7 2090.1h3.1v2.1h-3.1zM2956.3 2127.8h2.8v2.0h-2.8zM3053.9 2112.5h3.4v1.9h-3.4zM3008.4 2195.1h2.5v1.7h-2.5zM2913.9 2060.4h3.3v1.7h-3.3zM2974.3 2076.3h1.4v1.5h-1.4zM2990.8 2148.6h1.4v1.2h-1.4zM2972.5 2062.4h2.5v2.3h-2.5zM3067.2 2145.1h1.6v2.4h-1.6zM3010.8 2172.8h1.5v0.9h-1.5zM2928.2 2056.3h2.4v1.7h-2.4zM3061.9 2146.6h2.3v0.8h-2.3zM3067.5 2120.0h1.1v1.9h-1.1zM3068.0 2060.8h2.7v1.8h-2.7zM2905.0 2089.7h1.3v1.6h-1.3zM2990.3 2096.9h2.8v2.3h-2.8zM2908.5 2109.4h1.6v1.7h-1.6zM2971.7 2158.1h2.0v1.1h-2.0zM3043.4 2092.8h2.0v2.2h-2.0zM2972.3 2073.4h2.1v1.0h-2.1zM3003.7 2054.2h1.5v2.3h-1.5zM3010.0 2118.5h3.3v1.0h-3.3zM2952.0 2091.3h3.0v1.5h-3.0zM2911.1 2100.6h1.1v1.0h-1.1zM2977.7 2186.0h1.9v1.9h-1.9zM2992.4 2125.7h3.2v1.1h-3.2zM2930.0 2085.4h1.9v1.3h-1.9zM2945.2 2081.4h2.6v1.4h-2.6zM3018.4 2078.6h1.9v1.2h-1.9zM3054.0 2092.3h1.8v1.0h-1.8zM3006.6 2092.4h2.8v1.5h-2.8zM3013.1 2129.8h3.4v1.2h-3.4zM3058.5 2079.8h2.4v2.0h-2.4zM2908.8 2097.5h2.1v1.1h-2.1zM3040.2 2068.6h2.1v1.1h-2.1zM3032.5 2154.8h3.1v1.7h-3.1zM3014.0 2185.9h2.1v2.5h-2.1zM2957.3 2113.3h3.3v1.0h-3.3zM2985.1 2158.6h2.5v0.8h-2.5zM2972.8 2174.3h2.1v1.4h-2.1zM2949.9 2162.8h1.1v2.2h-1.1zM2956.0 2123.4h3.2v2.2h-3.2zM3043.5 2077.6h1.4v2.4h-1.4zM3006.2 2094.3h2.0v1.5h-2.0zM3056.3 2164.8h2.1v2.1h-2.1zM3049.5 2092.8h1.5v1.7h-1.5zM2915.3 2159.6h1.9v1.5h-1.9zM3064.4 2085.9h1.3v2.4h-1.3zM2907.0 2187.2h2.5v0.9h-2.5zM3045.1 2091.5h1.9v2.4h-1.9zM2920.6 2102.7h3.4v1.7h-3.4zM3008.7 2058.1h3.6v1.9h-3.6zM3060.3 2068.5h1.4v1.3h-1.4zM3045.4 2060.2h3.4v2.4h-3.4zM2970.8 2110.2h2.6v1.8h-2.6zM2936.3 2115.4h1.3v2.6h-1.3zM2942.5 2179.1h2.3v1.7h-2.3zM2972.7 2180.5h2.1v1.1h-2.1zM2975.7 2064.4h1.8v1.3h-1.8zM3077.2 2120.2h3.0v0.8h-3.0zM2962.3 2169.7h2.6v2.5h-2.6zM2976.1 2181.2h1.4v1.8h-1.4zM2997.6 2118.6h3.4v2.5h-3.4zM3012.3 2191.1h1.8v1.4h-1.8zM3081.0 2098.7h3.6v0.9h-3.6zM2957.5 2145.3h3.3v0.8h-3.3zM2941.0 2055.5h1.5v1.7h-1.5zM2947.5 2069.2h2.8v1.1h-2.8zM3079.7 2179.2h3.3v2.5h-3.3zM3069.6 2181.7h1.7v0.8h-1.7zM2921.4 2052.5h1.9v1.6h-1.9zM3033.1 2111.0h1.2v1.5h-1.2zM3026.9 2141.1h1.1v1.6h-1.1z" fill="#b4eeb4"/>
<path d="M3023.5 2086.7h6.1v6.2h-6.1zM3039.7 2100.6h4.4v3.9h-4.4zM3030.0 2158.6h4.9v4.3h-4.9zM2984.7 2126.2h6.1v3.2h-6.1zM2980.7 2133.1h9.5v3.0h-9.5zM3034.5 2116.4h5.2v6.2h-5.2zM2930.8 2091.2h6.7v4.3h-6.7zM3027.6 2068.8h7.1v3.4h-7.1zM2933.5 2091.7h4.6v3.5h-4.6zM2978.6 2189.6h9.9v4.0h-9.9zM2961.3 2114.2h5.1v6.0h-5.1zM2992.2 2142.4h6.6v3.9h-6.6zM2948.0 2085.0h6.3v4.9h-6.3zM2934.4 2117.6h5.4v5.8h-5.4zM3052.0 2119.0h4.4v5.3h-4.4zM3006.9 2116.9h7.4v6.3h-7.4zM2960.9 2110.4h8.5v3.3h-8.5zM3019.3 2086.6h5.7v6.2h-5.7zM3030.3 2116.8h8.4v3.7h-8.4zM3008.8 2135.2h9.6v6.4h-9.6zM2997.9 2095.1h5.0v6.8h-5.0zM2943.5 2099.1h7.4v3.2h-7.4zM3051.4 2151.4h9.1v4.8h-9.1zM3016.6 2066.1h9.0v6.4h-9.0zM2994.2 2147.3h5.3v4.2h-5.3zM2981.8 2160.4h9.8v3.7h-9.8zM3052.9 2148.9h4.8v6.2h-4.8zM2968.1 2069.2h6.4v3.4h-6.4zM3046.7 2089.0h5.5v3.3h-5.5zM2992.8 2128.5h5.4v5.8h-5.4zM3050.6 2084.8h5.6v3.8h-5.6zM2984.4 2119.0h6.1v5.2h-6.1zM3048.0 2136.4h4.7v5.0h-4.7zM2999.8 2127.3h5.5v4.5h-5.5zM2972.4 2138.3h9.9v4.8h-9.9zM2975.7 2073.3h4.8v4.0h-4.8zM3002.2 2144.4h6.3v6.3h-6.3zM3058.0 2109.7h9.1v5.1h-9.1zM2960.3 2082.3h6.9v5.7h-6.9zM2979.6 2148.0h8.3v3.2h-8.3zM2978.1 2144.8h8.8v3.5h-8.8zM3014.8 2105.8h9.7v5.2h-9.7zM3056.5 2164.8h7.2v4.3h-7.2zM2964.6 2098.3h4.6v7.0h-4.6zM3037.7 2147.1h4.8v6.8h-4.8zM2997.3 2142.6h5.3v6.7h-5.3zM2934.8 2116.3h6.6v6.8h-6.6zM3003.3 2133.8h6.6v5.7h-6.6zM2933.0 2173.7h9.5v4.9h-9.5zM2988.6 2130.0h7.4v6.2h-7.4zM3030.6 2108.6h5.3v6.7h-5.3zM2950.9 2159.0h7.2v4.0h-7.2zM2962.3 2082.7h7.5v5.2h-7.5zM2942.0 2133.5h4.7v6.8h-4.7zM3041.3 2094.6h7.9v4.7h-7.9zM2947.7 2143.2h9.7v5.8h-9.7zM3052.7 2141.4h8.7v3.5h-8.7zM2939.3 2082.5h8.6v6.6h-8.6zM2953.2 2121.2h9.2v5.7h-9.2zM2982.6 2182.8h8.7v3.2h-8.7z" fill="#2ea52e"/>
<path d="M3056.8 2129.0h3.1v1.6h-3.1zM3109.0 2167.1h1.4v2.1h-1.4zM2999.3 2116.6h4.3v1.8h-4.3zM3112.1 2145.0h3.7v1.4h-3.7zM3048.6 2096.2h3.6v1.3h-3.6zM3083.6 2096.5h2.5v1.9h-2.5zM3101.0 2085.6h3.3v1.6h-3.3zM3128.5 2181.9h2.9v1.2h-2.9zM3116.2 2112.9h2.1v1.3h-2.1zM3134.0 2072.4h3.4v1.9h-3.4zM3139.6 2069.7h1.6v1.7h-1.6zM3110.2 2076.3h2.6v2.0h-2.6zM3009.7 2109.4h1.9v1.9h-1.9zM3082.2 2190.3h3.0v0.8h-3.0zM3150.9 2181.3h2.2v0.8h-2.2zM2940.8 2094.8h4.0v2.1h-4.0zM3077.4 2138.7h3.0v1.5h-3.0zM3116.4 2122.3h3.7v2.0h-3.7zM3052.7 2073.3h3.3v2.0h-3.3zM3098.8 2110.7h4.0v1.7h-4.0zM3112.0 2143.4h1.1v2.0h-1.1zM3033.6 2131.1h4.3v1.4h-4.3zM2931.4 2057.5h3.5v1.6h-3.5zM3080.4 2172.0h1.0v1.2h-1.0zM3137.0 2098.8h3.2v0.9h-3.2zM3058.4 2148.6h1.1v0.9h-1.1zM3149.1 2076.2h2.5v0.9h-2.5zM3056.6 2090.0h2.2v1.0h-2.2zM3094.9 2187.2h2.1v1.0h-2.1zM3154.9 2194.9h3.6v1.7h-3.6zM3149.1 2153.0h1.2v1.4h-1.2zM2912.0 2190.2h4.4v1.1h-4.4zM3160.7 2148.5h2.5v2.1h-2.5zM3129.0 2162.5h1.9v0.9h-1.9zM3126.8 2129.9h3.0v1.3h-3.0zM3068.9 2090.3h3.7v1.7h-3.7zM3113.6 2113.8h3.2v1.2h-3.2zM3138.3 2085.2h3.7v1.8h-3.7zM3119.0 2141.2h2.6v1.5h-2.6zM3045.6 2118.1h2.6v1.6h-2.6zM3083.0 2091.6h4.5v1.9h-4.5zM2979.9 2145.5h3.5v1.7h-3.5zM3127.4 2088.4h1.8v1.2h-1.8zM2914.9 2168.6h1.8v1.4h-1.8zM3067.4 2187.0h2.9v1.0h-2.9zM3061.4 2177.2h2.0v0.9h-2.0zM2957.5 2189.4h3.3v1.1h-3.3zM3144.3 2088.4h2.4v2.0h-2.4zM2999.2 2114.8h1.9v1.9h-1.9zM3061.4 2182.7h1.9v2.1h-1.9zM3044.3 2153.4h1.4v1.8h-1.4zM3143.8 2100.3h4.3v1.1h-4.3zM2991.3 2107.3h3.1v1.1h-3.1zM3132.5 2055.1h2.9v1.9h-2.9zM3113.3 2139.5h1.2v1.2h-1.2zM3138.9 2063.8h4.4v1.2h-4.4zM3038.3 2079.9h3.2v1.0h-3.2zM3106.0 2159.6h4.1v1.2h-4.1zM2934.1 2172.1h1.8v1.7h-1.8zM2982.6 2078.3h3.4v1.0h-3.4zM3144.9 2097.0h4.3v1.1h-4.3zM3010.7 2163.8h1.6v1.6h-1.6zM3072.3 2070.5h4.1v1.3h-4.1zM3087.6 2123.6h3.1v1.2h-3.1zM2965.0 2176.8h3.3v0.9h-3.3zM2919.6 2125.0h3.2v2.1h-3.2zM3155.0 2176.4h1.0v1.8h-1.0zM3156.6 2079.6h4.0v1.8h-4.0zM3124.9 2186.1h2.2v1.0h-2.2zM3117.5 2179.7h4.3v1.3h-4.3zM3077.8 2073.6h3.2v1.6h-3.2zM2988.0 2099.4h1.3v2.2h-1.3zM2992.1 2091.7h2.4v1.0h-2.4zM2916.4 2191.9h2.1v1.2h-2.1zM2923.6 2105.4h4.3v1.1h-4.3zM3012.6 2117.9h3.8v0.9h-3.8zM3118.8 2190.5h3.6v1.1h-3.6zM3145.1 2141.5h3.1v1.1h-3.1zM3070.7 2093.3h4.2v2.1h-4.2zM3073.9 2159.5h4.1v1.7h-4.1zM3118.7 2094.5h4.4v2.0h-4.4zM3132.8 2178.0h3.8v1.9h-3.8zM3110.6 2121.9h4.4v1.3h-4.4zM3101.2 2166.5h1.6v1.0h-1.6zM3136.6 2149.8h2.0v1.9h-2.0zM3105.2 2132.8h1.2v1.3h-1.2zM3116.2 2117.4h1.6v1.5h-1.6zM2906.1 2119.3h3.7v1.8h-3.7zM3051.7 2149.1h1.7v1.7h-1.7zM3155.2 2112.3h3.3v1.8h-3.3zM3083.9 2129.4h3.1v1.0h-3.1zM3106.9 2091.2h3.5v2.2h-3.5zM2939.0 2144.5h3.3v1.1h-3.3zM3120.5 2086.4h2.6v2.1h-2.6zM2914.5 2056.7h2.8v1.1h-2.8zM3091.4 2184.4h1.9v1.8h-1.9zM3008.1 2138.1h1.6v1.3h-1.6zM3145.3 2120.1h2.3v1.4h-2.3zM2981.6 2132.7h2.7v1.9h-2.7zM3103.5 2112.4h3.1v1.9h-3.1zM2992.5 2165.8h2.5v0.9h-2.5zM2974.4 2147.8h3.3v1.8h-3.3zM3060.2 2111.4h3.7v2.0h-3.7zM3151.0 2179.8h3.1v1.3h-3.1zM3080.3 2154.6h4.4v1.4h-4.4zM3068.5 2161.2h1.3v2.1h-1.3zM3078.0 2161.8h1.2v1.0h-1.2zM3142.0 2175.4h3.2v1.5h-3.2zM3085.5 2100.2h3.9v2.0h-3.9zM3130.6 2193.0h1.4v2.0h-1.4zM2931.0 2103.6h3.3v1.0h-3.3zM2929.9 2136.8h2.9v1.2h-2.9zM3057.2 2128.1h3.0v1.8h-3.0zM3038.1 2125.1h1.6v1.4h-1.6zM3108.6 2168.5h1.0v1.6h-1.0zM3084.9 2055.2h1.9v2.0h-1.9zM3151.0 2129.9h3.2v1.7h-3.2zM3086.9 2085.2h4.0v1.4h-4.0zM3124.8 2159.0h2.4v2.0h-2.4zM3098.9 2052.1h3.1v0.9h-3.1zM3148.6 2198.6h4.2v1.7h-4.2zM3064.2 2172.0h3.5v1.1h-3.5zM2985.9 2094.2h3.9v1.5h-3.9zM2938.6 2155.7h4.1v1.8h-4.1zM2969.7 2146.8h4.2v0.9h-4.2zM3011.2 2141.2h3.6v1.1h-3.6zM3056.4 2056.4h2.2v1.8h-2.2zM2954.3 2109.3h3.1v0.8h-3.1zM3005.4 2187.6h1.2v1.3h-1.2zM3133.9 2164.6h1.8v2.0h-1.8zM3143.0 2193.2h1.2v0.9h-1.2zM3135.8 2112.4h2.2v1.8h-2.2zM3058.1 2101.0h2.4v1.4h-2.4zM3152.5 2072.7h2.6v2.0h-2.6zM3076.8 2169.3h2.6v1.2h-2.6zM2967.7 2194.3h4.4v1.0h-4.4zM3099.5 2137.0h2.9v1.2h-2.9zM3024.1 2146.0h1.8v1.3h-1.8zM3117.5 2167.6h1.9v1.6h-1.9zM2926.9 2148.8h1.3v1.4h-1.3zM3130.3 2140.7h4.1v0.9h-4.1zM3102.2 2096.0h3.7v1.4h-3.7zM3134.4 2118.4h1.6v1.3h-1.6zM3066.1 2108.2h3.2v0.8h-3.2zM2984.3 2159.1h3.7v1.0h-3.7zM3162.0 2102.1h4.4v0.8h-4.4zM2934.6 2186.5h3.4v2.1h-3.4zM3092.1 2053.1h4.4v1.8h-4.4zM3072.9 2085.3h4.1v1.7h-4.1zM3078.8 2085.0h1.2v1.0h-1.2zM3067.3 2055.7h4.2v2.0h-4.2zM3064.9 2113.7h4.3v1.6h-4.3zM3132.3 2089.4h2.1v1.4h-2.1zM3062.1 2097.0h4.2v1.1h-4.2zM3039.0 2154.1h3.8v1.4h-3.8zM3106.2 2146.3h1.9v0.8h-1.9zM3134.9 2114.5h2.9v1.2h-2.9zM3070.7 2122.8h2.9v1.7h-2.9zM2957.3 2077.0h2.4v1.8h-2.4zM3104.7 2057.9h3.0v1.4h-3.0zM3066.8 2086.8h3.1v1.9h-3.1zM3034.2 2184.1h2.3v1.8h-2.3zM3152.2 2169.6h1.5v1.3h-1.5zM3057.3 2160.0h3.6v2.0h-3.6zM3120.0 2180.9h3.4v1.7h-3.4zM2951.1 2093.5h2.2v1.2h-2.2zM2915.4 2141.1h3.6v1.7h-3.6zM3159.5 2181.4h1.8v1.9h-1.8zM3092.9 2186.0h2.0v1.0h-2.0zM2947.1 2118.4h2.3v1.7h-2.3zM3010.7 2097.0h1.7v1.1h-1.7zM3057.3 2060.6h3.3v1.3h-3.3zM3092.6 2095.8h2.7v1.7h-2.7zM3086.2 2066.1h2.6v1.3h-2.6zM3063.3 2112.4h4.0v2.1h-4.0zM3128.2 2088.2h2.3v1.2h-2.3zM3113.5 2118.7h3.0v1.7h-3.0zM3112.9 2066.7h2.4v0.8h-2.4zM3083.0 2065.3h3.2v0.8h-3.2zM2953.9 2064.9h3.4v0.9h-3.4zM3044.0 2146.4h2.3v1.6h-2.3zM3057.2 2068.9h2.2v1.5h-2.2zM3155.6 2186.0h4.4v0.9h-4.4zM3068.8 2171.7h1.1v2.1h-1.1zM3053.6 2099.2h1.5v1.1h-1.5zM3094.4 2190.0h2.1v1.2h-2.1zM3018.6 2180.9h4.3v2.1h-4.3zM2975.5 2179.5h4.2v0.9h-4.2zM3146.0 2149.1h1.7v1.8h-1.7zM3133.3 2139.1h4.3v1.8h-4.3zM3055.7 2176.1h3.9v1.6h-3.9zM3082.3 2088.6h1.7v1.0h-1.7zM3000.8 2167.4h3.8v1.2h-3.8zM3135.3 2173.6h2.1v2.0h-2.1zM3147.4 2137.7h3.7v1.0h-3.7zM3149.3 2058.1h3.6v1.8h-3.6zM2972.9 2163.5h1.7v1.9h-1.7zM3053.1 2121.3h2.3v1.7h-2.3zM3056.2 2071.7h4.0v1.7h-4.0zM3052.7 2177.6h3.4v1.4h-3.4zM2943.0 2190.1h3.5v0.9h-3.5zM3103.2 2172.0h2.1v1.3h-2.1zM2918.2 2125.9h3.9v1.5h-3.9zM3144.2 2139.0h1.6v1.4h-1.6zM3117.3 2142.9h1.6v1.1h-1.6zM3079.8 2130.2h1.8v1.1h-1.8zM2937.1 2180.1h3.5v0.9h-3.5zM2924.6 2157.3h3.9v1.9h-3.9zM3014.6 2144.0h1.2v1.7h-1.2zM3040.9 2125.9h2.4v1.0h-2.4zM3094.5 2191.5h4.0v2.0h-4.0zM3062.1 2112.3h4.2v1.1h-4.2zM2999.6 2136.6h3.9v1.4h-3.9zM2924.1 2098.5h1.7v1.6h-1.7zM2931.5 2116.7h1.3v1.6h-1.3zM2965.3 2116.8h1.0v1.4h-1.0zM3131.3 2182.6h2.8v1.0h-2.8zM3018.0 2157.7h3.7v1.1h-3.7zM2980.3 2162.2h2.1v1.2h-2.1zM3034.5 2179.3h3.5v1.7h-3.5zM3101.9 2155.7h1.8v2.2h-1.8zM2910.7 2130.0h1.4v1.7h-1.4zM3095.8 2138.4h2.5v1.0h-2.5zM3116.8 2141.1h3.7v1.4h-3.7zM3146.7 2153.6h4.0v1.0h-4.0zM3089.3 2133.5h4.4v1.5h-4.4zM3039.8 2102.7h1.7v0.9h-1.7zM3050.0 2106.6h2.4v1.2h-2.4zM3014.3 2127.2h4.5v1.3h-4.5zM3047.2 2077.7h2.7v1.1h-2.7zM3126.2 2115.4h4.2v2.0h-4.2zM3043.2 2065.9h4.5v1.7h-4.5zM3078.0 2118.7h1.2v1.0h-1.2zM3121.0 2117.2h3.4v2.2h-3.4zM3090.3 2110.1h2.2v1.2h-2.2zM2987.9 2102.3h1.5v2.0h-1.5zM2963.9 2077.6h4.0v1.2h-4.0zM3037.7 2110.1h2.3v0.8h-2.3zM3053.2 2144.2h4.1v1.7h-4.1zM3090.0 2133.4h2.5v1.9h-2.5zM3098.5 2111.8h1.6v1.1h-1.6zM3046.9 2193.8h2.2v1.8h-2.2zM2983.3 2085.6h1.7v1.5h-1.7zM3097.1 2092.3h1.0v1.4h-1.0zM2928.8 2160.1h3.3v0.9h-3.3zM2985.3 2097.4h2.2v2.0h-2.2zM3051.5 2060.8h1.6v1.9h-1.6zM3116.6 2178.7h3.9v1.8h-3.9zM3127.9 2182.9h2.3v2.1h-2.3zM3057.0 2175.7h1.4v0.8h-1.4zM3147.9 2154.4h1.4v1.9h-1.4zM3138.5 2149.8h4.2v1.2h-4.2zM2948.1 2158.2h2.3v1.4h-2.3zM3000.7 2151.1h1.1v1.7h-1.1zM3157.5 2088.3h1.3v1.1h-1.3zM3103.6 2171.9h1.0v1.1h-1.0zM3079.9 2093.3h3.3v1.9h-3.3zM3161.1 2081.6h1.8v1.6h-1.8zM2912.7 2142.1h2.3v1.7h-2.3zM2918.3 2121.0h3.0v1.3h-3.0zM2975.7 2150.4h2.4v2.1h-2.4zM3082.5 2140.5h3.6v1.2h-3.6zM3138.9 2144.1h4.0v1.8h-4.0zM2970.9 2154.0h4.3v2.0h-4.3zM3114.5 2142.6h1.7v0.8h-1.7zM3120.0 2080.8h2.3v1.7h-2.3zM3104.6 2191.8h3.5v0.9h-3.5zM2977.6 2063.6h4.3v1.5h-4.3zM3004.8 2140.4h3.7v1.5h-3.7zM3115.9 2194.9h1.3v0.9h-1.3zM3108.0 2171.1h3.6v1.3h-3.6zM3082.6 2156.8h3.5v1.6h-3.5zM3143.6 2165.8h2.4v1.6h-2.4zM3149.9 2133.6h4.4v0.9h-4.4zM2968.3 2171.9h2.8v1.7h-2.8zM3126.9 2063.9h3.5v2.2h-3.5zM3158.6 2163.9h4.1v1.1h-4.1zM3124.1 2133.7h1.5v1.1h-1.5zM3143.6 2198.8h4.2v2.0h-4.2zM2905.5 2129.1h1.4v1.1h-1.4zM2940.7 2137.4h4.1v0.8h-4.1zM3161.9 2163.0h2.8v1.2h-2.8zM3040.2 2058.7h2.5v1.7h-2.5zM3104.6 2191.8h4.2v1.9h-4.2zM3107.9 2124.7h1.6v1.9h-1.6zM3104.5 2060.9h3.8v2.1h-3.8zM3068.2 2110.0h3.0v1.3h-3.0zM2916.1 2200.0h4.3v1.5h-4.3zM3136.5 2172.3h3.1v1.5h-3.1zM3133.7 2190.7h3.2v1.1h-3.2zM2973.3 2111.7h2.8v1.0h-2.8zM3102.9 2185.3h1.6v1.8h-1.6zM3127.6 2144.3h1.0v0.9h-1.0zM3154.8 2054.3h2.9v1.1h-2.9zM3119.1 2086.0h2.0v0.8h-2.0zM3127.5 2052.5h1.1v1.0h-1.1zM3102.7 2179.7h2.8v2.2h-2.8zM3160.6 2130.4h2.5v1.8h-2.5zM2922.3 2139.6h4.3v1.4h-4.3zM2920.0 2086.9h1.0v1.3h-1.0zM2926.4 2147.4h1.1v1.7h-1.1zM2971.0 2137.9h3.3v1.8h-3.3zM3147.6 2075.0h2.8v2.0h-2.8zM3115.1 2091.4h1.5v0.9h-1.5zM2915.7 2078.6h2.0v2.0h-2.0zM3043.9 2095.7h4.1v1.9h-4.1zM3087.7 2140.0h2.4v0.8h-2.4zM3113.9 2110.2h2.5v1.1h-2.5zM2915.5 2095.7h4.1v1.7h-4.1zM3081.8 2160.8h2.5v1.9h-2.5zM3073.3 2084.4h3.5v1.4h-3.5zM2964.0 2178.8h4.5v1.6h-4.5zM3052.1 2157.6h4.0v1.9h-4.0zM2992.4 2150.7h3.2v1.2h-3.2zM3022.8 2112.5h1.6v1.0h-1.6zM3155.8 2081.1h4.0v1.1h-4.0zM3142.1 2151.9h2.9v2.0h-2.9zM3073.4 2151.8h2.0v1.6h-2.0zM2972.2 2161.2h2.4v1.3h-2.4zM3096.3 2112.5h2.2v1.3h-2.2zM3055.9 2104.7h1.7v1.1h-1.7zM3149.6 2160.1h4.5v0.9h-4.5zM2909.4 2127.7h1.2v1.1h-1.2zM3147.4 2131.0h1.9v1.5h-1.9zM3040.2 2102.1h1.3v1.3h-1.3zM3077.4 2109.9h2.2v1.8h-2.2zM2913.3 2095.2h2.8v1.4h-2.8zM2908.6 2101.2h2.8v0.9h-2.8zM3102.1 2114.9h4.2v1.2h-4.2zM3128.0 2142.7h2.1v2.0h-2.1zM3034.9 2130.8h2.0v1.2h-2.0zM3146.5 2105.3h1.9v1.5h-1.9zM3039.6 2057.3h4.0v0.9h-4.0zM2912.8 2119.1h3.7v2.2h-3.7zM3094.2 2156.2h1.6v0.9h-1.6zM3110.7 2152.6h3.2v2.1h-3.2zM2950.6 2134.3h1.6v2.1h-1.6zM3026.8 2090.1h1.4v1.1h-1.4zM3143.1 2158.6h2.9v1.8h-2.9zM2954.7 2119.8h1.3v1.5h-1.3zM2943.8 2095.7h4.5v2.2h-4.5zM3112.7 2058.0h1.9v1.8h-1.9zM3123.8 2137.7h1.1v1.7h-1.1zM3068.0 2169.7h3.4v1.9h-3.4zM2963.5 2138.5h1.8v1.0h-1.8zM3136.6 2122.1h2.9v1.1h-2.9zM3060.0 2090.1h1.9v1.6h-1.9zM3120.9 2113.9h2.1v1.6h-2.1zM3076.9 2146.8h2.6v1.0h-2.6zM3051.2 2106.0h3.1v1.1h-3.1zM2931.4 2153.1h2.9v1.6h-2.9zM3149.2 2093.1h4.1v1.9h-4.1zM2912.3 2165.5h1.8v2.0h-1.8zM3063.1 2125.9h2.8v2.1h-2.8zM3148.6 2145.5h3.1v1.4h-3.1zM3089.5 2087.6h1.7v1.4h-1.7zM3051.1 2152.3h1.2v1.2h-1.2zM3055.2 2058.2h4.4v1.6h-4.4zM3096.4 2125.9h2.2v0.8h-2.2zM3137.1 2108.9h4.5v1.1h-4.5zM3134.5 2105.2h3.5v1.8h-3.5zM3019.7 2113.3h1.9v1.1h-1.9zM3092.1 2112.9h1.5v1.2h-1.5zM3080.1 2158.1h3.4v1.8h-3.4zM3073.4 2129.8h1.1v1.6h-1.1zM3068.9 2128.6h4.0v2.1h-4.0zM3143.4 2132.2h3.9v1.7h-3.9zM3138.8 2058.4h1.7v1.4h-1.7zM3130.5 2081.2h2.3v1.2h-2.3zM3033.4 2173.4h4.5v1.7h-4.5zM3070.2 2069.4h3.4v0.8h-3.4zM3084.8 2160.9h1.9v1.1h-1.9zM3101.8 2057.9h2.2v2.1h-2.2zM3097.8 2093.7h2.3v1.8h-2.3zM2996.2 2105.2h2.7v0.8h-2.7zM3054.8 2097.6h3.4v0.8h-3.4zM3063.4 2177.1h2.6v0.9h-2.6zM3159.7 2143.7h2.3v1.4h-2.3zM2959.6 2077.6h3.6v0.8h-3.6zM3034.5 2113.1h2.5v1.0h-2.5zM3157.6 2056.0h1.1v2.0h-1.1zM3099.2 2091.4h3.8v1.0h-3.8zM3017.2 2166.0h7.5v4.3h-7.5zM3145.7 2111.1h6.8v3.6h-6.8zM3055.7 2121.2h7.1v4.5h-7.1zM3134.8 2126.4h3.3v2.9h-3.3zM3094.4 2168.0h5.1v3.0h-5.1zM2997.5 2152.6h7.6v2.3h-7.6zM3140.2 2082.8h7.9v3.4h-7.9zM3079.4 2123.5h8.2v3.1h-8.2zM3101.2 2129.1h5.7v4.9h-5.7zM3109.1 2160.8h3.4v2.3h-3.4zM3064.1 2072.7h7.9v2.2h-7.9zM3036.2 2148.8h3.5v3.9h-3.5zM3147.7 2165.5h5.7v4.9h-5.7zM3078.8 2179.1h6.6v3.8h-6.6zM3085.9 2173.0h6.0v4.1h-6.0zM3069.3 2104.4h5.1v5.0h-5.1zM3109.5 2126.9h5.5v4.6h-5.5zM3158.3 2081.5h4.4v3.0h-4.4zM3148.3 2086.8h3.4v3.4h-3.4zM3011.2 2102.7h6.8v3.3h-6.8zM3126.2 2154.5h4.7v2.7h-4.7zM3140.6 2175.9h6.4v4.3h-6.4zM3092.2 2115.7h4.7v2.8h-4.7zM3126.6 2082.9h7.9v4.1h-7.9zM3117.9 2143.4h4.2v3.9h-4.2zM3009.3 2154.8h8.8v2.6h-8.8zM3153.9 2082.2h6.7v5.0h-6.7zM3086.7 2085.3h4.9v4.3h-4.9zM3125.1 2174.6h6.2v2.5h-6.2zM3042.7 2116.8h7.7v2.3h-7.7zM3049.1 2149.3h3.9v4.0h-3.9zM3060.2 2090.0h4.3v2.2h-4.3zM3077.4 2109.1h3.7v3.6h-3.7zM3000.2 2176.0h8.9v2.9h-8.9zM3062.2 2083.1h7.2v4.2h-7.2zM3007.1 2142.0h6.3v3.0h-6.3zM3139.1 2138.5h5.7v4.6h-5.7zM3157.1 2140.1h6.9v4.1h-6.9zM3143.3 2159.1h6.4v3.4h-6.4zM3096.3 2118.8h5.5v3.0h-5.5zM3130.8 2122.3h6.1v3.1h-6.1zM3128.5 2130.2h8.0v4.5h-8.0zM3139.0 2169.4h4.5v3.4h-4.5zM3043.1 2105.4h4.5v4.3h-4.5zM3149.8 2123.1h6.3v3.7h-6.3zM2991.6 2170.7h7.8v4.2h-7.8zM3060.5 2157.1h8.4v4.3h-8.4zM3148.4 2093.8h3.2v4.4h-3.2zM3155.4 2167.0h8.7v4.6h-8.7zM3129.6 2093.8h5.4v3.7h-5.4zM3047.0 2110.3h7.5v4.8h-7.5zM2997.4 2108.1h8.9v4.7h-8.9zM3023.2 2121.4h5.0v3.1h-5.0zM3118.8 2176.2h4.6v3.2h-4.6z" fill="#282828"/>
<path d="M2905.4 2153.4h2.4v1.8h-2.4zM2908.9 2152.4h3.0v2.0h-3.0zM2905.9 2147.6h1.2v1.7h-1.2zM2905.9 2146.6h2.4v2.2h-2.4zM2908.2 2146.1h1.8v1.4h-1.8zM2908.8 2145.9h1.2v2.5h-1.2zM2907.2 2139.0h1.4v2.4h-1.4zM2909.3 2140.0h2.5v2.5h-2.5zM2908.7 2135.8h2.4v1.8h-2.4zM2912.3 2136.9h2.4v1.2h-2.4zM2910.1 2129.4h1.2v1.7h-1.2zM2912.9 2134.0h2.9v1.1h-2.9zM2913.5 2129.9h1.5v1.6h-1.5zM2911.4 2126.3h1.4v1.2h-1.4zM2914.6 2124.7h2.6v2.4h-2.6zM2913.7 2125.0h1.6v1.1h-1.6zM2912.7 2124.7h1.5v1.1h-1.5zM2912.7 2123.4h2.5v2.3h-2.5zM2916.3 2121.6h3.0v1.8h-3.0zM2914.1 2121.9h1.9v1.9h-1.9zM2917.4 2118.2h2.3v1.2h-2.3zM2916.9 2117.9h1.8v2.3h-1.8zM2917.7 2116.0h1.5v1.7h-1.5zM2920.6 2113.3h2.7v2.3h-2.7zM2923.4 2110.0h1.9v1.1h-1.9zM2920.5 2112.4h2.3v1.9h-2.3zM2922.8 2110.7h1.0v1.0h-1.0zM2924.2 2110.0h1.4v1.6h-1.4zM2924.3 2109.7h2.5v1.1h-2.5zM2924.7 2108.3h1.7v2.3h-1.7zM2926.0 2108.7h1.9v2.1h-1.9zM2925.0 2107.6h1.4v1.2h-1.4zM2924.4 2105.1h1.9v1.1h-1.9zM2928.8 2106.6h1.5v2.2h-1.5zM2926.7 2105.6h2.6v2.2h-2.6zM2929.2 2105.3h2.9v1.1h-2.9zM2927.3 2102.5h1.6v1.9h-1.6zM2930.2 2105.5h1.2v1.7h-1.2zM2933.8 2100.2h1.3v1.6h-1.3zM2930.2 2097.9h1.6v1.2h-1.6zM2933.9 2099.0h2.3v1.9h-2.3zM2937.0 2097.5h2.0v2.1h-2.0zM2936.4 2092.7h2.0v1.8h-2.0zM2935.9 2095.5h1.7v2.0h-1.7zM2937.3 2090.6h1.6v1.3h-1.6zM2938.7 2091.5h1.8v2.4h-1.8zM2942.7 2086.2h1.4v2.2h-1.4zM2940.8 2089.7h1.6v1.1h-1.6zM2944.5 2085.1h2.5v1.2h-2.5zM2944.8 2085.4h1.4v1.5h-1.4zM2948.2 2085.2h1.2v2.3h-1.2zM2945.1 2083.4h2.6v2.1h-2.6zM2949.8 2082.2h2.7v2.0h-2.7zM2947.7 2083.0h2.3v1.4h-2.3zM2947.5 2081.2h3.0v2.1h-3.0zM2951.2 2081.4h2.9v1.9h-2.9zM2953.9 2078.0h1.9v2.3h-1.9zM2953.4 2080.2h1.7v2.2h-1.7zM2956.0 2077.5h1.4v1.3h-1.4zM2955.2 2076.3h1.3v2.3h-1.3zM2953.7 2072.2h1.8v1.5h-1.8zM2957.5 2073.6h2.2v2.4h-2.2zM2955.9 2071.3h2.4v2.4h-2.4zM2957.5 2075.2h2.2v1.9h-2.2zM2959.1 2072.8h1.9v1.2h-1.9zM2959.0 2070.1h2.0v1.2h-2.0zM2962.0 2071.4h2.6v2.2h-2.6zM2964.1 2070.6h1.4v2.2h-1.4zM2967.7 2069.0h2.1v1.1h-2.1zM2963.9 2067.8h2.8v1.5h-2.8zM2970.9 2069.2h1.5v1.7h-1.5zM2970.6 2067.7h2.2v1.4h-2.2zM2969.6 2065.8h2.1v2.1h-2.1zM2970.1 2065.3h1.4v2.0h-1.4zM2975.5 2063.1h1.3v1.1h-1.3zM2972.2 2066.4h2.5v1.7h-2.5zM2979.5 2061.0h2.9v1.3h-2.9zM2978.5 2063.2h2.0v1.3h-2.0zM2981.2 2063.9h2.5v1.9h-2.5zM2983.1 2060.2h1.1v1.3h-1.1zM2983.2 2060.7h2.7v2.1h-2.7zM2985.3 2060.9h2.1v1.3h-2.1zM2987.6 2057.2h1.4v1.8h-1.4zM2985.7 2058.7h2.2v1.4h-2.2zM2992.6 2057.4h1.1v1.2h-1.1zM2988.9 2058.0h2.6v1.2h-2.6zM2992.7 2059.0h2.7v2.1h-2.7zM2994.5 2059.6h2.5v1.3h-2.5zM2996.8 2059.2h1.5v2.3h-1.5zM2998.1 2057.7h1.2v1.0h-1.2zM3000.7 2058.0h2.0v1.3h-2.0zM3002.0 2056.9h1.4v2.2h-1.4zM3003.8 2057.1h1.8v1.4h-1.8zM3002.5 2057.0h2.3v1.6h-2.3zM3004.7 2055.1h2.1v1.2h-2.1zM3004.7 2057.7h1.7v1.6h-1.7zM3007.4 2055.6h1.3v1.1h-1.3zM3009.6 2055.4h2.2v1.6h-2.2zM3011.5 2057.5h2.7v1.2h-2.7zM3014.8 2056.7h2.8v1.8h-2.8zM3014.8 2057.6h2.4v1.3h-2.4zM3015.1 2054.1h1.8v2.5h-1.8zM3019.2 2055.9h2.7v1.6h-2.7zM3018.5 2055.8h1.7v1.4h-1.7zM3023.4 2053.5h1.4v1.1h-1.4zM3021.8 2055.8h1.4v1.0h-1.4zM3026.7 2058.5h1.2v1.6h-1.2zM3024.7 2056.3h2.0v2.2h-2.0zM3027.7 2056.0h1.2v1.9h-1.2zM3028.3 2056.9h2.2v1.4h-2.2zM3036.2 2057.7h2.8v2.1h-2.8zM3032.6 2055.8h2.0v2.1h-2.0zM3038.4 2058.7h2.1v1.0h-2.1zM3040.0 2057.1h2.9v2.2h-2.9zM3042.3 2056.4h1.3v1.7h-1.3zM3044.2 2056.1h1.8v2.4h-1.8zM3045.3 2054.6h1.2v2.0h-1.2zM3047.6 2058.6h2.2v2.4h-2.2zM3048.8 2055.1h2.5v1.5h-2.5zM3052.6 2054.7h1.5v1.2h-1.5zM3054.2 2055.3h1.6v1.9h-1.6zM3057.9 2058.5h2.7v1.0h-2.7zM3057.7 2057.0h2.5v2.4h-2.5zM3056.6 2057.5h2.0v2.0h-2.0zM3061.3 2054.7h1.5v2.5h-1.5zM3060.2 2059.0h2.9v1.7h-2.9zM3063.2 2058.7h1.7v1.3h-1.7zM3063.1 2056.1h2.6v2.3h-2.6zM3066.3 2057.6h1.5v2.2h-1.5zM3066.8 2058.6h1.3v1.3h-1.3zM3069.3 2055.7h2.9v2.0h-2.9zM3072.0 2056.1h2.9v1.6h-2.9zM3076.4 2054.8h2.2v1.6h-2.2zM3075.7 2054.7h1.1v2.0h-1.1zM3074.6 2055.5h2.5v2.2h-2.5zM3078.1 2055.4h3.0v1.4h-3.0zM3080.5 2058.1h1.1v1.4h-1.1zM3079.3 2059.1h1.9v1.4h-1.9zM3083.8 2059.4h1.2v2.3h-1.2zM3082.5 2057.1h1.9v1.5h-1.9zM3082.7 2055.8h1.0v1.1h-1.0zM3082.6 2055.3h2.0v1.2h-2.0zM3085.8 2056.3h1.3v1.7h-1.3zM3087.3 2056.2h1.7v1.4h-1.7zM3088.1 2056.0h1.4v1.5h-1.4zM3087.7 2058.8h1.8v2.2h-1.8zM3089.7 2058.4h1.7v1.2h-1.7zM3091.6 2056.9h1.9v2.1h-1.9zM3092.8 2058.6h2.8v2.3h-2.8zM3091.6 2059.0h2.3v2.3h-2.3zM3097.9 2056.3h2.9v1.8h-2.9zM3098.4 2060.6h1.4v1.1h-1.4zM3097.1 2060.6h1.7v1.4h-1.7zM3097.3 2057.3h2.3v1.3h-2.3zM3102.5 2060.3h1.4v1.4h-1.4zM3101.0 2058.9h2.1v1.8h-2.1zM3105.4 2059.4h1.9v1.7h-1.9zM3104.5 2057.3h2.5v1.5h-2.5zM3108.5 2060.9h1.3v2.5h-1.3zM3108.4 2060.9h1.0v2.5h-1.0zM3109.7 2061.2h2.0v2.3h-2.0zM3105.5 2059.6h1.2v2.1h-1.2zM3107.9 2064.7h1.6v1.4h-1.6zM3111.8 2062.2h1.4v2.0h-1.4zM3111.0 2064.3h1.4v1.7h-1.4zM3109.5 2061.9h1.4v2.3h-1.4zM3111.6 2062.4h1.6v1.6h-1.6zM3113.8 2065.6h2.1v1.8h-2.1zM3114.8 2065.3h1.4v1.0h-1.4zM3113.6 2066.4h1.1v1.5h-1.1zM3117.8 2067.4h1.4v1.8h-1.4zM3113.0 2066.1h2.1v2.0h-2.1zM3115.5 2069.7h1.3v1.1h-1.3zM3115.9 2071.4h1.4v2.1h-1.4zM3118.6 2074.7h1.3v2.5h-1.3zM3114.8 2072.7h2.4v1.7h-2.4zM3116.6 2075.5h1.1v1.3h-1.1zM3119.3 2074.1h1.9v2.3h-1.9zM3118.6 2077.1h2.9v1.8h-2.9zM3118.6 2076.8h2.1v1.2h-2.1zM3122.0 2077.3h1.4v2.3h-1.4zM3120.4 2082.0h2.4v2.3h-2.4zM3119.0 2082.7h2.0v1.0h-2.0zM3118.6 2081.0h2.8v2.4h-2.8zM3122.3 2083.0h2.2v2.3h-2.2zM3118.3 2080.9h1.7v1.9h-1.7zM3119.1 2082.9h2.0v1.8h-2.0zM3122.0 2087.0h2.9v1.1h-2.9zM3118.3 2086.1h1.1v1.7h-1.1zM3119.7 2088.6h2.9v2.4h-2.9zM3119.6 2086.9h2.0v2.0h-2.0zM3118.0 2086.2h1.5v1.6h-1.5zM3119.3 2090.8h2.4v1.4h-2.4zM3118.6 2090.4h2.2v2.2h-2.2zM3121.7 2089.6h2.3v1.1h-2.3zM3121.7 2091.1h2.1v2.3h-2.1zM3124.7 2090.3h1.2v2.3h-1.2zM3127.2 2088.7h2.9v1.8h-2.9zM3126.8 2090.7h1.3v1.8h-1.3zM3127.7 2092.3h1.7v1.1h-1.7zM3131.2 2091.7h2.2v2.2h-2.2zM3129.1 2093.9h2.5v2.3h-2.5zM3132.0 2091.5h1.3v2.2h-1.3zM3134.0 2092.6h2.7v1.7h-2.7zM3136.8 2090.4h2.9v2.1h-2.9zM3132.5 2093.6h2.3v2.2h-2.3zM3134.5 2091.4h1.9v1.9h-1.9zM3135.6 2095.4h1.8v1.6h-1.8zM3137.0 2093.0h2.7v2.2h-2.7zM3135.6 2092.0h1.7v1.6h-1.7zM3137.8 2094.5h1.9v2.3h-1.9zM3139.4 2092.2h1.1v2.3h-1.1zM3143.3 2095.9h2.4v1.4h-2.4zM3141.6 2092.8h2.8v1.9h-2.8zM3145.0 2096.7h2.9v2.3h-2.9zM3142.4 2094.2h2.5v1.2h-2.5zM3142.5 2096.6h2.7v2.2h-2.7zM3146.2 2098.6h2.8v1.2h-2.8zM3145.6 2096.8h2.2v1.6h-2.2zM3145.4 2098.4h1.0v1.8h-1.0zM3149.4 2097.3h1.2v2.0h-1.2zM3148.7 2098.8h2.8v2.2h-2.8zM3147.8 2101.2h1.9v2.0h-1.9zM3147.8 2101.0h2.9v2.2h-2.9zM3149.2 2100.8h1.1v2.1h-1.1zM3152.9 2102.2h1.1v1.2h-1.1zM3154.4 2103.5h1.9v1.3h-1.9zM3152.0 2103.7h2.9v1.6h-2.9zM3152.3 2105.7h1.2v1.4h-1.2zM3156.7 2106.5h1.2v2.0h-1.2zM3154.7 2106.4h2.5v1.2h-2.5zM3154.6 2104.4h2.3v1.4h-2.3zM3154.2 2106.4h2.3v1.6h-2.3zM3156.7 2108.5h1.2v1.8h-1.2zM3157.1 2109.8h1.6v1.1h-1.6zM3158.7 2112.5h1.9v1.8h-1.9zM3157.1 2112.4h2.4v2.3h-2.4zM3156.1 2115.6h1.6v2.1h-1.6zM3159.9 2114.4h2.6v2.4h-2.6zM3159.8 2116.7h2.8v2.3h-2.8zM3158.1 2115.2h1.3v1.2h-1.3zM3157.8 2117.7h1.8v1.2h-1.8zM3158.0 2119.3h3.0v1.9h-3.0zM3160.8 2122.6h2.9v1.3h-2.9zM3161.4 2124.1h2.5v1.3h-2.5zM3160.2 2124.1h2.4v1.2h-2.4zM3157.2 2126.3h2.9v1.5h-2.9zM3161.6 2125.1h2.2v2.0h-2.2zM3157.8 2128.2h1.7v2.4h-1.7zM3160.3 2128.0h2.7v1.1h-2.7zM3160.1 2133.5h1.2v1.4h-1.2zM3161.2 2134.8h1.4v2.1h-1.4zM3157.7 2135.5h2.7v1.3h-2.7zM3157.5 2137.8h1.4v1.5h-1.4zM3158.5 2139.0h2.6v1.0h-2.6zM3155.0 2138.8h2.0v1.7h-2.0zM3155.4 2141.0h1.5v1.8h-1.5zM3157.4 2139.7h2.9v1.2h-2.9zM3152.5 2138.0h1.5v1.9h-1.5zM3152.8 2142.8h2.1v2.3h-2.1zM3153.6 2140.7h2.2v2.5h-2.2zM3153.9 2141.3h3.0v2.4h-3.0zM3152.5 2143.6h1.7v2.3h-1.7zM3151.0 2143.5h1.0v1.2h-1.0zM3147.7 2146.6h1.5v1.5h-1.5zM3147.2 2146.2h2.9v2.3h-2.9zM3151.3 2149.1h1.3v1.5h-1.3zM3147.6 2150.0h1.5v1.8h-1.5zM3148.5 2151.1h2.3v2.5h-2.3zM3148.0 2150.3h2.7v1.0h-2.7zM3149.3 2151.0h1.9v1.5h-1.9zM3148.0 2153.9h2.2v1.0h-2.2zM3146.9 2154.0h1.6v1.8h-1.6zM3147.6 2153.6h1.2v1.5h-1.2zM3148.6 2155.5h2.8v2.3h-2.8zM3145.6 2157.9h1.8v1.7h-1.8zM3148.9 2159.2h1.6v2.3h-1.6zM3145.2 2159.0h2.2v1.1h-2.2zM3148.0 2161.4h1.5v2.3h-1.5zM3145.5 2159.8h2.4v1.7h-2.4zM3148.0 2163.0h2.4v2.3h-2.4zM3145.7 2162.5h1.8v1.1h-1.8zM3148.6 2160.5h1.7v1.2h-1.7zM3146.9 2164.9h1.9v2.2h-1.9zM3146.8 2165.5h1.4v1.2h-1.4zM3147.2 2163.5h2.5v1.2h-2.5zM3146.3 2167.2h1.8v1.2h-1.8zM3147.9 2165.6h2.9v2.2h-2.9zM3145.2 2166.3h1.3v1.5h-1.3zM3146.8 2169.3h2.0v1.7h-2.0zM3147.3 2172.1h1.2v1.7h-1.2zM3145.1 2171.8h2.9v1.8h-2.9zM3144.0 2171.9h2.4v2.4h-2.4zM3144.1 2170.2h2.9v2.0h-2.9zM3143.5 2170.5h2.3v1.0h-2.3zM3141.1 2172.6h2.7v2.3h-2.7zM3144.0 2175.2h1.9v1.5h-1.9zM3140.4 2174.8h1.9v1.6h-1.9zM3142.6 2177.3h3.0v2.2h-3.0zM3141.0 2177.7h2.9v1.5h-2.9zM3137.5 2177.0h2.5v2.0h-2.5zM3141.0 2177.8h1.2v1.4h-1.2zM3137.2 2176.3h2.7v1.3h-2.7zM3139.2 2180.5h1.5v2.3h-1.5zM3138.2 2177.8h2.0v1.5h-2.0zM3136.8 2176.4h2.5v2.4h-2.5zM3136.3 2181.6h2.6v1.5h-2.6zM3135.1 2178.3h2.0v2.1h-2.0zM3136.2 2178.3h2.4v2.4h-2.4zM3133.8 2178.3h2.0v1.4h-2.0zM3135.0 2179.2h2.8v1.3h-2.8zM3132.2 2183.2h1.9v2.0h-1.9zM3135.1 2183.8h2.8v1.6h-2.8zM3134.3 2179.5h2.1v2.1h-2.1zM3131.4 2179.4h2.0v1.8h-2.0zM3131.6 2181.5h1.1v1.7h-1.1zM3129.5 2181.8h1.4v2.0h-1.4zM3129.4 2180.3h1.6v1.4h-1.6zM3125.5 2181.0h1.7v1.5h-1.7zM3124.0 2181.4h2.6v2.3h-2.6zM3123.1 2182.7h1.7v1.7h-1.7zM3119.9 2180.4h1.3v1.7h-1.3zM3116.1 2181.6h2.2v1.8h-2.2zM3120.0 2182.6h1.7v2.0h-1.7zM3112.3 2184.2h1.5v2.0h-1.5zM3115.5 2182.9h2.6v1.1h-2.6zM3112.8 2182.8h3.0v2.2h-3.0zM3109.4 2183.7h3.0v2.5h-3.0zM3107.0 2182.5h1.2v1.5h-1.2zM3106.3 2184.9h1.2v2.1h-1.2zM3104.6 2186.6h2.2v1.6h-2.2zM3103.4 2186.4h2.6v1.8h-2.6zM3099.7 2184.2h1.0v2.1h-1.0zM3102.3 2184.1h2.5v1.0h-2.5zM3098.3 2186.3h1.2v2.4h-1.2zM3097.2 2187.1h2.7v2.2h-2.7zM3093.4 2183.3h2.1v2.4h-2.1zM3093.6 2185.4h1.8v1.2h-1.8zM3093.9 2185.9h1.9v2.0h-1.9zM3090.6 2185.4h2.5v1.4h-2.5zM3089.5 2187.8h2.0v2.2h-2.0zM3091.5 2186.9h1.6v1.2h-1.6zM3089.7 2184.5h2.1v1.4h-2.1zM3090.4 2183.0h2.1v2.5h-2.1zM3086.2 2184.2h2.6v1.7h-2.6zM3085.9 2187.0h1.3v1.4h-1.3zM3081.5 2185.8h1.5v1.7h-1.5zM3085.2 2187.2h1.0v2.4h-1.0zM3082.6 2183.3h2.4v1.8h-2.4zM3083.4 2184.0h2.6v2.1h-2.6zM3075.8 2185.4h1.2v1.8h-1.2zM3075.5 2184.2h1.3v1.7h-1.3zM3075.6 2185.7h1.3v1.1h-1.3zM3071.8 2187.3h2.1v1.9h-2.1zM3069.3 2187.4h2.9v1.5h-2.9zM3069.7 2185.7h1.4v1.2h-1.4zM3066.7 2183.5h1.2v2.4h-1.2zM3068.5 2183.8h2.4v2.0h-2.4zM3064.8 2185.7h2.8v1.1h-2.8zM3061.5 2185.8h1.3v1.4h-1.3zM3060.8 2186.7h1.4v1.8h-1.4zM3057.0 2185.2h2.8v2.3h-2.8zM3054.7 2185.8h1.3v1.2h-1.3zM3059.1 2187.4h1.1v1.9h-1.1zM3055.1 2183.0h2.0v1.5h-2.0zM3052.5 2185.2h1.5v1.9h-1.5zM3051.8 2183.4h2.8v2.0h-2.8zM3050.6 2184.6h1.2v2.1h-1.2zM3048.9 2187.4h1.7v1.7h-1.7zM3048.7 2183.5h1.7v2.4h-1.7zM3045.8 2187.1h1.3v1.6h-1.3zM3047.3 2186.9h1.1v1.6h-1.1zM3043.2 2186.9h2.7v1.2h-2.7zM3045.6 2184.5h1.3v1.2h-1.3zM3042.5 2183.5h1.5v1.1h-1.5zM3044.5 2184.9h2.3v1.5h-2.3zM3040.3 2184.3h2.7v1.3h-2.7zM3038.4 2187.3h2.4v2.0h-2.4zM3037.2 2184.9h1.5v1.3h-1.5zM3035.0 2185.2h1.7v2.2h-1.7zM3034.9 2185.3h1.5v1.2h-1.5zM3035.8 2187.2h2.8v2.0h-2.8zM3032.0 2186.7h1.3v1.0h-1.3zM3032.5 2186.5h2.1v1.4h-2.1zM3027.8 2186.6h1.2v1.9h-1.2zM3029.7 2189.7h1.9v1.7h-1.9zM3025.9 2188.1h2.9v2.0h-2.9zM3024.9 2187.7h2.2v1.5h-2.2zM3025.1 2188.2h2.7v2.0h-2.7zM3020.9 2187.3h2.1v2.0h-2.1zM3018.9 2188.3h1.9v1.2h-1.9zM3018.7 2191.5h1.1v1.6h-1.1zM3015.8 2188.1h2.0v2.0h-2.0zM3016.4 2192.4h1.5v2.2h-1.5zM3011.0 2191.5h1.0v2.3h-1.0zM3015.0 2189.9h1.1v1.3h-1.1zM3009.5 2193.7h2.8v2.3h-2.8zM3007.9 2192.7h1.7v1.1h-1.7zM3007.2 2191.5h3.0v1.6h-3.0zM3005.5 2191.5h1.3v1.7h-1.3zM3005.6 2194.6h2.6v1.2h-2.6zM3002.2 2191.7h1.1v1.3h-1.1zM3002.1 2192.9h1.8v1.2h-1.8zM3001.2 2195.4h1.4v1.6h-1.4zM2997.9 2195.0h1.1v1.9h-1.1zM2995.0 2191.3h2.6v1.3h-2.6zM2992.9 2192.3h2.2v1.3h-2.2zM2996.0 2192.4h2.5v1.2h-2.5zM2992.6 2194.9h2.2v2.3h-2.2zM2992.2 2192.1h1.3v1.1h-1.3zM2985.4 2196.1h2.4v1.2h-2.4zM2986.3 2195.7h2.0v2.5h-2.0zM2985.4 2197.0h1.9v1.4h-1.9zM2981.7 2195.0h1.8v1.2h-1.8zM2982.2 2193.0h2.7v1.2h-2.7zM2978.9 2192.6h2.8v1.6h-2.8zM2975.1 2192.8h1.8v1.2h-1.8zM2975.6 2193.6h1.6v1.1h-1.6zM2973.4 2193.4h2.3v2.4h-2.3zM2971.1 2197.4h1.6v1.4h-1.6zM2969.3 2197.7h2.4v1.7h-2.4zM2967.7 2195.9h1.8v1.1h-1.8zM2967.8 2195.8h2.3v2.4h-2.3zM2966.9 2194.8h2.3v1.7h-2.3zM2961.7 2193.1h2.4v1.0h-2.4zM2964.4 2194.5h3.0v2.2h-3.0zM2959.0 2195.0h2.1v1.9h-2.1zM2962.7 2194.5h1.3v1.7h-1.3zM2956.2 2195.7h3.0v1.8h-3.0zM2955.6 2196.5h2.5v1.8h-2.5zM2953.0 2194.3h2.3v2.1h-2.3zM2952.8 2194.7h1.2v1.0h-1.2zM2952.0 2193.9h2.7v2.4h-2.7zM2950.9 2195.7h1.0v1.3h-1.0zM2948.0 2193.7h2.9v1.1h-2.9zM2949.0 2194.9h3.0v2.5h-3.0zM2948.3 2198.2h1.3v1.3h-1.3zM2945.5 2194.7h2.7v1.8h-2.7zM2943.8 2195.6h2.9v1.5h-2.9zM2941.0 2195.9h2.2v1.4h-2.2zM2939.6 2198.1h2.6v1.4h-2.6zM2938.4 2194.6h2.6v1.8h-2.6zM2935.0 2195.1h1.1v1.9h-1.1zM2937.5 2197.6h1.9v1.9h-1.9zM2933.6 2194.4h2.8v2.4h-2.8zM2932.9 2197.3h2.5v1.1h-2.5zM2934.9 2195.9h1.3v1.8h-1.3zM2935.2 2196.2h2.9v1.3h-2.9zM2933.8 2194.5h2.9v2.4h-2.9zM2931.2 2197.4h1.4v1.1h-1.4zM2929.0 2197.0h1.1v1.8h-1.1zM2931.2 2194.2h2.1v1.4h-2.1zM2932.0 2194.3h2.0v2.3h-2.0zM2931.8 2194.5h2.4v1.3h-2.4zM2931.3 2193.9h1.1v1.7h-1.1zM2929.1 2195.4h1.8v1.0h-1.8zM2929.3 2196.2h1.6v2.3h-1.6zM2927.2 2193.7h1.2v1.1h-1.2zM2927.2 2191.8h1.2v2.1h-1.2zM2927.4 2192.1h1.7v2.5h-1.7zM2926.5 2192.7h2.3v2.4h-2.3zM2924.4 2193.0h2.5v1.5h-2.5zM2925.2 2191.8h2.0v1.9h-2.0zM2921.7 2194.0h1.3v2.3h-1.3zM2919.3 2190.2h2.8v2.1h-2.8zM2921.4 2188.9h1.8v1.3h-1.8zM2919.0 2189.5h1.1v1.3h-1.1zM2921.5 2190.9h1.5v2.0h-1.5zM2919.1 2189.0h1.9v1.1h-1.9zM2918.1 2187.3h1.9v2.1h-1.9zM2915.9 2185.0h2.8v2.1h-2.8zM2918.4 2184.0h1.9v1.7h-1.9zM2918.2 2182.9h1.5v2.3h-1.5zM2914.8 2181.4h1.4v1.5h-1.4zM2915.1 2179.8h2.5v2.0h-2.5zM2913.9 2182.6h2.8v1.1h-2.8zM2916.4 2179.0h1.7v2.4h-1.7zM2917.2 2176.9h2.7v1.0h-2.7zM2913.9 2174.9h1.1v1.9h-1.1zM2912.1 2174.8h1.9v1.6h-1.9zM2914.6 2172.3h2.3v2.3h-2.3zM2915.3 2174.7h1.5v2.4h-1.5zM2914.1 2172.7h1.8v1.3h-1.8zM2914.2 2174.4h1.1v1.0h-1.1zM2911.0 2170.3h2.6v1.2h-2.6zM2913.1 2172.7h1.7v1.9h-1.7zM2909.3 2171.1h2.7v2.1h-2.7zM2908.9 2170.8h2.3v2.4h-2.3zM2911.5 2169.7h1.1v1.5h-1.1zM2909.2 2167.9h1.7v1.3h-1.7zM2909.6 2168.2h2.2v2.3h-2.2zM2908.6 2164.2h2.1v2.1h-2.1zM2910.0 2164.1h2.0v2.3h-2.0zM2907.2 2162.7h1.4v1.7h-1.4zM2909.7 2164.3h1.4v1.5h-1.4zM2906.9 2163.0h2.8v1.2h-2.8zM2908.8 2161.8h1.3v2.0h-1.3zM2909.7 2158.5h2.2v1.1h-2.2zM2909.1 2157.2h1.4v1.1h-1.4zM2905.5 2160.4h2.5v1.1h-2.5zM2907.6 2155.7h1.7v2.0h-1.7zM2907.3 2156.5h2.8v2.3h-2.8zM2906.9 2156.0h1.5v2.3h-1.5zM2908.8 2154.1h2.9v2.0h-2.9z" fill="#282828"/>
</g>
<path d="M2995,2228 L2996,2200 C2994,2192 2986,2186 2978,2182 L2984,2178 C2992,2183 2998,2188 3001,2190 C3004,2186 3012,2180 3020,2176 L3024,2180 C3016,2186 3009,2193 3007,2200 L3007,2228 Z" fill="#2ea52e"/>
<path d="M3031.5,2228.6 L3031.5,2196 C3031,2190 3026,2188 3020,2186 L3045,2184 C3050,2186 3052,2188 3056,2189 C3062,2188 3066,2186 3074,2184 L3090,2186 C3080,2188 3076,2192 3075,2198 L3075,2228.6 L3066,2228.6 L3066,2204 C3066,2197 3060,2193 3056,2193 C3048,2193 3041,2198 3041.3,2205 L3041.3,2228.6 Z" fill="#b0dab0"/>
<rect x="3066" y="2200" width="9" height="28.6" fill="#d4ecd4"/>
<rect x="2913" y="2228.3" width="205" height="19.5" fill="url(#lgb)"/>
<text x="2941.7" y="2242.5" style="font-family:'Liberation Sans',Arial,sans-serif;font-size:11.5px;fill:#d8f4d8" textLength="119" lengthAdjust="spacingAndGlyphs">THE TREE NEXT DOOR</text>
</svg>
</body></html>
